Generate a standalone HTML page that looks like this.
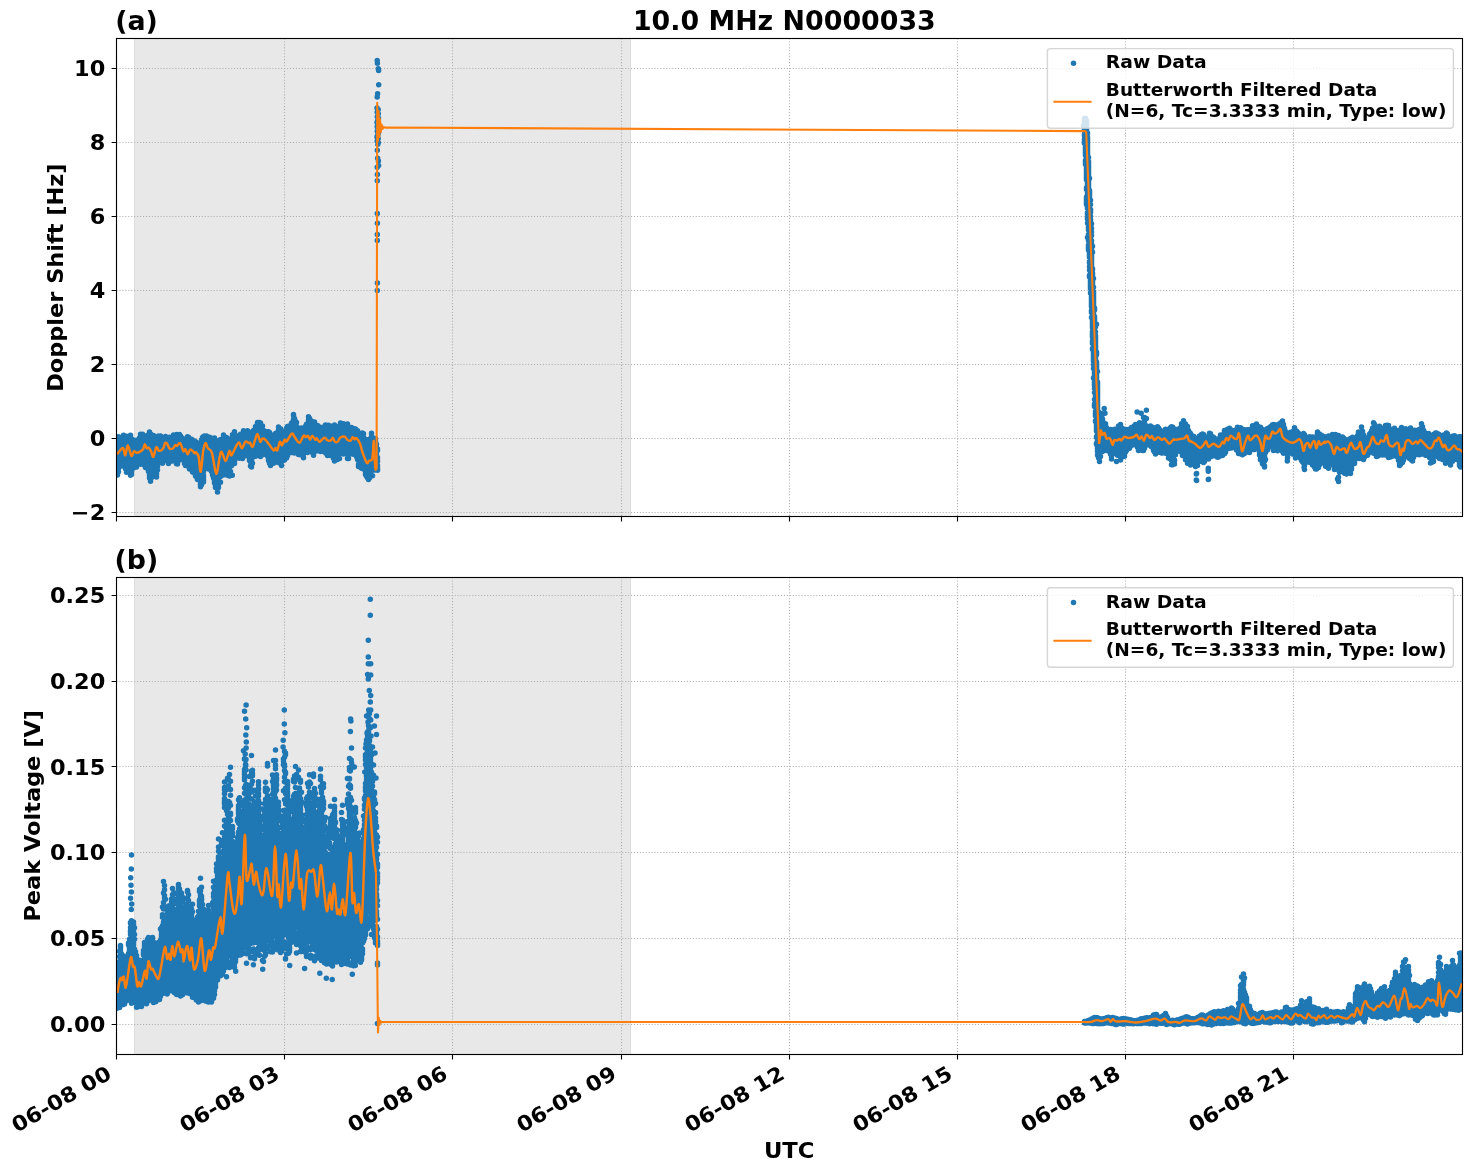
<!DOCTYPE html><html><head><meta charset="utf-8"><title>10.0 MHz N0000033</title>
<style>html,body{margin:0;padding:0;background:#fff;overflow:hidden}svg{display:block}text{font-family:"DejaVu Sans","Liberation Sans",sans-serif;font-weight:bold;fill:#000}</style></head><body>
<svg width="1472" height="1172" viewBox="0 0 1472 1172">
<rect width="1472" height="1172" fill="#fff"/>
<clipPath id="ca"><rect x="116.5" y="38.5" width="1346.0" height="478.0"/></clipPath>
<rect x="134.5" y="38.5" width="496.0" height="478.0" fill="#e8e8e8" stroke="#dedede" stroke-width="1"/>
<path d="M116.5 38.5V516.5M284.5 38.5V516.5M452.5 38.5V516.5M621.5 38.5V516.5M789.5 38.5V516.5M957.5 38.5V516.5M1125.5 38.5V516.5M1293.5 38.5V516.5M116.5 512.5H1462.5M116.5 438.5H1462.5M116.5 364.5H1462.5M116.5 290.5H1462.5M116.5 216.5H1462.5M116.5 142.5H1462.5M116.5 68.5H1462.5" stroke="#b0b0b0" stroke-width="1.11" stroke-dasharray="1.11 1.83" fill="none"/>
<g clip-path="url(#ca)"><path d="M116.5 440.1h0M116.5 443.4h0M116.5 445.1V449.1M116.5 451.5V458.1M116.5 462.5V468.1M116.5 470.6h0M117.5 436.9h0M117.5 439.2V439.6M117.5 441.4V442.5M117.5 444.8V463.2M117.5 464.8V468.0M117.5 472.1V473.2M117.5 475.1h0M118.5 436.7h0M118.5 439.9h0M118.5 442.3V462.8M118.5 465.0h0M118.5 467.4V468.2M118.5 471.7h0M119.5 438.3V439.1M119.5 441.0V466.8M120.5 438.0h0M120.5 440.7V442.3M120.5 444.1V450.8M120.5 453.4V464.6M121.5 440.4V461.2M121.5 465.5V465.9M122.5 440.3h0M122.5 442.5V462.8M122.5 464.4h0M123.5 435.2h0M123.5 438.0V458.6M123.5 460.3h0M123.5 462.1V465.6M124.5 436.9V438.5M124.5 441.2V464.8M125.5 436.7h0M125.5 439.6V445.7M125.5 447.7V462.5M125.5 464.1V468.7M126.5 436.3h0M126.5 441.1h0M126.5 442.8V463.3M126.5 466.1V466.9M126.5 472.3h0M127.5 440.7V456.8M127.5 458.5V463.4M127.5 467.5V468.1M128.5 440.7V462.2M128.5 467.0h0M129.5 440.6V442.3M129.5 444.5V450.0M129.5 451.8V455.2M129.5 457.3V460.1M129.5 462.8V464.2M129.5 466.5V467.9M129.5 469.5V472.6M130.5 435.2V436.5M130.5 441.9V465.1M130.5 467.6V471.2M130.5 475.3h0M131.5 442.3V444.0M131.5 447.0V454.5M131.5 456.3V465.0M131.5 468.2V471.8M131.5 474.5h0M132.5 439.4h0M132.5 441.1h0M132.5 443.2V457.1M132.5 458.8V468.5M133.5 441.1V447.5M133.5 449.4V463.4M133.5 465.3h0M133.5 467.6V468.1M134.5 444.2V455.3M134.5 457.1V463.4M134.5 465.1h0M135.5 441.0V444.8M135.5 446.4V461.5M135.5 463.2V464.7M136.5 440.2h0M136.5 443.2V467.1M137.5 443.0V458.8M138.5 440.4h0M138.5 442.8V463.7M139.5 438.1h0M139.5 440.7V443.0M139.5 444.8V455.4M139.5 457.1V459.9M139.5 461.5V463.3M140.5 434.2h0M140.5 437.5h0M140.5 439.2V440.4M140.5 442.6V459.1M140.5 460.7V461.3M140.5 464.3h0M141.5 435.7V436.4M141.5 438.1h0M141.5 439.8V462.5M142.5 434.3h0M142.5 437.5V438.0M142.5 440.0V458.1M142.5 460.5V462.6M143.5 439.7V456.9M143.5 458.8h0M143.5 461.6V462.5M143.5 464.5h0M144.5 439.2V455.0M144.5 457.6h0M144.5 460.9h0M144.5 462.8h0M144.5 465.2h0M145.5 437.5V459.7M145.5 461.4V462.7M145.5 466.2V467.5M146.5 436.7V460.1M146.5 462.2h0M146.5 463.9V465.0M146.5 466.6h0M147.5 435.3h0M147.5 437.3h0M147.5 439.6V455.4M147.5 457.1V458.0M147.5 460.0h0M147.5 461.7V465.4M147.5 468.6h0M148.5 437.6h0M148.5 439.4V450.6M148.5 453.2V454.1M148.5 456.9V459.8M148.5 461.6h0M148.5 463.3V465.9M148.5 467.5h0M148.5 470.3V471.5M149.5 431.9h0M149.5 433.9h0M149.5 435.5V458.9M149.5 462.1V465.0M149.5 467.7h0M149.5 475.3h0M149.5 477.9h0M150.5 434.1h0M150.5 437.1V437.6M150.5 439.6V441.7M150.5 443.4V449.7M150.5 451.9V454.4M150.5 456.3V457.5M150.5 459.4V467.9M150.5 469.9h0M150.5 473.2h0M150.5 480.1h0M151.5 439.8V440.7M151.5 443.4V466.0M151.5 468.3h0M151.5 472.7h0M151.5 474.7h0M151.5 477.4h0M152.5 440.0V443.6M152.5 445.6h0M152.5 447.3V457.2M152.5 458.9V463.7M152.5 465.4h0M152.5 467.6V471.4M153.5 435.6V436.6M153.5 440.0V445.0M153.5 446.7V461.6M153.5 464.0V465.0M153.5 466.9V469.8M153.5 472.5h0M154.5 440.7h0M154.5 445.7V463.6M154.5 465.3V465.8M154.5 469.4h0M155.5 440.1V457.8M155.5 460.0V461.5M155.5 463.4V469.6M155.5 473.4h0M156.5 440.9h0M156.5 442.6V463.9M156.5 467.2V471.8M156.5 473.8V474.3M156.5 477.1h0M157.5 439.8V440.6M157.5 442.6V460.3M157.5 462.5h0M157.5 466.0V466.5M157.5 470.1h0M158.5 436.0h0M158.5 437.9V448.3M158.5 449.9V461.9M159.5 436.3V436.9M159.5 439.1h0M159.5 441.1V457.4M159.5 459.0h0M160.5 436.0h0M160.5 439.3V461.2M161.5 438.4V439.2M161.5 442.1V454.8M161.5 456.4V458.3M162.5 439.8h0M162.5 441.4V458.0M162.5 459.6V460.6M162.5 463.3h0M163.5 438.4h0M163.5 440.3V452.3M163.5 455.3V460.4M164.5 437.7V457.2M165.5 436.4V457.9M166.5 438.3V457.2M166.5 460.8h0M167.5 437.4h0M167.5 439.2V451.1M167.5 453.2V455.6M168.5 439.6V459.9M168.5 463.4h0M169.5 437.2V438.0M169.5 439.7V449.3M169.5 450.9V460.6M170.5 439.4V440.1M170.5 441.7V458.5M171.5 439.9V454.9M171.5 458.0V460.9M172.5 439.9V454.3M172.5 461.1h0M173.5 435.1V435.8M173.5 438.0h0M173.5 440.0V455.0M173.5 457.5V458.1M174.5 436.0V437.7M174.5 440.3V454.5M174.5 458.1h0M175.5 435.2V437.2M175.5 439.6V453.2M175.5 455.1V455.9M176.5 434.5V435.5M176.5 437.9V454.5M176.5 456.5h0M176.5 460.9h0M176.5 463.7h0M177.5 436.5h0M177.5 439.0V456.7M177.5 458.6h0M177.5 461.4V464.1M178.5 436.2V453.2M178.5 454.8V456.1M178.5 457.7h0M179.5 434.4V436.6M179.5 438.3V452.5M179.5 455.4h0M179.5 459.3V459.9M180.5 436.1V452.2M180.5 454.2V454.6M181.5 437.6h0M181.5 439.3V459.2M182.5 439.6V456.9M183.5 441.3V458.5M184.5 440.2V456.2M184.5 458.8V463.5M185.5 439.1V439.6M185.5 441.6V458.1M185.5 459.8V460.1M185.5 461.8V465.6M186.5 438.3V458.7M186.5 460.5h0M186.5 462.6h0M186.5 464.5V465.3M187.5 436.7h0M187.5 438.9V462.7M188.5 437.3V439.3M188.5 442.7V448.4M188.5 450.2V460.6M188.5 462.5h0M188.5 465.0V466.5M189.5 438.9h0M189.5 440.8V457.6M189.5 459.5V462.8M189.5 467.3h0M189.5 469.1h0M190.5 441.0V464.4M190.5 468.7h0M191.5 439.3h0M191.5 441.9V465.3M191.5 467.6h0M192.5 439.9V444.4M192.5 446.3V462.9M192.5 466.5h0M192.5 472.1h0M193.5 442.6V461.2M193.5 463.3V466.4M193.5 468.0V469.1M194.5 440.9V444.3M194.5 446.0V460.5M194.5 463.4V464.9M194.5 467.4V470.7M194.5 473.0h0M195.5 441.7V443.6M195.5 446.3V463.4M195.5 465.4h0M195.5 473.7V476.1M196.5 443.4V465.4M196.5 470.2h0M196.5 475.7V476.9M197.5 444.5V463.6M197.5 465.3V467.2M197.5 469.1V469.7M197.5 471.9h0M197.5 473.6V473.9M197.5 476.4h0M197.5 479.5h0M198.5 443.2V444.6M198.5 446.5V465.3M198.5 467.0V468.4M198.5 473.1h0M198.5 478.2h0M199.5 446.1h0M199.5 448.8h0M199.5 451.9V453.6M199.5 456.9V457.3M199.5 459.3V479.7M200.5 451.2h0M200.5 454.4h0M200.5 457.0V458.4M200.5 460.1V463.6M200.5 465.3V479.4M200.5 481.8h0M200.5 484.0V484.9M200.5 486.8h0M201.5 439.9h0M201.5 444.1h0M201.5 446.0h0M201.5 447.7h0M201.5 449.5V455.6M201.5 458.0V476.3M201.5 480.4h0M201.5 482.2h0M201.5 484.8h0M202.5 437.4h0M202.5 440.6h0M202.5 443.3V447.6M202.5 449.5V467.7M202.5 469.7h0M202.5 471.6V474.4M202.5 476.6V478.0M202.5 482.0h0M203.5 436.5V436.9M203.5 442.1V455.3M203.5 457.4V462.9M203.5 466.7h0M203.5 468.6V469.0M203.5 471.5h0M203.5 475.1h0M203.5 477.1h0M203.5 479.4V480.2M203.5 482.0h0M204.5 436.0h0M204.5 437.6V441.4M204.5 443.2V451.5M204.5 454.6V457.9M204.5 459.9V464.5M204.5 466.3h0M205.5 436.5V457.8M206.5 436.0h0M206.5 438.1V450.8M206.5 452.5V459.9M206.5 463.1h0M207.5 437.7V457.1M208.5 440.2V445.5M208.5 447.7V460.7M208.5 462.9h0M208.5 465.4h0M208.5 469.0h0M209.5 437.3V439.0M209.5 441.6V459.2M209.5 461.2V463.5M209.5 468.6h0M210.5 437.7h0M210.5 439.5h0M210.5 442.9V459.2M210.5 460.9V463.8M211.5 441.1V459.6M211.5 462.1V463.3M211.5 465.2h0M211.5 467.4h0M211.5 471.5h0M212.5 444.2h0M212.5 447.2V468.5M212.5 475.1h0M213.5 443.2h0M213.5 446.3V473.8M213.5 476.5V478.0M214.5 438.0h0M214.5 441.4h0M214.5 443.4h0M214.5 447.1V447.8M214.5 449.4V450.4M214.5 453.3h0M214.5 454.9V459.9M214.5 461.6V473.6M214.5 475.2V481.3M214.5 483.1h0M215.5 446.3h0M215.5 448.7h0M215.5 451.5V452.8M215.5 454.8V464.0M215.5 466.2V482.4M215.5 486.3V487.4M216.5 448.5h0M216.5 453.4h0M216.5 455.0V456.7M216.5 459.6V463.1M216.5 465.6V466.4M216.5 469.2V482.8M216.5 485.9V487.3M217.5 443.7h0M217.5 446.0h0M217.5 450.5h0M217.5 455.1h0M217.5 458.5V482.1M217.5 486.2h0M217.5 492.0h0M218.5 440.7V448.3M218.5 449.9V454.8M218.5 456.5V468.6M218.5 471.1V476.6M218.5 479.9h0M218.5 484.5h0M218.5 487.4h0M219.5 442.4h0M219.5 446.5h0M219.5 448.9V468.3M219.5 470.1V472.1M219.5 474.1V474.8M219.5 477.1h0M219.5 482.6h0M220.5 439.5h0M220.5 441.9V443.3M220.5 445.0V446.1M220.5 448.6V464.2M220.5 466.5h0M220.5 468.3h0M220.5 469.9V471.5M220.5 474.0h0M220.5 476.4h0M220.5 482.2h0M221.5 440.6V457.1M221.5 459.0V471.2M221.5 474.7h0M222.5 441.3V463.9M222.5 466.7V467.8M222.5 470.5h0M222.5 473.1V473.7M223.5 435.0h0M223.5 438.4h0M223.5 440.3V450.0M223.5 452.5V465.4M223.5 468.1V473.0M223.5 475.1h0M224.5 439.0V441.2M224.5 444.3V445.3M224.5 448.5V449.0M224.5 450.7V461.3M224.5 463.0V472.6M224.5 474.6h0M225.5 438.2h0M225.5 440.4V441.2M225.5 443.6h0M225.5 445.2V445.7M225.5 448.0V452.0M225.5 453.8V468.6M225.5 470.7V471.1M226.5 437.6h0M226.5 440.8V442.0M226.5 443.8h0M226.5 446.1V448.3M226.5 449.9V450.9M226.5 452.7V453.6M226.5 455.3V467.6M226.5 469.3V470.5M227.5 442.8V462.3M227.5 464.4V468.7M227.5 473.6h0M227.5 475.2h0M228.5 439.3V440.3M228.5 442.3V442.7M228.5 444.6V462.8M228.5 466.6V470.3M228.5 473.1h0M228.5 475.0h0M229.5 439.2V457.7M229.5 459.6V463.6M229.5 466.0h0M229.5 470.2h0M229.5 474.2V475.9M230.5 440.5V457.8M230.5 459.6V460.6M230.5 462.4V462.7M230.5 466.0h0M230.5 471.5h0M231.5 442.0V445.0M231.5 446.7V464.1M231.5 465.8h0M232.5 434.7h0M232.5 436.8V437.7M232.5 441.6h0M232.5 443.5V460.1M232.5 462.4V462.7M233.5 436.1h0M233.5 437.7h0M233.5 439.5h0M233.5 441.6V457.9M233.5 460.5h0M233.5 462.5h0M234.5 431.8h0M234.5 436.8V437.8M234.5 440.2V461.4M234.5 463.6h0M235.5 437.6V454.4M235.5 456.2V457.4M236.5 437.9V451.3M236.5 454.3V455.3M236.5 457.9h0M237.5 437.1V453.4M237.5 457.1h0M238.5 435.8V452.1M238.5 453.8h0M239.5 436.3V452.8M239.5 454.5V455.3M239.5 458.2h0M240.5 434.2h0M240.5 437.1V455.2M241.5 439.0V441.7M241.5 443.4V453.1M241.5 455.1V457.2M242.5 434.8h0M242.5 437.9h0M242.5 439.5V453.7M242.5 456.4h0M242.5 458.4h0M243.5 430.8h0M243.5 433.2V442.3M243.5 444.0V454.3M244.5 435.1V455.3M245.5 431.9h0M245.5 434.0V447.0M245.5 449.0V450.2M245.5 452.8V455.7M246.5 431.3h0M246.5 433.8V442.8M246.5 444.7V454.0M247.5 430.7h0M247.5 432.4V450.2M248.5 431.8V453.2M249.5 433.0V453.9M249.5 459.3V460.6M250.5 433.2V444.9M250.5 447.2V456.4M250.5 458.2V459.5M250.5 461.8h0M250.5 465.9h0M251.5 432.6V437.0M251.5 438.9V455.4M251.5 457.7V458.3M251.5 460.0V460.6M251.5 463.2V463.7M251.5 467.0h0M252.5 431.8h0M252.5 434.7V435.2M252.5 437.3V457.5M252.5 463.2h0M253.5 430.4V431.7M253.5 434.3h0M253.5 435.9V450.7M253.5 452.3V455.1M254.5 430.3V430.9M254.5 433.3V434.9M254.5 437.2V454.7M255.5 426.5V427.0M255.5 429.1V429.8M255.5 431.8V450.3M255.5 452.2V453.6M255.5 456.2h0M256.5 425.7V444.7M256.5 448.4V450.4M256.5 452.5h0M257.5 422.6V423.1M257.5 425.1V450.2M258.5 423.9h0M258.5 429.1V448.0M258.5 450.1V451.6M259.5 422.4V423.5M259.5 425.8h0M259.5 428.2V443.7M259.5 445.4V451.7M259.5 454.0h0M259.5 456.0h0M260.5 423.1h0M260.5 425.0h0M260.5 427.2V427.7M260.5 430.1V449.2M260.5 451.7V454.4M260.5 456.4h0M261.5 425.4V450.4M262.5 426.1h0M262.5 429.9V431.2M262.5 433.3V451.5M263.5 430.6h0M263.5 433.4V446.6M263.5 448.3V454.6M264.5 431.0V431.6M264.5 433.8V448.0M264.5 450.2V453.8M265.5 431.7V444.7M265.5 446.3V448.8M265.5 450.7h0M266.5 431.8h0M266.5 435.7V451.7M266.5 453.3V454.3M267.5 431.8h0M267.5 434.6h0M267.5 436.6V453.5M267.5 455.9h0M268.5 431.7h0M268.5 436.1V454.8M268.5 457.9V460.4M269.5 432.4V434.5M269.5 437.1V449.9M269.5 452.0V457.0M269.5 458.8V459.2M269.5 461.5h0M269.5 463.3h0M270.5 435.0V456.2M270.5 457.8V458.4M270.5 460.7h0M270.5 463.3h0M270.5 465.4h0M271.5 435.0V436.7M271.5 438.6V459.4M272.5 438.4h0M272.5 440.6V459.0M272.5 460.6V461.2M273.5 438.1h0M273.5 442.0V463.3M274.5 439.4V458.6M274.5 462.0V462.4M275.5 433.4V435.2M275.5 436.9h0M275.5 439.3V458.6M276.5 433.1h0M276.5 437.9V457.5M276.5 461.2h0M277.5 433.5V434.7M277.5 437.6V438.4M277.5 440.7V443.9M277.5 445.7V457.8M277.5 461.4V462.1M278.5 426.9h0M278.5 430.1V432.9M278.5 434.6V435.8M278.5 438.3V452.8M278.5 456.3V456.8M278.5 458.6h0M279.5 431.2V457.6M279.5 459.3h0M279.5 462.9h0M280.5 428.7h0M280.5 431.2h0M280.5 433.6V451.5M280.5 453.5V455.0M280.5 456.9V458.8M280.5 461.2h0M281.5 432.7V436.1M281.5 438.2V458.7M281.5 465.4h0M282.5 431.4h0M282.5 434.4V453.4M282.5 455.1V456.8M282.5 461.0h0M283.5 431.4V432.9M283.5 434.9V446.1M283.5 449.3V451.9M283.5 453.6V455.0M283.5 458.2h0M284.5 434.3V446.9M284.5 450.6V457.3M284.5 460.1h0M285.5 432.6V450.3M286.5 428.3h0M286.5 431.3V451.8M286.5 456.1V457.9M287.5 426.6h0M287.5 428.8h0M287.5 431.6V449.3M287.5 451.5h0M287.5 453.9h0M287.5 455.8h0M288.5 426.2V427.4M288.5 430.3V450.7M289.5 427.8V428.5M289.5 431.5V452.5M290.5 428.2V445.1M290.5 447.3V448.3M290.5 450.1V450.6M291.5 423.2V424.3M291.5 425.9V426.3M291.5 427.9V428.7M291.5 430.8V444.9M291.5 446.6V449.2M291.5 452.4h0M292.5 422.3V425.7M292.5 427.7V431.9M292.5 433.5V447.2M293.5 414.5V415.4M293.5 419.3h0M293.5 421.1V424.5M293.5 426.5V431.7M293.5 433.6V448.7M293.5 450.5h0M294.5 418.5V419.8M294.5 422.1V428.6M294.5 430.4V450.9M294.5 453.0h0M295.5 421.3h0M295.5 425.7V447.8M295.5 449.6V451.6M296.5 422.6h0M296.5 426.4V427.1M296.5 429.2V432.0M296.5 434.6V452.2M297.5 428.5h0M297.5 430.9V449.4M297.5 453.0h0M298.5 428.0V429.6M298.5 431.6V433.7M298.5 435.4V451.5M298.5 453.3V454.5M299.5 429.7V432.2M299.5 433.9V448.9M299.5 452.1V453.7M300.5 429.2V454.8M301.5 428.0h0M301.5 430.8V447.2M301.5 449.6V451.0M302.5 429.5V445.1M302.5 447.8V448.9M303.5 429.9V442.4M303.5 445.2V446.3M303.5 448.1V451.9M303.5 454.0h0M303.5 457.8h0M304.5 428.6V445.2M304.5 447.8h0M305.5 426.2h0M305.5 428.5V446.0M305.5 448.1h0M306.5 424.3V425.7M306.5 427.8V443.6M306.5 446.3V449.4M306.5 452.2h0M307.5 423.6h0M307.5 425.6V426.0M307.5 427.6V445.9M307.5 452.5h0M308.5 416.8h0M308.5 419.7h0M308.5 421.8h0M308.5 423.8h0M308.5 426.1V426.9M308.5 428.8V435.1M308.5 436.8V443.8M309.5 418.2V418.8M309.5 422.0h0M309.5 423.6h0M309.5 425.5h0M309.5 427.4V428.6M309.5 431.1V448.5M310.5 423.0V425.8M310.5 429.1V445.1M310.5 449.4V450.0M311.5 421.1h0M311.5 423.8V447.2M311.5 450.6V451.9M312.5 423.7h0M312.5 425.4V444.4M312.5 446.1V447.1M312.5 448.8h0M312.5 451.7h0M313.5 422.1V445.3M313.5 447.3V451.5M313.5 455.2h0M314.5 421.9h0M314.5 424.2V425.5M314.5 428.5V430.0M314.5 431.7V444.3M314.5 446.1V446.6M314.5 448.4V449.9M314.5 451.6h0M315.5 426.1V450.5M316.5 425.8h0M316.5 428.3V446.7M316.5 448.4V449.2M316.5 451.1h0M317.5 425.6h0M317.5 429.2V430.0M317.5 432.1V450.2M318.5 427.0V427.5M318.5 429.9h0M318.5 431.6h0M318.5 433.3V449.9M319.5 432.1V449.2M319.5 451.0h0M320.5 427.3V428.4M320.5 430.3V451.4M321.5 428.5V445.4M321.5 447.1V447.7M322.5 428.1V448.1M323.5 428.3h0M323.5 430.6V449.0M324.5 426.4V427.5M324.5 431.7V449.9M324.5 452.1h0M325.5 425.0V445.0M325.5 446.9V449.1M325.5 451.2V452.7M326.5 429.1V430.1M326.5 431.7V447.9M326.5 450.8V453.8M327.5 427.5V428.4M327.5 430.1V451.0M327.5 453.3h0M327.5 455.4h0M328.5 425.3h0M328.5 428.2V447.8M328.5 451.8h0M329.5 431.3V432.7M329.5 434.8V454.1M330.5 425.9h0M330.5 428.8h0M330.5 430.8V448.0M330.5 450.6V451.3M330.5 453.9h0M330.5 455.6h0M331.5 427.4h0M331.5 431.6V452.2M331.5 455.0V455.6M332.5 429.4h0M332.5 431.6h0M332.5 433.5V447.7M332.5 450.2V451.4M332.5 454.0V455.3M333.5 429.2h0M333.5 431.0h0M333.5 433.6V453.5M333.5 456.7V458.2M334.5 425.0h0M334.5 427.7V429.0M334.5 432.3V454.8M334.5 458.3V461.1M335.5 429.3V453.8M335.5 457.6V458.7M336.5 426.4V426.9M336.5 428.5V429.1M336.5 432.1V433.7M336.5 435.8V453.5M337.5 428.8h0M337.5 430.6V448.5M337.5 450.4V454.1M337.5 457.4h0M337.5 459.6h0M338.5 428.8h0M338.5 431.3V448.9M338.5 450.7V454.4M338.5 457.1h0M339.5 426.9V452.0M339.5 458.5h0M340.5 422.9h0M340.5 424.5h0M340.5 427.4V449.5M340.5 451.6V452.4M341.5 423.7V425.1M341.5 426.9V448.1M341.5 451.0V452.2M342.5 425.5V426.0M342.5 427.6h0M342.5 429.7V449.6M343.5 423.7h0M343.5 428.0V448.4M343.5 453.9h0M344.5 427.9V445.2M344.5 447.3V447.8M345.5 426.0V427.1M345.5 428.7V447.2M346.5 425.9V449.0M347.5 424.0V425.1M347.5 430.2V448.0M347.5 450.4h0M347.5 454.4h0M347.5 458.5h0M348.5 427.6V428.4M348.5 430.1V450.0M348.5 451.9h0M348.5 453.5V455.0M348.5 458.5h0M349.5 430.1h0M349.5 432.6V450.7M349.5 452.3h0M350.5 428.2h0M350.5 431.1V436.1M350.5 437.8V450.7M350.5 453.9h0M351.5 427.6V427.9M351.5 431.0V447.4M351.5 449.9h0M351.5 453.0h0M352.5 429.2V440.9M352.5 442.8V449.8M352.5 453.4h0M353.5 430.4V449.0M353.5 453.4V454.3M354.5 428.7h0M354.5 431.7h0M354.5 433.9V451.0M355.5 428.9h0M355.5 430.8V447.4M355.5 451.2h0M356.5 431.7V447.0M356.5 449.2h0M356.5 451.8V453.0M356.5 456.4h0M357.5 430.8h0M357.5 433.9V442.7M357.5 444.6V452.1M357.5 459.6h0M358.5 433.8V449.4M358.5 451.6V456.2M358.5 459.6V460.8M358.5 464.7h0M358.5 466.6h0M359.5 434.3V447.8M359.5 450.1V454.7M359.5 456.5V457.3M359.5 460.6V464.3M360.5 433.6V435.0M360.5 437.2V458.2M360.5 460.0V461.5M361.5 435.2h0M361.5 438.2h0M361.5 441.5V462.7M361.5 468.3h0M362.5 433.1h0M362.5 435.3V436.2M362.5 440.8h0M362.5 442.8V443.9M362.5 445.7V457.2M362.5 459.0V460.5M362.5 462.2V465.4M363.5 433.7h0M363.5 437.3V444.6M363.5 448.2V460.3M363.5 462.0V464.1M363.5 466.7h0M363.5 469.0h0M364.5 439.3h0M364.5 441.3h0M364.5 443.3h0M364.5 445.1V459.8M364.5 461.7V462.7M364.5 465.6V467.7M365.5 439.2h0M365.5 441.2h0M365.5 443.0V447.7M365.5 449.9h0M365.5 451.9V452.8M365.5 455.0V471.0M365.5 473.4V474.5M366.5 446.3V467.5M366.5 469.1V473.8M366.5 476.2h0M367.5 441.2h0M367.5 443.5h0M367.5 445.2V459.9M367.5 461.9V472.9M367.5 475.8h0M367.5 477.8h0M368.5 439.9h0M368.5 441.5V442.0M368.5 444.6V445.8M368.5 449.1V451.7M368.5 453.4V467.1M368.5 469.1V470.3M368.5 471.9h0M368.5 474.2h0M368.5 476.0V476.6M368.5 479.6h0M369.5 439.2h0M369.5 441.1h0M369.5 448.9h0M369.5 450.7V472.3M369.5 474.5h0M369.5 477.0V478.1M370.5 442.8V444.0M370.5 448.1V456.2M370.5 458.5V472.0M370.5 473.7h0M370.5 475.6h0M371.5 433.2h0M371.5 436.4V438.1M371.5 442.9h0M371.5 446.0V449.7M371.5 451.4V455.5M371.5 457.1V459.2M371.5 460.9V470.6M372.5 439.8V452.9M372.5 454.7V460.1M372.5 461.8V466.3M372.5 468.1h0M372.5 475.8h0M373.5 438.0V452.0M373.5 454.0V455.5M373.5 457.1h0M373.5 459.0V466.4M373.5 470.1h0M374.5 442.1V443.3M374.5 445.3V468.4M375.5 438.8h0M375.5 440.7V442.8M375.5 445.3h0M375.5 451.0h0M375.5 453.1V454.5M375.5 456.5V459.6M375.5 464.2V470.0M376.5 444.3h0M376.5 447.4V448.6M376.5 454.2V461.9M376.5 465.0V469.8M377.5 448.9h0M377.5 450.6h0M377.5 457.6h0M377.5 460.7V461.4M377.5 465.6h0M377.5 467.4V470.2M1097.5 432.3h0M1097.5 437.3V438.3M1097.5 441.3V449.0M1097.5 450.7V451.4M1097.5 454.9h0M1098.5 422.0h0M1098.5 425.6h0M1098.5 427.7V428.9M1098.5 432.1h0M1098.5 434.8V457.8M1099.5 420.4V422.0M1099.5 424.1V428.5M1099.5 431.1V431.6M1099.5 433.5V455.1M1099.5 457.7h0M1099.5 461.4h0M1100.5 418.6h0M1100.5 420.6V444.3M1100.5 446.7V447.5M1100.5 449.5V450.3M1100.5 452.0h0M1100.5 456.5h0M1101.5 413.4h0M1101.5 417.5V439.9M1101.5 442.3V442.9M1101.5 444.6V450.5M1102.5 414.6h0M1102.5 419.1V420.5M1102.5 422.8V424.7M1102.5 427.0V443.8M1102.5 451.4h0M1103.5 422.8V424.0M1103.5 425.9V442.4M1103.5 444.6V446.1M1103.5 449.8h0M1104.5 423.5V442.2M1104.5 443.9V446.3M1105.5 423.7V426.8M1105.5 429.0V447.8M1106.5 427.7V445.7M1106.5 447.8V448.7M1106.5 450.4h0M1107.5 431.4V448.7M1108.5 430.5V431.5M1108.5 433.2V446.4M1108.5 450.9h0M1109.5 430.5V447.0M1109.5 449.0h0M1110.5 429.6V449.4M1110.5 453.9h0M1111.5 430.4h0M1111.5 432.9V451.0M1111.5 452.7V453.5M1111.5 455.6V456.3M1111.5 459.0h0M1112.5 434.1V435.3M1112.5 437.0V452.3M1112.5 454.3h0M1113.5 432.5V449.4M1114.5 429.3V430.7M1114.5 433.8V448.3M1115.5 431.4V449.4M1116.5 430.6h0M1116.5 432.5V453.8M1117.5 429.4V430.5M1117.5 432.6V433.9M1117.5 435.6V446.8M1117.5 449.5V450.3M1117.5 455.3h0M1118.5 426.0V426.5M1118.5 428.4V448.5M1118.5 450.1V450.9M1119.5 425.9h0M1119.5 428.0V446.5M1119.5 449.5h0M1119.5 454.7h0M1120.5 424.5V451.7M1120.5 454.3h0M1120.5 456.2V456.6M1120.5 460.1h0M1121.5 431.7V444.6M1121.5 446.2V447.5M1121.5 450.4V452.9M1121.5 457.5h0M1122.5 428.6V429.0M1122.5 430.8V449.8M1122.5 451.5h0M1123.5 429.7V450.5M1124.5 429.7V447.0M1124.5 449.2V450.1M1124.5 451.8V453.7M1124.5 456.2h0M1125.5 430.8V447.9M1125.5 450.8V451.9M1126.5 429.5V429.8M1126.5 431.8V444.0M1126.5 446.8V448.0M1126.5 450.6h0M1127.5 431.2V446.8M1127.5 448.7h0M1128.5 429.6V445.8M1128.5 447.7h0M1129.5 429.6h0M1129.5 431.6V448.2M1130.5 428.9V430.4M1130.5 432.5V442.1M1130.5 443.8V446.2M1131.5 427.6V428.6M1131.5 430.6h0M1131.5 432.3V441.1M1131.5 442.7V444.4M1132.5 427.9V443.7M1133.5 426.9V428.4M1133.5 430.6V441.0M1133.5 444.0V444.8M1134.5 425.7V426.2M1134.5 428.9V444.0M1135.5 424.6V443.5M1136.5 426.3V439.9M1136.5 441.9V445.2M1137.5 426.5V442.1M1137.5 443.9V447.2M1138.5 425.6h0M1138.5 428.3V446.5M1138.5 449.2V450.4M1139.5 422.8V424.8M1139.5 428.3V447.8M1140.5 424.4h0M1140.5 426.7V428.1M1140.5 430.0V444.6M1140.5 446.5V448.7M1141.5 427.6V443.9M1141.5 445.9V450.3M1142.5 426.3V427.1M1142.5 430.5V450.5M1143.5 417.6h0M1143.5 422.7V424.1M1143.5 427.2h0M1143.5 429.4V446.1M1143.5 448.0V450.6M1144.5 417.4h0M1144.5 421.1h0M1144.5 422.9V424.0M1144.5 427.2V433.6M1144.5 435.7V445.6M1144.5 447.7V448.2M1145.5 428.7V442.4M1145.5 444.1h0M1146.5 426.0h0M1146.5 428.0V439.0M1146.5 440.7V442.9M1147.5 426.9V441.9M1148.5 428.3V442.1M1148.5 444.3V444.9M1149.5 430.7V444.3M1150.5 426.0V429.9M1150.5 431.5V444.9M1151.5 428.9V443.0M1151.5 446.7h0M1152.5 427.2h0M1152.5 428.9V443.9M1152.5 445.9V446.9M1153.5 428.4V428.8M1153.5 430.5V443.9M1153.5 446.5V447.6M1153.5 450.4h0M1154.5 429.9V452.1M1155.5 428.9h0M1155.5 431.3V446.6M1155.5 449.7V451.1M1155.5 453.0V454.1M1156.5 427.6h0M1156.5 429.4V450.3M1156.5 452.6h0M1157.5 426.8V427.3M1157.5 429.2V446.4M1157.5 451.9h0M1158.5 428.0V443.5M1158.5 445.9V447.6M1158.5 451.0V452.2M1159.5 429.6h0M1159.5 432.2V443.5M1159.5 445.3V447.1M1160.5 431.1V449.9M1161.5 432.5V447.4M1161.5 449.6V452.9M1162.5 431.6V432.3M1162.5 434.1V451.0M1162.5 453.1h0M1163.5 431.1V449.9M1163.5 452.7h0M1164.5 431.8V450.8M1165.5 429.3V445.8M1165.5 448.0h0M1165.5 451.4V453.3M1166.5 431.3V432.3M1166.5 435.8V448.3M1166.5 450.1V453.2M1167.5 431.6V448.8M1167.5 451.0V451.9M1168.5 431.2V451.6M1168.5 455.1h0M1168.5 457.9h0M1169.5 428.7h0M1169.5 434.3V454.8M1169.5 457.6V458.4M1170.5 427.8h0M1170.5 431.1V449.3M1170.5 451.0V452.6M1170.5 455.1h0M1170.5 458.4h0M1171.5 426.7h0M1171.5 431.5V450.7M1171.5 452.6V454.3M1171.5 458.0h0M1171.5 460.3h0M1171.5 464.7h0M1172.5 427.1V428.5M1172.5 431.8V432.9M1172.5 434.8V451.7M1172.5 454.4h0M1172.5 458.4h0M1172.5 464.8h0M1173.5 431.8V433.6M1173.5 435.4V455.2M1173.5 457.4h0M1173.5 459.9h0M1174.5 430.7V450.4M1174.5 454.4V455.1M1174.5 460.1V461.1M1174.5 464.0h0M1175.5 429.3V432.8M1175.5 434.4V450.6M1175.5 454.3V454.8M1176.5 430.1V430.8M1176.5 432.6V448.2M1176.5 449.8h0M1177.5 429.7V441.6M1177.5 443.4V448.9M1177.5 451.1h0M1178.5 431.2V433.7M1178.5 435.9V447.5M1179.5 428.5h0M1179.5 430.9V446.2M1179.5 447.9V448.7M1179.5 450.4V450.9M1180.5 427.8h0M1180.5 429.6V445.3M1180.5 447.3V448.3M1181.5 423.7h0M1181.5 426.3h0M1181.5 428.7V445.0M1181.5 447.0V447.9M1181.5 452.2h0M1182.5 424.7h0M1182.5 426.5V426.8M1182.5 428.5V448.5M1182.5 450.4h0M1182.5 455.4h0M1183.5 420.8h0M1183.5 424.1V425.5M1183.5 428.8V447.3M1183.5 454.4h0M1184.5 424.7h0M1184.5 427.9V432.2M1184.5 433.8V446.8M1184.5 448.7V452.0M1184.5 454.4h0M1185.5 424.0h0M1185.5 425.7V444.0M1185.5 446.0V447.8M1185.5 451.1V451.8M1185.5 456.0h0M1185.5 459.7h0M1186.5 428.2V448.1M1186.5 450.4V451.6M1186.5 454.1V455.7M1187.5 426.4h0M1187.5 429.5V449.7M1187.5 453.3V454.4M1187.5 457.0V457.8M1187.5 459.6V460.5M1187.5 463.2h0M1188.5 430.6V449.4M1188.5 452.3h0M1188.5 459.8h0M1189.5 432.5V450.0M1189.5 452.9V453.4M1189.5 459.8h0M1189.5 463.3h0M1190.5 433.4V435.4M1190.5 437.2V451.8M1190.5 455.3V456.5M1190.5 459.9h0M1190.5 463.1h0M1190.5 465.0h0M1191.5 435.2V457.5M1192.5 436.6V456.7M1192.5 460.5h0M1193.5 436.3V447.1M1193.5 449.1V456.3M1193.5 459.6h0M1194.5 438.6V454.1M1194.5 456.8V460.0M1195.5 438.3V456.8M1195.5 462.3h0M1195.5 464.4V466.6M1196.5 440.2V461.6M1196.5 463.9h0M1197.5 437.9V438.6M1197.5 441.6V456.9M1197.5 458.7V460.9M1197.5 465.4h0M1198.5 438.2V452.4M1198.5 454.4V456.1M1198.5 459.9V461.7M1199.5 436.0h0M1199.5 440.1V458.6M1200.5 436.6V438.3M1200.5 440.7V460.7M1201.5 434.5V436.1M1201.5 438.9V454.0M1201.5 456.1V457.8M1201.5 460.4h0M1202.5 434.1h0M1202.5 436.8V454.3M1202.5 456.0V457.5M1202.5 461.0V461.7M1203.5 434.4V455.9M1203.5 458.0h0M1203.5 460.9V462.4M1204.5 439.3V452.5M1204.5 454.3V455.3M1204.5 458.5V461.6M1205.5 437.1V454.7M1206.5 438.0V452.0M1206.5 454.5V455.0M1207.5 438.5V452.9M1208.5 439.4V452.9M1208.5 454.7h0M1208.5 458.9h0M1209.5 433.2V436.5M1209.5 438.1V453.1M1209.5 454.9V455.7M1210.5 433.7V434.5M1210.5 436.3V453.1M1210.5 456.0V456.7M1211.5 438.7V453.7M1211.5 456.6h0M1212.5 436.7V452.8M1212.5 454.4V456.0M1213.5 437.3V451.3M1213.5 453.8h0M1214.5 438.6V452.6M1214.5 455.0h0M1215.5 439.1V454.3M1216.5 441.1V449.4M1216.5 451.3V452.5M1216.5 456.2V456.6M1217.5 440.1h0M1217.5 441.9V451.5M1217.5 453.2V455.4M1217.5 457.2h0M1218.5 438.8V457.0M1219.5 441.3V456.2M1220.5 435.0h0M1220.5 437.3V451.0M1220.5 452.8V455.0M1221.5 435.9V447.3M1221.5 448.9V451.3M1222.5 435.2V452.2M1222.5 455.4h0M1223.5 435.2V451.7M1223.5 453.9h0M1224.5 430.5V453.7M1225.5 433.5V446.2M1225.5 448.2h0M1225.5 450.0V452.3M1226.5 431.1V445.6M1227.5 429.3h0M1227.5 432.3h0M1227.5 433.9V447.9M1228.5 429.0V448.5M1229.5 428.2V447.4M1230.5 429.4V447.8M1231.5 431.4V442.5M1231.5 446.0h0M1231.5 448.1h0M1232.5 430.5V445.8M1233.5 431.3V447.3M1234.5 431.7h0M1234.5 433.8V445.4M1235.5 432.0V445.1M1236.5 429.4V431.0M1236.5 433.0V443.5M1236.5 445.1h0M1236.5 448.4h0M1236.5 450.0h0M1237.5 427.2V428.4M1237.5 430.1h0M1237.5 432.0V449.4M1238.5 427.7V442.9M1238.5 444.7V446.7M1238.5 448.4V450.3M1238.5 452.1V453.6M1239.5 430.2V445.6M1239.5 449.3h0M1239.5 451.7h0M1240.5 427.7V431.0M1240.5 433.6V451.1M1240.5 453.4h0M1241.5 429.3h0M1241.5 432.0h0M1241.5 434.5V436.2M1241.5 438.5V454.2M1242.5 437.2V454.8M1243.5 429.5h0M1243.5 432.1h0M1243.5 435.3V452.3M1243.5 454.1h0M1244.5 429.9h0M1244.5 432.8V440.9M1244.5 442.8V450.9M1244.5 453.5h0M1245.5 430.1V430.7M1245.5 432.3V446.9M1245.5 449.8h0M1246.5 430.2V447.7M1247.5 429.8h0M1247.5 431.5V444.2M1247.5 447.1h0M1247.5 449.6V451.1M1248.5 429.8V430.2M1248.5 431.9V449.4M1248.5 452.2h0M1249.5 430.1h0M1249.5 432.5V446.1M1249.5 448.1h0M1249.5 452.4h0M1250.5 431.8V447.9M1251.5 431.9V442.9M1251.5 444.6V447.1M1251.5 449.2h0M1252.5 425.8V427.1M1252.5 429.9V446.7M1252.5 448.3V449.1M1253.5 425.7V444.8M1253.5 449.4h0M1254.5 425.7V449.4M1255.5 424.9V427.4M1255.5 429.3V446.7M1256.5 423.9h0M1256.5 425.9V442.9M1256.5 446.5h0M1257.5 426.0V442.7M1257.5 445.9h0M1258.5 428.8h0M1258.5 430.8V447.0M1259.5 431.4V448.2M1259.5 450.3h0M1259.5 452.2h0M1259.5 455.0h0M1260.5 427.2h0M1260.5 429.2V431.1M1260.5 434.4V449.0M1260.5 450.7V455.0M1260.5 459.1V459.7M1261.5 428.8h0M1261.5 433.0V437.9M1261.5 440.4V456.2M1261.5 458.7V460.1M1262.5 433.6V437.2M1262.5 439.9V463.7M1263.5 429.8h0M1263.5 432.4V461.0M1263.5 464.1V464.4M1264.5 433.4V452.2M1264.5 454.7V458.1M1264.5 460.4V461.2M1264.5 466.1V466.9M1265.5 431.7V449.1M1265.5 451.6V452.6M1265.5 459.4h0M1266.5 431.9V450.5M1267.5 428.5V430.4M1267.5 432.2V447.9M1267.5 450.1h0M1268.5 429.7V445.1M1269.5 427.5V428.6M1269.5 431.0V446.1M1270.5 426.8V446.0M1271.5 426.1V444.0M1271.5 445.7V446.4M1272.5 424.7V441.8M1272.5 444.0V445.3M1272.5 447.5h0M1273.5 424.6V441.3M1273.5 444.1h0M1273.5 446.7V447.2M1273.5 450.4h0M1274.5 426.0V444.5M1274.5 446.3V447.4M1275.5 425.1V442.7M1275.5 444.4h0M1275.5 447.6V448.3M1276.5 425.4V446.6M1277.5 424.7V442.4M1277.5 445.7V446.1M1277.5 447.7h0M1277.5 450.8h0M1278.5 425.4V440.1M1278.5 442.0V443.7M1279.5 423.8V437.0M1279.5 438.9V441.0M1279.5 443.3h0M1279.5 445.0h0M1280.5 422.9V435.5M1280.5 437.1V439.9M1280.5 441.7h0M1280.5 443.5V444.8M1281.5 424.7V441.9M1281.5 443.6h0M1281.5 445.4V446.2M1281.5 449.7h0M1282.5 421.0h0M1282.5 423.2h0M1282.5 424.8V446.3M1282.5 451.6h0M1283.5 424.5h0M1283.5 427.2V429.8M1283.5 431.5V445.9M1283.5 448.9h0M1283.5 450.9V453.2M1284.5 428.3V430.2M1284.5 431.9V444.6M1284.5 447.1V449.1M1285.5 431.4V432.7M1285.5 435.0V448.9M1285.5 450.9V451.9M1286.5 434.3V448.9M1286.5 450.8V452.4M1287.5 436.3V448.8M1287.5 450.6V452.7M1287.5 454.3h0M1287.5 457.2V457.7M1288.5 432.9h0M1288.5 434.9h0M1288.5 436.6V451.2M1289.5 433.3h0M1289.5 435.0V448.6M1289.5 450.9h0M1290.5 432.2h0M1290.5 434.2V434.6M1290.5 437.4V450.8M1291.5 435.6V451.2M1292.5 436.0V448.9M1292.5 450.5V454.0M1293.5 431.1V448.7M1293.5 451.0V453.4M1294.5 427.7h0M1294.5 431.4V451.8M1294.5 453.6h0M1295.5 431.4V432.0M1295.5 434.7V455.8M1295.5 458.0h0M1296.5 431.0V447.3M1296.5 449.0V453.2M1296.5 455.1h0M1297.5 432.2V452.2M1298.5 433.3h0M1298.5 435.3V452.2M1298.5 454.9V456.2M1299.5 434.6V447.6M1299.5 449.6V453.9M1299.5 455.8h0M1300.5 435.5V451.3M1300.5 453.4h0M1300.5 456.2h0M1300.5 458.3h0M1301.5 434.6V446.5M1301.5 448.5V454.8M1301.5 457.9h0M1301.5 460.4h0M1302.5 435.5V438.4M1302.5 440.9h0M1302.5 442.7V452.7M1302.5 454.5V456.0M1302.5 458.6V460.1M1302.5 461.8h0M1303.5 433.5V437.8M1303.5 440.6V442.5M1303.5 444.3V461.2M1303.5 463.0h0M1304.5 434.7h0M1304.5 436.8V458.9M1304.5 462.3V463.4M1304.5 465.4h0M1304.5 469.6h0M1305.5 437.3V450.4M1305.5 452.1V457.4M1306.5 438.2V447.6M1306.5 449.3V454.5M1306.5 456.2V457.4M1306.5 460.3h0M1307.5 437.6h0M1307.5 439.7V455.8M1307.5 458.5h0M1307.5 461.9h0M1308.5 437.6V456.1M1308.5 459.5V460.4M1309.5 436.8V437.5M1309.5 439.3V457.8M1309.5 460.2h0M1309.5 462.3h0M1310.5 439.0V457.3M1310.5 462.4h0M1311.5 438.2V448.0M1311.5 450.1V455.6M1311.5 459.3V461.8M1312.5 436.9V443.3M1312.5 445.5V450.8M1312.5 452.4V454.1M1312.5 456.2h0M1312.5 458.6V459.9M1312.5 464.9h0M1313.5 437.6V454.7M1313.5 458.8h0M1313.5 461.5V461.9M1313.5 465.4h0M1314.5 437.6V459.0M1314.5 460.9V462.3M1314.5 465.4h0M1314.5 467.1h0M1315.5 438.0V452.1M1315.5 454.0V458.7M1315.5 462.9V463.4M1315.5 466.8h0M1315.5 469.0h0M1316.5 438.8h0M1316.5 440.6V449.9M1316.5 452.2V457.6M1316.5 459.3V460.9M1316.5 464.7V466.0M1316.5 467.7V468.9M1317.5 431.9V434.4M1317.5 436.3V450.0M1317.5 451.6V453.2M1317.5 455.2V459.1M1317.5 461.4h0M1317.5 464.2V467.0M1318.5 433.8V456.1M1318.5 458.2h0M1318.5 460.2h0M1318.5 467.6h0M1319.5 434.1V449.8M1319.5 451.5V451.9M1319.5 453.9V459.5M1319.5 461.2V461.6M1319.5 464.8h0M1320.5 435.5h0M1320.5 437.1V451.7M1320.5 453.6h0M1320.5 455.8V457.5M1320.5 459.8V463.2M1321.5 435.3h0M1321.5 437.6V455.8M1321.5 457.5V460.0M1321.5 462.2V462.9M1322.5 436.5V451.4M1322.5 454.7V457.6M1323.5 436.9V454.4M1323.5 456.6V459.3M1323.5 461.9h0M1324.5 436.7V453.9M1324.5 455.8V458.0M1325.5 437.7V460.6M1325.5 463.9h0M1325.5 466.2h0M1326.5 437.9V450.6M1326.5 452.6h0M1326.5 455.3h0M1326.5 457.1h0M1326.5 460.1h0M1327.5 437.9V449.3M1327.5 456.0h0M1327.5 459.0V459.9M1328.5 436.0h0M1328.5 438.3V456.0M1328.5 458.0h0M1328.5 461.4h0M1328.5 464.4h0M1328.5 468.2h0M1329.5 436.7V454.6M1329.5 457.5V458.8M1330.5 436.2V454.3M1330.5 457.1h0M1330.5 458.7h0M1331.5 436.5V437.7M1331.5 440.0V456.2M1331.5 458.7V460.3M1331.5 463.0h0M1332.5 434.5h0M1332.5 437.4h0M1332.5 439.0V462.5M1333.5 439.9h0M1333.5 441.9h0M1333.5 444.1V461.5M1333.5 463.5V465.6M1334.5 439.6V457.1M1334.5 459.0h0M1334.5 461.1V467.8M1334.5 469.6h0M1335.5 434.6h0M1335.5 437.9h0M1335.5 439.8V460.5M1335.5 462.8h0M1335.5 464.9V465.5M1336.5 435.4V436.9M1336.5 438.8V451.0M1336.5 452.7V458.3M1336.5 460.4V462.9M1336.5 468.9h0M1337.5 436.4V455.3M1337.5 457.7V465.0M1337.5 467.7h0M1337.5 478.9h0M1338.5 435.5V438.6M1338.5 440.8V449.4M1338.5 451.7V455.3M1338.5 457.4V463.4M1338.5 466.4h0M1338.5 468.6V469.9M1338.5 477.2h0M1338.5 481.4h0M1339.5 437.2h0M1339.5 439.2h0M1339.5 441.0V454.2M1339.5 456.2V461.7M1339.5 464.0h0M1339.5 472.2h0M1340.5 439.3h0M1340.5 442.5V459.7M1340.5 465.3V466.8M1341.5 439.7V456.6M1341.5 458.2V461.0M1342.5 437.0h0M1342.5 440.5V466.5M1343.5 438.1V439.0M1343.5 441.4V456.0M1343.5 457.9V459.1M1343.5 462.7h0M1343.5 464.6h0M1343.5 467.9h0M1343.5 470.1V471.7M1344.5 438.9V458.9M1344.5 460.7V462.3M1344.5 465.4V467.4M1344.5 473.3h0M1345.5 440.9V456.7M1345.5 458.7V465.3M1346.5 441.4V442.4M1346.5 446.1V463.2M1346.5 465.0h0M1346.5 467.3V468.9M1346.5 471.2h0M1346.5 474.0h0M1347.5 441.8V457.0M1347.5 459.5V469.3M1347.5 471.7h0M1348.5 440.9V443.2M1348.5 445.0V459.2M1348.5 461.6V463.1M1348.5 465.1h0M1349.5 438.9h0M1349.5 440.7V455.2M1349.5 459.7h0M1349.5 462.4V462.9M1350.5 438.4V450.6M1350.5 452.4V455.2M1350.5 457.0h0M1350.5 458.7V462.8M1350.5 465.3h0M1350.5 467.4h0M1350.5 469.3h0M1350.5 473.4h0M1351.5 437.9h0M1351.5 439.7V456.1M1351.5 458.3h0M1351.5 460.9h0M1351.5 462.9V465.9M1351.5 467.9V469.3M1352.5 437.3V445.8M1352.5 447.4V462.1M1353.5 439.5V441.3M1353.5 443.7V455.1M1353.5 457.8V460.1M1353.5 462.3V463.6M1354.5 441.2h0M1354.5 443.2V463.4M1355.5 441.8V458.6M1356.5 437.4h0M1356.5 441.2V456.3M1356.5 458.5h0M1357.5 435.8h0M1357.5 437.6V453.4M1357.5 455.3V456.0M1358.5 432.1V434.5M1358.5 436.6V439.2M1358.5 441.5V455.5M1358.5 458.3h0M1359.5 433.4V449.2M1359.5 450.8V454.0M1359.5 456.3V458.6M1360.5 432.1V435.3M1360.5 437.2V456.5M1361.5 427.0h0M1361.5 433.9V435.7M1361.5 437.4V455.3M1362.5 431.2V432.7M1362.5 436.6V456.9M1363.5 435.0h0M1363.5 438.6V443.0M1363.5 444.7h0M1363.5 448.9V459.4M1364.5 440.8h0M1364.5 442.4V443.6M1364.5 445.3V457.0M1365.5 439.5h0M1365.5 442.9V454.7M1366.5 439.5h0M1366.5 441.4V442.1M1366.5 443.7V454.9M1367.5 438.5h0M1367.5 440.8V452.1M1367.5 453.7V455.2M1368.5 437.2V442.3M1368.5 443.9V453.2M1369.5 434.2V437.0M1369.5 438.6V449.0M1369.5 450.9h0M1370.5 432.9V449.3M1370.5 451.1h0M1371.5 430.9V448.8M1371.5 451.3h0M1372.5 428.2V445.1M1372.5 447.3V449.8M1372.5 451.4h0M1373.5 422.8h0M1373.5 427.4h0M1373.5 429.3V430.7M1373.5 433.4V447.9M1373.5 452.4V453.2M1374.5 424.3V430.4M1374.5 432.3V449.3M1374.5 450.9V452.5M1375.5 426.9V433.2M1375.5 435.3V451.5M1376.5 429.9V451.1M1376.5 455.4V456.6M1377.5 426.9V429.2M1377.5 434.3V435.5M1377.5 437.9V451.4M1377.5 456.3h0M1378.5 427.7V428.8M1378.5 430.5V434.2M1378.5 436.3V437.4M1378.5 439.1V452.0M1378.5 455.5h0M1379.5 426.3h0M1379.5 428.7h0M1379.5 432.7V433.1M1379.5 435.1V454.9M1380.5 427.8V430.9M1380.5 433.1V450.2M1380.5 454.4V454.7M1381.5 432.5V453.4M1382.5 432.2V434.3M1382.5 436.1V445.2M1382.5 447.7V451.4M1382.5 453.1V455.1M1383.5 428.5V447.6M1383.5 449.3V452.7M1384.5 427.6h0M1384.5 430.4V450.2M1384.5 452.6h0M1384.5 454.5h0M1385.5 425.5h0M1385.5 427.7h0M1385.5 429.5V442.6M1385.5 444.4V450.5M1385.5 455.1h0M1386.5 426.8V449.5M1386.5 451.5h0M1387.5 425.3V426.5M1387.5 430.1V448.7M1387.5 450.9h0M1387.5 452.8V453.8M1388.5 425.6V427.1M1388.5 431.3V448.9M1388.5 450.8V452.8M1388.5 457.0V457.6M1389.5 428.8V430.4M1389.5 433.5V451.1M1389.5 452.8V456.4M1390.5 429.7h0M1390.5 434.6V438.6M1390.5 440.8V450.6M1390.5 452.4V457.0M1391.5 431.7V432.4M1391.5 435.7V456.1M1392.5 429.8h0M1392.5 431.7h0M1392.5 435.5V455.1M1393.5 431.5V431.9M1393.5 433.7V435.0M1393.5 437.4V455.9M1394.5 428.2h0M1394.5 433.7V434.8M1394.5 436.4V454.2M1395.5 430.6h0M1395.5 433.8V450.2M1396.5 433.8V435.7M1396.5 437.8V454.1M1397.5 432.2V451.0M1397.5 453.0h0M1397.5 455.2h0M1397.5 457.1h0M1398.5 430.6h0M1398.5 433.0h0M1398.5 436.6V450.8M1398.5 454.2V455.1M1398.5 456.8V460.2M1399.5 435.9V437.8M1399.5 439.7V458.9M1399.5 460.9h0M1399.5 463.4h0M1399.5 465.6h0M1400.5 433.1h0M1400.5 438.1h0M1400.5 440.4V462.1M1400.5 464.6h0M1401.5 427.4h0M1401.5 433.4V442.0M1401.5 443.6V462.2M1402.5 430.4V430.7M1402.5 432.6h0M1402.5 434.8V438.2M1402.5 440.9V443.3M1402.5 445.3V457.7M1402.5 459.5V462.5M1403.5 430.5h0M1403.5 435.6h0M1403.5 437.9h0M1403.5 439.7V457.4M1403.5 459.1V460.1M1404.5 432.6h0M1404.5 435.4V440.6M1404.5 442.6V456.8M1405.5 428.8h0M1405.5 433.6h0M1405.5 435.4V451.9M1405.5 454.0V454.9M1406.5 429.6V431.3M1406.5 433.0V435.6M1406.5 437.2V453.2M1407.5 430.9V452.7M1408.5 431.2V441.0M1408.5 442.6V451.1M1408.5 453.3h0M1408.5 457.2h0M1409.5 429.1h0M1409.5 430.8V451.2M1409.5 453.0V454.0M1409.5 458.4h0M1410.5 428.0h0M1410.5 431.3h0M1410.5 433.5V446.4M1410.5 448.0V450.3M1410.5 452.0V453.0M1411.5 429.8V449.3M1411.5 451.2V452.7M1411.5 454.4V456.9M1411.5 459.9h0M1412.5 430.3h0M1412.5 432.3V435.3M1412.5 437.3V453.8M1412.5 456.0h0M1412.5 458.3h0M1412.5 461.0h0M1413.5 431.0V448.9M1413.5 451.0V454.3M1413.5 456.2V457.4M1414.5 430.2V450.9M1415.5 431.0V451.5M1416.5 433.8V449.5M1416.5 452.5V453.4M1417.5 430.7V449.5M1417.5 451.5V454.6M1418.5 429.7h0M1418.5 433.2V436.1M1418.5 437.7V453.1M1419.5 430.6V448.3M1419.5 450.0h0M1419.5 452.1h0M1419.5 454.7h0M1420.5 428.7V449.0M1420.5 450.6V451.5M1421.5 423.7h0M1421.5 428.0V428.5M1421.5 430.2V430.8M1421.5 433.0h0M1421.5 434.9V447.4M1421.5 451.0V452.3M1422.5 426.8h0M1422.5 428.7V434.7M1422.5 436.3V446.7M1422.5 448.6V452.0M1422.5 454.1h0M1423.5 430.2V452.1M1424.5 432.2V451.0M1424.5 454.2h0M1425.5 435.7V438.2M1425.5 440.2V451.7M1425.5 454.0V455.2M1426.5 433.7V435.6M1426.5 439.3V452.9M1426.5 455.2h0M1427.5 434.0V439.2M1427.5 441.8V454.3M1428.5 433.5V434.9M1428.5 436.7h0M1428.5 438.6V454.4M1429.5 437.5V457.4M1430.5 439.2V457.0M1430.5 463.0h0M1431.5 435.4h0M1431.5 438.1h0M1431.5 439.9V454.4M1431.5 456.3V457.0M1431.5 458.8V459.1M1431.5 461.0V462.5M1432.5 436.2V457.8M1433.5 434.5V452.0M1433.5 455.2V457.1M1433.5 461.2V461.5M1434.5 434.1V450.9M1435.5 432.9V455.1M1436.5 433.0V451.8M1436.5 456.5h0M1437.5 434.9V448.3M1437.5 450.6h0M1437.5 452.9h0M1438.5 434.0V446.1M1438.5 450.9h0M1438.5 455.5h0M1439.5 435.1V445.5M1439.5 447.3V451.1M1439.5 452.7V454.1M1439.5 457.2V458.5M1440.5 436.4V449.5M1440.5 452.8V453.3M1441.5 435.8V452.4M1441.5 454.4V455.5M1441.5 457.5h0M1442.5 437.4h0M1442.5 439.9V454.1M1442.5 456.8h0M1442.5 459.4h0M1443.5 435.1h0M1443.5 437.4V454.9M1444.5 436.2h0M1444.5 438.0V452.4M1444.5 454.5V457.8M1445.5 434.7h0M1445.5 437.1V449.8M1445.5 451.7V455.4M1445.5 457.0V459.3M1445.5 461.6h0M1445.5 463.2h0M1446.5 433.1V434.0M1446.5 437.8V460.8M1447.5 433.9h0M1447.5 438.2V439.4M1447.5 441.3h0M1447.5 443.0V456.5M1448.5 438.6h0M1448.5 441.8V457.6M1448.5 460.4V461.3M1449.5 439.0V440.8M1449.5 442.7V452.3M1449.5 454.1V459.2M1449.5 461.0V462.1M1450.5 439.9V459.1M1450.5 464.9h0M1451.5 440.3V453.2M1451.5 455.0V459.2M1452.5 436.3V437.6M1452.5 439.9V448.2M1452.5 450.4V458.7M1452.5 461.2h0M1453.5 438.4V446.5M1453.5 448.5V455.9M1453.5 457.7V459.2M1454.5 435.8h0M1454.5 437.5V459.5M1455.5 438.7V456.8M1456.5 437.8V457.0M1457.5 437.2h0M1457.5 440.3V453.5M1457.5 455.6V456.4M1457.5 458.3h0M1458.5 438.8V454.4M1458.5 456.9V460.2M1459.5 436.8V453.1M1459.5 455.0V455.9M1459.5 459.0h0M1459.5 460.7V461.9M1459.5 463.9V465.6M1460.5 436.7h0M1460.5 438.8V462.7M1460.5 466.4V467.1M1461.5 437.3h0M1461.5 440.5V444.8M1461.5 446.4V459.6M1461.5 463.4V464.8M1462.5 443.5V445.4M1462.5 447.1h0M1462.5 450.5V455.5M1462.5 457.6V459.6M1462.5 464.7h0M1083.5 125.4h0M1084.5 118.4V131.2M1084.5 134.3V136.0M1084.5 139.2V143.3M1085.5 118.2V155.6M1085.5 160.3V164.5M1086.5 120.8V130.7M1086.5 134.3V179.7M1086.5 187.8V189.6M1086.5 196.9V204.4M1087.5 133.0V133.5M1087.5 137.1V197.7M1087.5 201.1V208.4M1087.5 212.6V214.4M1087.5 217.5V218.9M1087.5 223.0h0M1087.5 237.6h0M1088.5 157.6h0M1088.5 161.6V218.8M1088.5 222.7V230.0M1088.5 234.5V240.7M1088.5 245.1V249.9M1089.5 178.2V178.5M1089.5 190.5V257.3M1089.5 261.7V262.9M1089.5 266.8h0M1089.5 270.1h0M1089.5 275.3V277.1M1090.5 200.2h0M1090.5 204.6h0M1090.5 209.4V212.5M1090.5 216.2h0M1090.5 219.6V288.8M1090.5 292.9h0M1091.5 223.8h0M1091.5 228.3h0M1091.5 232.0h0M1091.5 235.4h0M1091.5 240.7h0M1091.5 243.8V306.8M1091.5 310.6V312.5M1091.5 317.5h0M1092.5 246.3h0M1092.5 252.3h0M1092.5 268.7V269.6M1092.5 273.1V327.9M1092.5 331.3V337.2M1092.5 340.8V343.4M1092.5 348.6V349.5M1093.5 278.6h0M1093.5 287.3h0M1093.5 291.7V361.6M1093.5 364.7h0M1093.5 368.6h0M1093.5 378.0h0M1094.5 308.0V310.1M1094.5 316.4V385.3M1094.5 388.4h0M1094.5 392.6h0M1094.5 399.4h0M1094.5 404.0V406.5M1095.5 325.7V326.7M1095.5 332.0h0M1095.5 335.8V406.3M1095.5 411.2V415.7M1095.5 420.8V421.5M1096.5 324.2h0M1096.5 352.0V354.7M1096.5 362.1V430.9M1096.5 436.8V437.3M1096.5 443.3V444.3M1097.5 371.6h0M1097.5 382.1V444.9M1098.5 411.9V445.4M1099.5 417.0h0M1099.5 428.3V429.9M1099.5 435.0V438.1M1099.5 443.0V445.9M150.5 481.3h0M232.3 475.2h0M1104.2 408.4h0M1105.0 413.2h0M1137.1 412.1h0M1141.2 413.2h0M1146.4 410.2h0M1146.4 418.5h0M1116.5 461.4h0M1196.3 474.1h0M1196.3 480.0h0M1208.2 469.8h0M1208.6 479.2h0M1196.6 473.4h0M1196.6 480.5h0M1208.3 468.3h0M1208.3 471.3h0M1208.3 479.5h0M1287.3 461.1h0M1304.1 467.3h0M377.2 60.6h0M377.4 63.3h0M378.3 68.7h0M378.6 70.5h0M378.7 84.8h0M377.6 93.8h0M377.2 97.0h0M377.0 108.0h0M378.2 109.5h0M377.7 110.9h0M377.2 112.3h0M378.3 113.8h0M377.8 115.2h0M377.3 116.7h0M378.5 118.2h0M378.0 119.6h0M377.5 121.0h0M377.0 122.5h0M378.2 124.0h0M377.7 125.4h0M377.2 126.8h0M378.3 128.3h0M377.8 129.8h0M377.3 131.2h0M378.5 132.7h0M378.0 134.1h0M377.5 135.6h0M377.0 137.0h0M378.2 138.4h0M377.7 139.9h0M377.2 141.3h0M378.3 142.8h0M377.8 144.2h0M377.3 150.2h0M377.6 158.3h0M378.4 161.0h0M378.6 165.4h0M377.2 167.2h0M377.4 174.4h0M377.3 180.7h0M377.3 213.5h0M377.4 223.2h0M377.3 234.4h0M377.3 240.4h0M377.4 283.0h0M377.3 290.5h0" stroke="#1f77b4" stroke-width="5.5" stroke-linecap="round" fill="none"/><path d="M116.9 454.3C117.5 453.6 119.1 451.3 120.2 450.3C121.2 449.2 122.4 447.4 123.2 448.2C124.1 449.1 124.5 455.9 125.3 455.3C126.1 454.8 126.8 445.1 127.8 445.2C128.9 445.2 130.4 454.8 131.4 455.9C132.4 456.9 133.1 451.8 133.9 451.3C134.8 450.8 135.4 452.8 136.5 452.8C137.6 452.8 139.5 451.9 140.6 451.3C141.7 450.7 142.4 450.4 143.1 449.2C143.8 448.0 144.3 444.3 144.9 444.1C145.4 444.0 146.0 447.6 146.7 448.2C147.3 448.8 148.0 447.1 148.7 447.7C149.5 448.3 150.5 450.3 151.3 451.8C152.0 453.3 152.5 457.6 153.3 456.9C154.2 456.1 155.4 448.2 156.4 447.2C157.3 446.2 157.8 450.5 158.9 450.8C160.0 451.0 162.0 450.0 163.0 448.7C164.0 447.5 164.3 444.0 165.0 443.1C165.7 442.3 166.3 442.7 167.1 443.6C167.8 444.6 168.6 448.0 169.6 448.7C170.6 449.5 172.2 448.8 173.2 448.2C174.1 447.6 174.5 445.6 175.2 445.2C175.9 444.7 176.4 446.0 177.3 445.7C178.1 445.3 179.3 442.2 180.3 443.1C181.3 444.1 182.5 450.3 183.4 451.3C184.2 452.3 184.7 448.7 185.4 449.2C186.1 449.7 186.9 454.2 187.7 454.3C188.4 454.4 189.2 450.3 190.0 449.7C190.8 449.1 191.8 450.2 192.5 450.8C193.3 451.4 194.0 453.1 194.6 453.3C195.2 453.6 195.4 451.7 196.1 452.3C196.8 452.9 197.9 453.6 198.7 456.9C199.4 460.1 199.9 472.7 200.7 471.7C201.5 470.6 202.4 455.5 203.2 450.8C204.1 446.0 204.8 443.5 205.6 443.1C206.4 442.7 206.8 446.6 207.8 448.2C208.9 449.8 210.5 448.6 211.9 452.8C213.3 457.0 214.9 472.8 216.2 473.7C217.5 474.5 218.6 461.5 219.5 457.9C220.4 454.2 220.6 451.3 221.6 451.8C222.6 452.3 224.4 461.1 225.7 461.0C227.0 460.8 228.5 451.7 229.4 450.8C230.4 449.8 230.3 456.2 231.5 455.3C232.6 454.5 235.1 447.8 236.4 445.7C237.7 443.5 238.3 442.2 239.2 442.6C240.1 443.0 240.7 448.4 241.8 448.2C242.8 448.0 244.4 442.4 245.5 441.6C246.7 440.7 247.8 442.9 248.6 443.1C249.3 443.3 249.3 442.2 250.0 442.8C250.7 443.4 251.7 447.4 252.5 446.9C253.4 446.4 254.2 441.9 255.1 439.7C255.9 437.6 256.8 433.8 257.6 434.1C258.5 434.5 259.4 441.0 260.2 441.8C261.0 442.5 261.4 439.1 262.2 438.7C263.1 438.4 264.1 438.7 265.3 439.7C266.5 440.8 268.0 443.1 269.4 444.8C270.8 446.6 272.6 449.9 273.6 450.4C274.7 451.0 274.9 447.9 275.5 447.9C276.1 447.9 276.6 451.5 277.3 450.4C278.0 449.4 279.0 442.6 279.8 441.8C280.6 440.9 281.3 445.7 282.1 445.3C282.9 445.0 283.9 440.4 284.6 439.7C285.4 439.1 285.5 442.3 286.7 441.3C287.9 440.3 290.4 434.3 291.8 433.6C293.1 432.9 293.6 435.7 294.8 437.2C296.1 438.7 298.0 443.1 299.4 442.8C300.9 442.5 302.4 436.6 303.5 435.7C304.6 434.7 305.1 437.2 305.8 437.2C306.6 437.2 307.2 435.2 307.9 435.7C308.6 436.1 309.4 439.7 310.1 439.7C310.8 439.7 311.3 435.7 312.2 435.7C313.0 435.7 314.5 439.3 315.2 439.7C316.0 440.2 316.1 437.9 316.7 438.2C317.4 438.6 318.4 441.6 319.3 441.8C320.2 442.0 321.4 439.9 322.4 439.2C323.3 438.6 324.1 437.5 324.9 437.7C325.7 437.9 326.4 439.8 327.4 440.3C328.5 440.7 330.1 440.7 331.0 440.3C331.9 439.8 332.2 437.5 332.7 437.7C333.3 437.9 333.8 440.6 334.6 441.3C335.4 442.0 336.7 442.4 337.6 441.8C338.6 441.2 339.0 438.6 340.2 437.7C341.4 436.9 343.6 436.3 344.8 436.7C346.0 437.0 346.4 439.1 347.3 439.7C348.3 440.4 349.5 441.2 350.4 440.8C351.3 440.3 352.0 437.5 352.7 437.2C353.4 436.9 353.8 439.1 354.5 439.2C355.1 439.4 355.6 437.5 356.5 438.2C357.4 439.0 359.1 441.7 360.1 443.8C361.0 445.9 361.0 447.8 362.1 451.0C363.2 454.1 365.5 461.1 366.7 462.7C367.9 464.3 368.3 461.3 369.2 460.6C370.2 460.0 371.5 461.9 372.3 458.6C373.1 455.3 373.4 440.3 373.8 440.8C374.2 441.2 374.5 456.4 374.8 461.1C375.1 465.9 375.3 467.9 375.5 469.3C375.8 470.7 376.4 469.3 376.6 469.3" stroke="#ff7f0e" stroke-width="2.45" stroke-linejoin="round" fill="none"/><path d="M376.6 469.3L377.2 102.7L377.9 141.0L378.6 111.0L379.3 137.0L380.0 119.0L380.8 132.0L381.6 124.5L382.5 129.0L383.5 126.8L385.0 127.6L386.0 127.5L1085.1 131.1L1086.2 132.0L1093.0 300.0L1099.0 443.9" stroke="#ff7f0e" stroke-width="2.08" stroke-linejoin="round" stroke-linecap="butt" fill="none"/><path d="M1099.0 443.9C1099.3 441.7 1100.3 432.3 1100.8 430.8C1101.4 429.3 1101.7 434.5 1102.3 434.9C1103.0 435.3 1103.9 432.4 1104.6 433.0C1105.3 433.6 1105.7 437.8 1106.5 438.6C1107.2 439.4 1108.3 437.6 1109.1 437.9C1109.8 438.1 1110.4 438.9 1110.9 440.1C1111.5 441.3 1112.0 445.0 1112.6 445.0C1113.1 445.0 1113.6 440.9 1114.3 440.1C1115.0 439.4 1116.0 440.7 1116.9 440.5C1117.8 440.3 1118.8 439.0 1119.5 439.0C1120.3 439.0 1120.6 440.9 1121.4 440.5C1122.2 440.1 1123.3 437.2 1124.4 436.8C1125.5 436.3 1126.9 437.8 1128.1 437.9C1129.4 438.0 1130.8 437.8 1131.9 437.5C1132.9 437.3 1133.7 436.8 1134.5 436.4C1135.3 436.0 1135.9 434.5 1136.7 434.9C1137.5 435.3 1138.5 438.8 1139.3 439.0C1140.1 439.3 1140.8 436.1 1141.6 436.4C1142.3 436.7 1143.1 441.1 1143.8 440.9C1144.6 440.6 1145.3 435.6 1146.1 434.9C1146.9 434.1 1148.0 435.9 1148.7 436.4C1149.4 436.9 1149.6 437.9 1150.2 437.9C1150.7 437.8 1151.4 435.6 1152.0 436.0C1152.7 436.4 1153.3 439.9 1154.3 440.1C1155.3 440.3 1156.8 437.2 1158.0 437.1C1159.3 437.1 1160.6 439.5 1161.8 439.8C1162.9 440.0 1163.6 438.0 1164.7 438.6C1165.9 439.3 1167.7 443.0 1168.9 443.5C1170.0 444.0 1170.7 442.3 1171.5 441.6C1172.3 440.9 1173.0 439.7 1173.7 439.4C1174.5 439.1 1175.0 439.8 1176.0 439.8C1177.0 439.7 1178.3 439.3 1179.7 439.0C1181.1 438.8 1183.0 438.8 1184.2 438.3C1185.4 437.7 1186.2 435.2 1187.0 435.6C1187.8 436.1 1188.5 440.0 1189.0 440.9C1189.5 441.7 1189.0 440.3 1190.0 440.8C1191.0 441.3 1193.5 442.6 1195.1 443.8C1196.7 445.0 1198.3 447.6 1199.7 447.9C1201.0 448.2 1202.2 446.5 1203.2 445.3C1204.3 444.2 1205.2 441.0 1206.1 441.3C1207.0 441.5 1207.3 446.5 1208.5 446.9C1209.8 447.3 1211.7 443.8 1213.4 443.8C1215.2 443.8 1217.5 447.2 1219.0 446.9C1220.6 446.5 1221.8 442.4 1222.6 441.8C1223.5 441.2 1223.5 443.9 1224.1 443.3C1224.7 442.7 1225.5 438.7 1226.2 438.2C1226.9 437.7 1227.5 440.7 1228.2 440.3C1229.0 439.8 1229.8 436.0 1230.8 435.7C1231.7 435.3 1232.8 437.7 1233.8 438.2C1234.8 438.7 1236.0 439.5 1236.9 438.7C1237.8 438.0 1238.3 431.6 1239.1 433.6C1240.0 435.7 1241.0 449.4 1242.0 451.0C1243.0 452.5 1244.0 445.3 1245.0 442.8C1246.0 440.3 1247.2 436.1 1248.1 435.7C1248.9 435.2 1248.9 440.3 1250.1 440.3C1251.3 440.3 1253.9 436.3 1255.2 435.7C1256.5 435.1 1256.9 435.7 1257.8 436.7C1258.6 437.7 1259.5 439.4 1260.3 441.8C1261.1 444.2 1261.7 451.9 1262.6 451.0C1263.4 450.0 1264.4 438.2 1265.2 436.2C1266.0 434.1 1266.7 438.5 1267.4 438.7C1268.2 439.0 1269.2 438.9 1270.0 437.7C1270.8 436.5 1271.6 432.3 1272.3 431.6C1273.1 430.9 1273.7 433.5 1274.6 433.6C1275.5 433.7 1276.7 432.9 1277.6 432.1C1278.6 431.3 1279.6 428.2 1280.5 429.0C1281.3 429.9 1281.5 435.2 1282.7 437.2C1284.0 439.2 1286.2 440.3 1287.8 441.3C1289.4 442.2 1291.1 442.8 1292.4 442.8C1293.8 442.8 1294.8 441.9 1296.0 441.3C1297.2 440.7 1298.6 439.0 1299.5 439.2C1300.5 439.5 1300.9 440.8 1301.6 442.8C1302.3 444.8 1302.9 450.7 1303.6 451.0C1304.3 451.2 1304.9 445.6 1305.7 444.3C1306.4 443.1 1307.4 442.7 1308.2 443.3C1309.0 443.9 1309.6 448.0 1310.2 447.9C1310.9 447.8 1311.6 443.9 1312.3 442.8C1313.0 441.7 1313.8 440.3 1314.5 441.3C1315.2 442.2 1315.7 448.4 1316.4 448.4C1317.0 448.4 1317.9 441.9 1318.6 441.3C1319.3 440.7 1319.5 444.8 1320.4 444.8C1321.4 444.9 1323.8 442.1 1324.5 441.8C1325.3 441.5 1324.4 443.0 1325.0 442.9C1325.6 442.9 1327.0 441.1 1328.0 441.4C1329.0 441.8 1330.0 442.9 1331.0 444.9C1332.0 447.0 1333.1 453.6 1334.0 453.9C1334.9 454.3 1335.5 447.6 1336.5 446.9C1337.5 446.3 1338.6 449.7 1340.0 449.9C1341.3 450.2 1343.3 447.9 1344.5 448.4C1345.6 448.9 1345.7 453.8 1346.8 452.9C1347.8 452.0 1349.5 443.6 1350.8 442.9C1352.0 442.3 1353.2 448.3 1354.5 448.9C1355.7 449.6 1357.5 448.0 1358.5 446.9C1359.5 445.9 1359.6 441.3 1360.5 442.4C1361.3 443.6 1362.4 453.0 1363.4 453.9C1364.5 454.8 1365.9 449.3 1366.9 447.9C1367.9 446.5 1368.5 447.3 1369.4 445.4C1370.4 443.6 1371.7 437.4 1372.7 436.9C1373.7 436.4 1374.4 441.3 1375.4 442.4C1376.5 443.6 1378.0 444.3 1378.9 443.9C1379.8 443.6 1380.1 440.9 1380.9 440.4C1381.8 440.0 1383.0 442.4 1383.9 441.4C1384.9 440.5 1385.9 434.5 1386.7 435.0C1387.5 435.5 1387.9 442.5 1388.9 444.4C1389.9 446.4 1391.8 446.5 1392.9 446.4C1394.0 446.4 1394.5 444.4 1395.4 443.9C1396.3 443.4 1397.6 441.6 1398.4 443.4C1399.2 445.3 1399.7 454.0 1400.4 454.9C1401.1 455.8 1401.8 449.7 1402.4 448.9C1403.0 448.2 1403.3 451.6 1403.9 450.4C1404.5 449.3 1405.0 443.6 1405.9 441.9C1406.8 440.3 1408.3 440.1 1409.4 440.4C1410.5 440.8 1411.3 443.8 1412.4 443.9C1413.5 444.1 1415.0 441.5 1415.9 441.4C1416.8 441.4 1417.1 443.7 1417.9 443.4C1418.6 443.2 1419.4 439.9 1420.4 439.9C1421.4 439.9 1422.9 442.5 1423.9 443.4C1424.8 444.4 1425.0 444.6 1425.9 445.4C1426.7 446.3 1427.8 448.2 1428.9 448.4C1429.9 448.7 1431.4 448.2 1432.3 446.9C1433.3 445.7 1434.1 441.9 1434.8 440.9C1435.6 439.9 1436.1 441.4 1436.8 440.9C1437.5 440.4 1438.0 436.9 1439.0 437.9C1440.0 438.9 1441.9 445.8 1442.8 446.9C1443.8 448.1 1444.1 444.4 1444.8 444.9C1445.6 445.4 1446.4 449.2 1447.3 449.9C1448.2 450.7 1449.2 450.2 1450.3 449.4C1451.5 448.7 1453.2 445.5 1454.3 445.4C1455.4 445.4 1456.0 448.3 1456.8 448.9C1457.6 449.6 1458.3 448.9 1459.3 449.4C1460.3 449.9 1462.2 451.5 1462.8 451.9" stroke="#ff7f0e" stroke-width="2.45" stroke-linejoin="round" fill="none"/></g>
<path d="M116.5 516.5v4.9M284.5 516.5v4.9M452.5 516.5v4.9M621.5 516.5v4.9M789.5 516.5v4.9M957.5 516.5v4.9M1125.5 516.5v4.9M1293.5 516.5v4.9M116.5 512.5h-4.9M116.5 438.5h-4.9M116.5 364.5h-4.9M116.5 290.5h-4.9M116.5 216.5h-4.9M116.5 142.5h-4.9M116.5 68.5h-4.9" stroke="#000" stroke-width="1.11" fill="none"/>
<rect x="116.5" y="38.5" width="1346.0" height="478.0" fill="none" stroke="#000" stroke-width="1.11"/>
<text x="105.3" y="520.1" font-size="20.83" text-anchor="end" textLength="34.41" lengthAdjust="spacingAndGlyphs">−2</text>
<text x="105.3" y="446.1" font-size="20.83" text-anchor="end" textLength="15.61" lengthAdjust="spacingAndGlyphs">0</text>
<text x="105.3" y="372.1" font-size="20.83" text-anchor="end" textLength="15.61" lengthAdjust="spacingAndGlyphs">2</text>
<text x="105.3" y="298.1" font-size="20.83" text-anchor="end" textLength="15.61" lengthAdjust="spacingAndGlyphs">4</text>
<text x="105.3" y="224.1" font-size="20.83" text-anchor="end" textLength="15.61" lengthAdjust="spacingAndGlyphs">6</text>
<text x="105.3" y="150.1" font-size="20.83" text-anchor="end" textLength="15.61" lengthAdjust="spacingAndGlyphs">8</text>
<text x="105.3" y="76.1" font-size="20.83" text-anchor="end" textLength="31.22" lengthAdjust="spacingAndGlyphs">10</text>
<clipPath id="cb"><rect x="116.5" y="577.5" width="1346.0" height="477.0"/></clipPath>
<rect x="134.5" y="577.5" width="496.0" height="477.0" fill="#e8e8e8" stroke="#dedede" stroke-width="1"/>
<path d="M116.5 577.5V1054.5M284.5 577.5V1054.5M452.5 577.5V1054.5M621.5 577.5V1054.5M789.5 577.5V1054.5M957.5 577.5V1054.5M1125.5 577.5V1054.5M1293.5 577.5V1054.5M116.5 1024.5H1462.5M116.5 938.5H1462.5M116.5 852.5H1462.5M116.5 766.5H1462.5M116.5 681.5H1462.5M116.5 595.5H1462.5" stroke="#b0b0b0" stroke-width="1.11" stroke-dasharray="1.11 1.83" fill="none"/>
<g clip-path="url(#cb)"><path d="M116.5 976.7V979.1M116.5 982.4h0M116.5 984.6V991.2M116.5 993.4V995.6M116.5 999.7V1004.0M116.5 1006.9V1008.6M117.5 975.3h0M117.5 978.0V978.8M117.5 980.8V1005.9M117.5 1008.1h0M118.5 962.4h0M118.5 964.9h0M118.5 967.2V967.9M118.5 973.5V974.7M118.5 978.3V995.4M118.5 997.1V1005.8M119.5 951.3h0M119.5 956.6h0M119.5 961.4h0M119.5 963.6V965.3M119.5 967.9h0M119.5 970.3V988.8M119.5 991.6V994.4M119.5 996.2V1001.5M119.5 1004.5V1007.4M120.5 945.4V948.1M120.5 949.7h0M120.5 952.1V953.5M120.5 955.6V956.1M120.5 958.2h0M120.5 960.8V961.5M120.5 963.5V965.7M120.5 968.4V971.1M120.5 973.0V997.6M120.5 1000.3h0M121.5 954.0V955.5M121.5 958.0V961.3M121.5 963.6V965.7M121.5 967.8h0M121.5 969.8V979.2M121.5 981.4V986.2M121.5 988.3V989.8M121.5 991.9V994.5M121.5 998.0V1005.0M122.5 958.3h0M122.5 965.5V966.3M122.5 969.4V974.8M122.5 976.9V993.3M122.5 995.3V997.9M122.5 999.7V1000.6M123.5 955.9h0M123.5 960.4V960.7M123.5 965.1V976.8M123.5 978.5V992.3M123.5 996.2h0M123.5 998.1V999.2M123.5 1001.3h0M123.5 1003.5V1004.6M124.5 958.0h0M124.5 961.5h0M124.5 965.4V972.5M124.5 974.7V999.1M124.5 1001.1V1004.1M125.5 965.4h0M125.5 969.3V977.5M125.5 979.3V980.3M125.5 982.9V993.1M125.5 995.4V1001.6M126.5 961.4h0M126.5 965.6V966.8M126.5 968.9V977.1M126.5 978.7V985.3M126.5 986.9V989.8M126.5 991.7V994.3M126.5 999.2h0M127.5 956.2h0M127.5 957.8V958.2M127.5 961.1h0M127.5 962.8h0M127.5 965.6V990.6M127.5 996.2h0M127.5 1000.0h0M128.5 943.1V945.1M128.5 953.4h0M128.5 955.5h0M128.5 958.4h0M128.5 961.9V993.0M128.5 994.6V997.9M129.5 939.2h0M129.5 943.5h0M129.5 946.3V946.7M129.5 948.6V954.4M129.5 958.1V964.7M129.5 966.3V972.7M129.5 974.9V977.3M129.5 979.0V983.2M129.5 987.4V988.5M129.5 993.7V995.1M129.5 997.4h0M130.5 922.4V923.2M130.5 927.5h0M130.5 930.8V932.2M130.5 934.6h0M130.5 940.6V941.2M130.5 943.9h0M130.5 945.5V949.7M130.5 951.6V952.8M130.5 956.2V957.0M130.5 958.8V960.8M130.5 963.6V965.3M130.5 968.1V973.2M130.5 975.1V977.5M130.5 979.4V982.4M130.5 985.1V987.2M130.5 990.1V992.3M130.5 995.1V996.7M130.5 1000.8h0M131.5 920.7h0M131.5 922.3h0M131.5 929.7h0M131.5 934.2V936.4M131.5 939.4V943.5M131.5 945.4V946.0M131.5 950.2V955.8M131.5 957.6V959.8M131.5 961.6V968.1M131.5 970.5h0M131.5 973.1h0M131.5 974.9h0M131.5 978.2V979.6M131.5 984.5V986.0M131.5 987.6V989.0M131.5 991.1h0M131.5 993.5V994.7M131.5 996.7h0M131.5 999.6h0M131.5 1003.2h0M132.5 924.4h0M132.5 929.6h0M132.5 933.2h0M132.5 935.4V937.4M132.5 941.3V947.0M132.5 948.8V951.0M132.5 954.0V958.0M132.5 959.6V960.8M132.5 963.0h0M132.5 966.0V975.6M132.5 977.9V978.9M132.5 980.7V981.9M132.5 986.9V987.7M132.5 992.5h0M132.5 994.7h0M132.5 996.5h0M132.5 999.5h0M133.5 922.1h0M133.5 924.0h0M133.5 925.8h0M133.5 927.5V928.7M133.5 931.0V935.7M133.5 939.1h0M133.5 942.6V945.4M133.5 948.8V952.4M133.5 955.5V956.5M133.5 958.1V959.4M133.5 961.8V970.1M133.5 972.5h0M133.5 974.2V982.8M133.5 986.1h0M133.5 988.3h0M133.5 999.5h0M134.5 927.7h0M134.5 934.6h0M134.5 939.2h0M134.5 949.3V951.0M134.5 953.2h0M134.5 955.9h0M134.5 958.0V960.0M134.5 961.8V965.0M134.5 966.7V978.3M134.5 980.1V988.8M134.5 991.9V997.5M134.5 1001.0h0M135.5 951.7h0M135.5 955.5V961.6M135.5 963.7V975.2M135.5 979.4V981.7M135.5 984.9h0M135.5 986.9V988.9M135.5 990.9h0M135.5 993.1V997.5M135.5 1000.6V1002.4M136.5 955.6h0M136.5 958.3V962.0M136.5 964.6V965.5M136.5 967.1V968.8M136.5 970.9V990.6M136.5 994.1V999.1M136.5 1000.9h0M136.5 1003.7h0M136.5 1007.3h0M137.5 960.8h0M137.5 967.0h0M137.5 970.4h0M137.5 972.8V976.1M137.5 978.5V990.5M137.5 994.9h0M137.5 996.7V998.9M137.5 1001.9V1004.5M137.5 1006.9h0M138.5 959.9V961.0M138.5 963.6V964.2M138.5 965.9V970.7M138.5 973.1V988.3M138.5 990.4V1000.5M138.5 1003.3h0M139.5 960.3V962.1M139.5 966.3h0M139.5 970.1V986.0M139.5 987.7V988.7M139.5 990.7V1001.6M139.5 1003.2h0M140.5 963.7V964.6M140.5 966.7h0M140.5 968.6h0M140.5 970.4V971.0M140.5 972.7V973.6M140.5 976.1h0M140.5 977.9V986.0M140.5 988.0V1006.3M141.5 962.7V966.7M141.5 968.5V971.2M141.5 974.1V975.5M141.5 977.2V980.7M141.5 982.8V987.1M141.5 988.9V992.6M141.5 995.5V1000.0M141.5 1001.9h0M141.5 1004.4V1006.4M142.5 960.6h0M142.5 964.9h0M142.5 966.7h0M142.5 969.0V981.4M142.5 983.0V992.1M142.5 996.2V1002.7M143.5 950.4h0M143.5 952.4V955.0M143.5 961.9h0M143.5 964.9V972.2M143.5 974.1V983.7M143.5 985.7V988.7M143.5 990.4V993.8M143.5 996.5h0M143.5 999.6h0M144.5 942.6h0M144.5 945.3h0M144.5 947.4V948.5M144.5 951.6V952.0M144.5 954.0h0M144.5 955.7V956.8M144.5 960.3V960.9M144.5 963.8V964.9M144.5 967.0V986.1M144.5 987.9V989.8M144.5 993.6h0M144.5 996.9V997.7M144.5 1000.3V1001.9M145.5 945.4h0M145.5 948.7h0M145.5 954.3V955.9M145.5 958.1V961.6M145.5 963.9V966.6M145.5 968.8V975.3M145.5 977.0V989.8M145.5 993.1h0M145.5 995.7h0M145.5 998.7V1000.3M145.5 1002.8h0M146.5 949.5h0M146.5 952.1h0M146.5 959.3V961.1M146.5 963.8V981.0M146.5 983.8V987.1M146.5 989.1h0M146.5 993.2h0M146.5 995.6V996.9M146.5 999.0h0M146.5 1001.3h0M146.5 1003.7h0M147.5 939.2h0M147.5 946.5V952.9M147.5 955.1V959.3M147.5 961.2h0M147.5 963.0V967.8M147.5 970.0V971.6M147.5 973.7V976.6M147.5 978.3V979.7M147.5 981.9V992.2M147.5 996.1h0M147.5 1000.3h0M148.5 937.6h0M148.5 940.7h0M148.5 942.9h0M148.5 944.5V949.2M148.5 951.6V953.1M148.5 954.9V960.0M148.5 964.1V971.9M148.5 973.7V979.3M148.5 982.8V984.3M148.5 986.4h0M148.5 988.5V988.9M148.5 990.7V992.7M148.5 1000.7h0M149.5 939.5V940.8M149.5 943.2h0M149.5 945.0V945.4M149.5 949.0V951.3M149.5 953.5V954.9M149.5 958.1V971.0M149.5 973.3V983.7M149.5 986.2V986.9M149.5 989.5h0M149.5 992.3V993.6M149.5 996.2V998.4M150.5 939.5V941.6M150.5 945.0h0M150.5 947.1V948.6M150.5 950.2V955.9M150.5 958.3V965.9M150.5 967.7V971.5M150.5 973.6V976.3M150.5 978.5V984.7M150.5 986.6V989.1M150.5 991.0V992.1M150.5 994.4V994.7M150.5 996.4h0M150.5 998.5V999.4M151.5 943.8h0M151.5 948.4h0M151.5 951.0V951.5M151.5 953.1V953.8M151.5 956.7V958.0M151.5 960.0V969.7M151.5 972.1V973.8M151.5 975.7V977.2M151.5 979.4V982.0M151.5 983.9V985.5M151.5 988.9V993.2M151.5 995.0h0M151.5 996.7V998.4M152.5 937.4h0M152.5 940.0V940.4M152.5 942.0h0M152.5 943.9h0M152.5 948.1V949.2M152.5 954.7V971.1M152.5 973.1V974.4M152.5 976.1V982.5M152.5 984.2h0M152.5 987.5h0M152.5 993.8V994.9M153.5 944.6h0M153.5 946.2h0M153.5 948.7h0M153.5 950.3h0M153.5 955.5h0M153.5 958.4h0M153.5 960.4V963.8M153.5 966.0h0M153.5 967.9V980.5M153.5 984.4V986.8M153.5 988.6V991.7M153.5 993.4V998.1M153.5 1002.5h0M154.5 942.7h0M154.5 945.8h0M154.5 947.5V950.8M154.5 954.0V954.6M154.5 956.6V957.5M154.5 959.3V971.2M154.5 973.3V977.4M154.5 979.2V988.2M154.5 989.9h0M154.5 993.6V994.5M154.5 996.9h0M154.5 999.0V1001.2M155.5 947.4h0M155.5 950.7V952.2M155.5 956.7V980.6M155.5 983.5V985.8M155.5 987.5V991.3M155.5 993.8V994.3M155.5 997.2h0M156.5 950.4h0M156.5 954.9V956.5M156.5 958.6h0M156.5 960.8V963.1M156.5 965.0V967.2M156.5 970.1V977.3M156.5 979.8V987.3M156.5 989.4V996.8M156.5 1000.0h0M157.5 950.5V952.3M157.5 955.3V956.4M157.5 961.0h0M157.5 963.9V965.4M157.5 967.1V986.1M157.5 988.3V995.2M157.5 996.9h0M157.5 999.0h0M158.5 942.5h0M158.5 944.4V945.4M158.5 947.1V948.7M158.5 951.2h0M158.5 953.0V956.5M158.5 961.8V965.0M158.5 967.4V988.0M158.5 989.7V990.5M158.5 992.8V993.4M158.5 995.7V999.4M159.5 943.4h0M159.5 949.8h0M159.5 953.7V954.8M159.5 957.8V958.3M159.5 960.4V962.3M159.5 964.9V966.4M159.5 968.9V971.1M159.5 973.0h0M159.5 975.0V981.1M159.5 985.1V988.6M159.5 990.3h0M159.5 992.0h0M159.5 993.6V994.5M159.5 997.5V999.4M160.5 929.0h0M160.5 940.3h0M160.5 942.5h0M160.5 947.4h0M160.5 949.2h0M160.5 951.4V956.0M160.5 958.4V962.7M160.5 964.6h0M160.5 968.3V979.5M160.5 981.3V983.0M160.5 985.6h0M160.5 989.2h0M160.5 991.2V993.4M160.5 996.2h0M161.5 927.7h0M161.5 931.5h0M161.5 933.9V934.3M161.5 936.1V938.1M161.5 941.4V942.6M161.5 945.7V946.5M161.5 948.8V950.8M161.5 953.1h0M161.5 954.9V958.7M161.5 961.0V961.6M161.5 963.9V966.5M161.5 968.3V972.8M161.5 974.8V976.6M161.5 978.2V983.3M161.5 989.8h0M161.5 992.2V993.8M162.5 907.1h0M162.5 914.8h0M162.5 917.3h0M162.5 925.7h0M162.5 931.0h0M162.5 938.4V939.4M162.5 945.4V959.1M162.5 960.7V963.5M162.5 965.2V968.7M162.5 970.3h0M162.5 974.0V975.8M162.5 978.9V979.4M162.5 981.1V982.0M162.5 984.3V990.8M162.5 993.2V993.5M163.5 881.6h0M163.5 893.0h0M163.5 902.6h0M163.5 909.0h0M163.5 921.9V922.9M163.5 925.6h0M163.5 932.7h0M163.5 934.7h0M163.5 937.8V938.9M163.5 941.2V944.1M163.5 945.7V956.1M163.5 957.7V958.3M163.5 962.3V966.1M163.5 968.1V972.0M163.5 973.8V978.5M163.5 981.2h0M163.5 983.3h0M163.5 990.2V990.7M163.5 992.5V993.2M164.5 885.4h0M164.5 889.8h0M164.5 895.4h0M164.5 898.1h0M164.5 919.0V920.5M164.5 923.1h0M164.5 924.8h0M164.5 926.6h0M164.5 930.5V934.5M164.5 937.2V938.0M164.5 940.1V947.6M164.5 949.9h0M164.5 952.2V952.9M164.5 956.5V964.5M164.5 966.5V967.1M164.5 969.2V970.5M164.5 972.3V982.6M164.5 986.4V987.2M164.5 989.3V990.8M165.5 899.2h0M165.5 906.9h0M165.5 918.4h0M165.5 921.1V923.1M165.5 924.9V926.6M165.5 929.7V930.8M165.5 932.5V935.4M165.5 938.1V939.3M165.5 941.6V956.1M165.5 959.5h0M165.5 961.6V963.1M165.5 968.6V971.5M165.5 978.1h0M165.5 979.9h0M165.5 982.3h0M165.5 985.8h0M165.5 987.4V988.5M166.5 908.7h0M166.5 920.9V921.4M166.5 924.7h0M166.5 929.5h0M166.5 931.4h0M166.5 933.6h0M166.5 936.2V936.8M166.5 939.0h0M166.5 941.8V943.5M166.5 945.9V946.5M166.5 948.7V949.2M166.5 951.3V951.9M166.5 953.6V956.3M166.5 958.4h0M166.5 960.5V961.3M166.5 963.3V964.3M166.5 966.4h0M166.5 968.9V973.6M166.5 975.9h0M166.5 977.9V981.6M166.5 983.3h0M166.5 985.3V985.9M167.5 907.9h0M167.5 911.8V913.9M167.5 917.5h0M167.5 923.7V924.3M167.5 926.8h0M167.5 935.4h0M167.5 939.0V940.0M167.5 942.4V943.7M167.5 946.0V947.1M167.5 949.3V953.8M167.5 956.3h0M167.5 958.9V960.0M167.5 963.6V964.9M167.5 966.6V967.1M167.5 968.7V971.6M167.5 973.3V980.0M167.5 983.5V984.6M167.5 986.9h0M167.5 990.5h0M167.5 993.1h0M168.5 906.1h0M168.5 920.0h0M168.5 923.3V924.7M168.5 928.2V931.0M168.5 933.4V933.7M168.5 935.5V936.7M168.5 939.2h0M168.5 943.8V948.9M168.5 952.6V960.1M168.5 962.7V969.6M168.5 971.9h0M168.5 974.5V976.0M168.5 977.8V979.0M168.5 983.7V985.4M168.5 987.6V988.0M169.5 914.3h0M169.5 915.9h0M169.5 918.2V919.1M169.5 920.9h0M169.5 924.3V925.3M169.5 928.2h0M169.5 932.3V937.5M169.5 940.4h0M169.5 942.2V943.3M169.5 947.1h0M169.5 950.0V951.1M169.5 953.0V958.8M169.5 960.5V961.7M169.5 963.7V964.1M169.5 967.0h0M169.5 969.3V970.4M169.5 973.2V974.7M169.5 977.3V980.4M169.5 983.6h0M169.5 985.7V990.2M170.5 905.9h0M170.5 913.0h0M170.5 915.2h0M170.5 920.9h0M170.5 927.5h0M170.5 931.8h0M170.5 934.5V935.3M170.5 938.0V939.0M170.5 942.0h0M170.5 944.6h0M170.5 948.9V952.3M170.5 954.0h0M170.5 957.8h0M170.5 959.9V975.2M170.5 979.6h0M170.5 981.9V983.0M170.5 985.2h0M171.5 898.9h0M171.5 902.4h0M171.5 906.7h0M171.5 908.7h0M171.5 914.9h0M171.5 917.0h0M171.5 919.9V924.2M171.5 926.6V928.7M171.5 931.2h0M171.5 933.1h0M171.5 934.8V936.9M171.5 939.7V941.2M171.5 943.0V948.4M171.5 950.4V954.2M171.5 957.4V957.9M171.5 960.1h0M171.5 962.0h0M171.5 963.9h0M171.5 966.5h0M171.5 968.5h0M171.5 970.2h0M171.5 972.9V976.2M171.5 977.9V978.8M171.5 984.6h0M171.5 988.9h0M171.5 990.8h0M172.5 888.5h0M172.5 894.8h0M172.5 900.5V900.9M172.5 902.9h0M172.5 908.1V910.0M172.5 916.2h0M172.5 918.4V919.5M172.5 923.2V924.8M172.5 928.2V931.9M172.5 936.1V940.3M172.5 942.7V949.4M172.5 954.0h0M172.5 956.5V961.8M172.5 964.5V964.9M172.5 966.9V967.5M172.5 971.1V972.7M172.5 978.8h0M172.5 983.4h0M172.5 985.3h0M172.5 990.4h0M173.5 893.0h0M173.5 899.2h0M173.5 916.6h0M173.5 919.3h0M173.5 921.0h0M173.5 922.8h0M173.5 927.7h0M173.5 929.8V935.6M173.5 937.2V943.5M173.5 945.1V949.9M173.5 953.3V954.7M173.5 957.0V960.5M173.5 963.0V964.4M173.5 967.7V970.3M173.5 973.0h0M173.5 975.2h0M173.5 984.7h0M174.5 902.9V903.5M174.5 911.5h0M174.5 919.7h0M174.5 923.9V925.8M174.5 927.7h0M174.5 930.0h0M174.5 931.7h0M174.5 933.5h0M174.5 936.3V940.4M174.5 943.1h0M174.5 945.4V949.2M174.5 951.1V953.6M174.5 956.1V968.7M174.5 971.7V973.1M174.5 975.0V979.8M174.5 983.5h0M174.5 987.8h0M174.5 990.6V992.8M175.5 893.3h0M175.5 919.8h0M175.5 924.6V926.0M175.5 928.4V929.1M175.5 931.4V935.4M175.5 939.9V942.9M175.5 944.8V946.6M175.5 948.7V951.4M175.5 953.4V955.8M175.5 958.5h0M175.5 961.0V961.4M175.5 963.8V967.8M175.5 969.8V978.1M175.5 982.8V984.9M175.5 989.2h0M175.5 991.7h0M176.5 899.0h0M176.5 903.7h0M176.5 910.7h0M176.5 914.2h0M176.5 915.8V916.9M176.5 920.2h0M176.5 923.6V928.3M176.5 930.4V934.2M176.5 936.1h0M176.5 938.7h0M176.5 940.4h0M176.5 942.9V945.0M176.5 946.7h0M176.5 948.8V955.3M176.5 957.7V960.0M176.5 962.7h0M176.5 964.3V966.7M176.5 970.1h0M176.5 976.3h0M176.5 978.0h0M176.5 981.2h0M176.5 992.2h0M177.5 894.0h0M177.5 898.6V899.9M177.5 902.3h0M177.5 909.0V911.4M177.5 913.8h0M177.5 917.1V918.3M177.5 921.6V922.7M177.5 928.6V931.0M177.5 934.0V936.7M177.5 939.1V939.4M177.5 941.9h0M177.5 943.5V944.2M177.5 947.5V956.4M177.5 958.1h0M177.5 960.3h0M177.5 963.2h0M177.5 965.8V966.3M177.5 968.9h0M177.5 971.1h0M177.5 978.8V979.7M177.5 986.3h0M178.5 884.6V886.5M178.5 888.3h0M178.5 890.2V895.0M178.5 900.3V901.9M178.5 907.9V908.3M178.5 910.0h0M178.5 913.0V913.8M178.5 915.8h0M178.5 918.8h0M178.5 920.9h0M178.5 923.0h0M178.5 926.9V928.0M178.5 930.6V937.4M178.5 940.8V942.2M178.5 944.2V946.6M178.5 952.3V954.3M178.5 958.1h0M178.5 959.7h0M178.5 961.6V962.7M178.5 964.6h0M178.5 966.8V971.8M178.5 973.9V976.1M178.5 977.8V978.5M178.5 983.4V985.1M178.5 988.3V990.0M179.5 889.1h0M179.5 891.1h0M179.5 895.4h0M179.5 897.2h0M179.5 899.3h0M179.5 901.1V901.5M179.5 908.6h0M179.5 911.1V912.4M179.5 915.1V915.5M179.5 917.3V918.5M179.5 920.9h0M179.5 923.1V925.2M179.5 929.6h0M179.5 931.8V932.3M179.5 934.3V949.9M179.5 952.8V958.5M179.5 962.0h0M179.5 964.0V965.7M179.5 968.8h0M179.5 972.6V973.1M179.5 975.4V976.3M179.5 979.8h0M179.5 982.5h0M180.5 892.3V895.6M180.5 898.3h0M180.5 900.6V903.9M180.5 915.4h0M180.5 919.3h0M180.5 921.0V921.5M180.5 924.2h0M180.5 926.1V927.5M180.5 929.3V930.9M180.5 932.5V936.1M180.5 937.8V938.4M180.5 940.8V941.3M180.5 943.3h0M180.5 945.3V946.2M180.5 947.9V952.7M180.5 954.9h0M180.5 959.3V960.5M180.5 962.5V964.6M180.5 967.1V970.0M180.5 972.6h0M180.5 975.0V978.7M180.5 981.5h0M180.5 987.6h0M180.5 989.6V990.7M180.5 994.4V995.9M181.5 893.3h0M181.5 895.6V897.6M181.5 902.4h0M181.5 910.7h0M181.5 916.9V919.8M181.5 922.7h0M181.5 924.7h0M181.5 928.5h0M181.5 931.5V932.2M181.5 935.0V936.1M181.5 938.6h0M181.5 940.3h0M181.5 942.7V944.3M181.5 946.8h0M181.5 948.7V952.3M181.5 955.0V959.7M181.5 961.6V965.1M181.5 968.1h0M181.5 971.9h0M181.5 978.5h0M181.5 980.4h0M181.5 983.5V984.4M181.5 986.2h0M181.5 990.8V993.0M182.5 897.2h0M182.5 901.0h0M182.5 907.2h0M182.5 911.4h0M182.5 913.6h0M182.5 919.1h0M182.5 921.8h0M182.5 925.5V926.3M182.5 929.8h0M182.5 936.6V945.9M182.5 948.2V951.0M182.5 952.9V958.9M182.5 960.6h0M182.5 963.0V964.9M182.5 968.7h0M182.5 975.5h0M182.5 977.5h0M182.5 980.1V982.5M182.5 985.1V986.7M182.5 994.8h0M183.5 912.0V912.8M183.5 931.3h0M183.5 934.0h0M183.5 935.8V938.5M183.5 940.2h0M183.5 942.1V949.9M183.5 952.7V955.7M183.5 959.3V971.0M183.5 975.0V982.0M183.5 985.2h0M183.5 988.7h0M183.5 990.9h0M184.5 914.7h0M184.5 918.6V920.0M184.5 928.3h0M184.5 932.2V934.5M184.5 938.4V947.4M184.5 949.0V951.2M184.5 952.9h0M184.5 955.2h0M184.5 956.9V963.2M184.5 964.9V965.3M184.5 967.1V968.6M184.5 970.6V971.5M184.5 975.8h0M184.5 977.8V978.3M184.5 982.2V983.3M184.5 987.5V988.1M185.5 898.4h0M185.5 913.6h0M185.5 919.0h0M185.5 922.9V923.5M185.5 925.2h0M185.5 927.1V927.9M185.5 931.9V935.2M185.5 938.5h0M185.5 940.4V942.0M185.5 944.5V945.1M185.5 947.3V949.3M185.5 951.3V952.6M185.5 954.4V955.8M185.5 957.5V958.3M185.5 960.0V964.1M185.5 966.5h0M185.5 968.6V972.4M185.5 974.8h0M185.5 977.4V979.0M185.5 983.0V984.8M185.5 986.5h0M185.5 988.2h0M186.5 904.3h0M186.5 907.7V908.9M186.5 913.1h0M186.5 918.1V919.4M186.5 922.3V923.9M186.5 926.3V928.0M186.5 935.6V940.1M186.5 942.5V949.0M186.5 950.8V955.4M186.5 957.2h0M186.5 960.5h0M186.5 962.4V963.5M186.5 966.7h0M186.5 970.7h0M186.5 972.5V978.2M186.5 982.7h0M186.5 984.8h0M186.5 986.6h0M186.5 992.8h0M187.5 890.5V891.7M187.5 898.5h0M187.5 914.5V916.1M187.5 918.4V918.9M187.5 923.1V923.5M187.5 925.1V925.8M187.5 927.8V934.0M187.5 936.4h0M187.5 938.5V941.4M187.5 944.1h0M187.5 945.9V949.5M187.5 951.1V952.5M187.5 955.2V956.8M187.5 963.7h0M187.5 966.1V968.0M187.5 973.1V974.6M187.5 978.0h0M187.5 982.6V984.5M187.5 992.8h0M188.5 894.8h0M188.5 900.5h0M188.5 905.8h0M188.5 910.9h0M188.5 912.7V914.3M188.5 923.9h0M188.5 927.5h0M188.5 929.4h0M188.5 931.3h0M188.5 933.1V935.2M188.5 938.4V941.8M188.5 945.2V947.4M188.5 949.0V950.2M188.5 952.4V956.8M188.5 959.0V963.1M188.5 965.0V965.7M188.5 969.6V970.8M188.5 973.2V979.5M188.5 982.5V984.1M188.5 987.7h0M188.5 991.5V992.1M189.5 906.1h0M189.5 917.9h0M189.5 922.4h0M189.5 926.1V927.1M189.5 928.8h0M189.5 931.5h0M189.5 933.5h0M189.5 935.3V936.2M189.5 939.1V943.9M189.5 945.8V950.3M189.5 952.5V955.6M189.5 957.9V960.5M189.5 964.4h0M189.5 968.1V972.6M189.5 975.5V976.9M189.5 979.2h0M189.5 981.0h0M189.5 987.1V988.0M189.5 990.0V993.5M190.5 909.3h0M190.5 924.1h0M190.5 927.9h0M190.5 929.7h0M190.5 931.4h0M190.5 933.3h0M190.5 935.6h0M190.5 937.4V939.3M190.5 941.0h0M190.5 942.9V944.4M190.5 946.6h0M190.5 951.2V958.2M190.5 960.3V972.8M190.5 975.4V977.9M190.5 980.5V982.5M190.5 984.4h0M190.5 986.1h0M190.5 991.1V992.8M191.5 909.0h0M191.5 911.4h0M191.5 913.0h0M191.5 915.0h0M191.5 916.9h0M191.5 925.1V926.5M191.5 931.0V935.4M191.5 939.7h0M191.5 942.5V943.9M191.5 946.9V950.2M191.5 953.7h0M191.5 956.3h0M191.5 959.1V964.1M191.5 965.8V972.4M191.5 974.6V975.3M191.5 977.3h0M191.5 979.5V980.5M191.5 987.7h0M191.5 989.8V990.5M191.5 992.9V994.1M192.5 904.3h0M192.5 911.8h0M192.5 923.0h0M192.5 925.0h0M192.5 928.9h0M192.5 934.8V941.1M192.5 943.3V944.8M192.5 946.5V955.3M192.5 956.9V958.4M192.5 960.7h0M192.5 962.6h0M192.5 968.2V969.7M192.5 972.5V973.2M192.5 977.0h0M192.5 980.0V981.4M192.5 987.9V988.4M192.5 991.3V992.1M192.5 996.4V997.2M193.5 922.0h0M193.5 929.7h0M193.5 934.6h0M193.5 938.9h0M193.5 942.1h0M193.5 945.6V947.0M193.5 950.0V950.5M193.5 952.6h0M193.5 955.0h0M193.5 957.2V963.2M193.5 966.0V969.9M193.5 971.9V973.3M193.5 975.2h0M193.5 977.6V982.6M193.5 984.2V985.5M193.5 990.6h0M194.5 927.0h0M194.5 933.0h0M194.5 936.3h0M194.5 938.6h0M194.5 940.3h0M194.5 942.1h0M194.5 944.6V947.3M194.5 949.0h0M194.5 951.0V953.0M194.5 955.2V955.9M194.5 958.3V960.0M194.5 962.0V965.6M194.5 967.5V972.4M194.5 976.4V977.5M194.5 979.2V980.3M194.5 982.2h0M194.5 984.8V985.6M194.5 990.0V992.3M194.5 994.5h0M194.5 996.4h0M195.5 920.1h0M195.5 923.6V924.6M195.5 940.2V949.2M195.5 951.4V960.1M195.5 962.0V975.7M195.5 979.0V980.5M195.5 982.5V983.2M195.5 985.4V985.9M195.5 987.7V989.9M195.5 996.2h0M196.5 920.2h0M196.5 924.6h0M196.5 926.9h0M196.5 931.9h0M196.5 939.0h0M196.5 941.6h0M196.5 943.9V946.5M196.5 949.3V953.8M196.5 956.6V968.6M196.5 971.1V978.0M196.5 980.1V981.3M196.5 982.9V985.7M196.5 995.0h0M196.5 996.7h0M197.5 917.2h0M197.5 923.7h0M197.5 927.0V931.5M197.5 933.1V934.0M197.5 939.6h0M197.5 941.2h0M197.5 943.3h0M197.5 946.0V946.7M197.5 948.3V952.6M197.5 955.3V956.4M197.5 959.2V961.0M197.5 963.3h0M197.5 965.6V966.4M197.5 968.5V969.1M197.5 971.2h0M197.5 973.3V974.4M197.5 976.4V978.8M197.5 980.9V982.4M197.5 988.3V993.0M197.5 995.1V995.9M198.5 911.2h0M198.5 916.0h0M198.5 918.0h0M198.5 923.8V924.1M198.5 926.7V927.5M198.5 931.0V931.9M198.5 936.5V945.0M198.5 947.2V950.5M198.5 952.6V953.3M198.5 955.3V962.2M198.5 964.0V964.9M198.5 969.0h0M198.5 970.9V972.1M198.5 976.4V976.8M198.5 978.7h0M198.5 981.4h0M198.5 988.1V988.7M198.5 993.7h0M198.5 995.9V997.1M198.5 1001.9h0M199.5 889.6h0M199.5 891.5h0M199.5 900.0V901.9M199.5 904.5V906.0M199.5 912.6h0M199.5 915.0h0M199.5 917.6h0M199.5 919.8V920.1M199.5 923.4V924.0M199.5 925.7h0M199.5 929.5h0M199.5 932.0V932.7M199.5 936.9V946.0M199.5 947.6h0M199.5 950.0V957.3M199.5 959.1V963.9M199.5 966.7h0M199.5 969.4V971.7M199.5 974.7V978.5M199.5 980.9h0M199.5 982.6V983.8M199.5 988.7h0M199.5 993.3h0M199.5 996.5h0M200.5 878.2h0M200.5 890.8h0M200.5 894.5V895.2M200.5 897.5h0M200.5 902.5V904.3M200.5 906.9h0M200.5 915.2V918.6M200.5 921.8h0M200.5 923.6h0M200.5 928.1V929.5M200.5 932.6V934.5M200.5 936.3V938.8M200.5 942.1h0M200.5 944.9V946.1M200.5 947.9V950.0M200.5 953.7h0M200.5 955.6h0M200.5 958.9V961.3M200.5 965.8h0M200.5 967.6h0M200.5 969.5V970.3M200.5 972.0h0M200.5 973.8V978.2M200.5 979.8V981.5M200.5 988.0h0M200.5 993.0h0M201.5 887.3h0M201.5 896.3h0M201.5 898.6V900.2M201.5 903.2V904.3M201.5 908.3V909.8M201.5 911.6V913.2M201.5 915.2V918.3M201.5 920.0h0M201.5 922.7h0M201.5 925.3h0M201.5 927.3V937.5M201.5 939.7V944.1M201.5 947.1V948.3M201.5 957.5V959.4M201.5 965.0V966.8M201.5 974.5h0M201.5 976.6h0M201.5 980.3V981.7M201.5 986.7h0M201.5 995.2h0M201.5 1000.4h0M202.5 904.4h0M202.5 915.1V916.5M202.5 922.1V924.9M202.5 926.8V936.6M202.5 938.7V940.9M202.5 943.0V944.9M202.5 947.3V948.1M202.5 950.0V950.5M202.5 952.6h0M202.5 955.2V961.8M202.5 964.8h0M202.5 969.7h0M202.5 972.2h0M202.5 974.0h0M202.5 977.6h0M202.5 979.6h0M202.5 983.5h0M202.5 987.0V988.2M202.5 990.8h0M202.5 993.4h0M203.5 909.3h0M203.5 922.4h0M203.5 926.1V927.3M203.5 931.3V931.8M203.5 934.0V935.7M203.5 937.4V938.7M203.5 941.8h0M203.5 943.5V947.2M203.5 949.1V950.3M203.5 952.0V956.2M203.5 958.9V960.0M203.5 961.7V963.7M203.5 966.5V968.7M203.5 970.9V971.8M203.5 975.3V980.3M203.5 982.4h0M203.5 985.5V987.3M203.5 989.9h0M203.5 991.8h0M203.5 996.3h0M203.5 997.9h0M203.5 999.7h0M204.5 918.0h0M204.5 921.6h0M204.5 926.2V927.5M204.5 930.9h0M204.5 940.3V943.3M204.5 946.5h0M204.5 948.3V949.1M204.5 950.9V951.5M204.5 955.0h0M204.5 958.2V960.3M204.5 962.4h0M204.5 964.2V979.8M204.5 981.8V985.4M204.5 988.6V990.4M204.5 994.0V995.2M205.5 931.7V932.6M205.5 935.6h0M205.5 939.5V941.1M205.5 944.5V945.7M205.5 949.1V950.9M205.5 952.8V956.0M205.5 957.9V968.2M205.5 969.8h0M205.5 971.7h0M205.5 974.4V976.4M205.5 978.6V980.8M205.5 982.6V983.8M205.5 985.4V991.0M205.5 994.8h0M205.5 998.6h0M205.5 1001.1h0M206.5 910.6h0M206.5 913.8h0M206.5 923.6h0M206.5 931.9V932.6M206.5 935.6V939.4M206.5 941.8h0M206.5 943.8V946.4M206.5 948.7h0M206.5 951.3h0M206.5 953.2V962.5M206.5 964.7h0M206.5 967.1V967.5M206.5 969.6h0M206.5 971.3V973.8M206.5 978.5h0M206.5 980.9V983.6M206.5 985.4h0M206.5 989.6V992.7M206.5 994.5h0M206.5 997.4h0M207.5 913.2V914.2M207.5 918.8h0M207.5 921.8h0M207.5 924.7V925.4M207.5 928.6h0M207.5 931.0V933.3M207.5 935.1V935.9M207.5 939.5V945.2M207.5 947.2h0M207.5 949.9V953.8M207.5 957.0V958.7M207.5 960.7V961.2M207.5 963.2V967.4M207.5 969.6V972.3M207.5 974.3h0M207.5 977.2V979.2M207.5 981.6h0M207.5 986.0h0M207.5 989.5h0M207.5 992.5V993.5M207.5 999.6h0M208.5 905.6h0M208.5 910.4h0M208.5 914.2h0M208.5 920.1h0M208.5 922.3h0M208.5 924.8h0M208.5 927.7V930.5M208.5 934.2V943.5M208.5 946.3h0M208.5 948.8V950.0M208.5 953.9V959.3M208.5 963.1V965.1M208.5 967.7V968.7M208.5 973.6V981.7M208.5 989.5V993.3M208.5 1001.9h0M209.5 913.8h0M209.5 925.3h0M209.5 927.3h0M209.5 931.3h0M209.5 934.0h0M209.5 935.9V941.9M209.5 943.9V946.1M209.5 947.8V954.4M209.5 957.0V958.2M209.5 959.9V961.4M209.5 963.6V964.7M209.5 966.5h0M209.5 969.6V970.3M209.5 972.8V973.5M209.5 975.7V978.0M209.5 979.8V980.7M209.5 982.5V984.0M209.5 989.8h0M209.5 995.4V998.6M210.5 919.5V920.9M210.5 924.6V925.8M210.5 929.3h0M210.5 930.9h0M210.5 936.3V937.4M210.5 940.4h0M210.5 942.9V948.0M210.5 950.2V952.3M210.5 954.8V962.4M210.5 964.5V973.7M210.5 975.8V977.9M210.5 979.7h0M210.5 981.7V983.7M210.5 985.4V986.9M210.5 996.0h0M211.5 918.8h0M211.5 921.6h0M211.5 924.9h0M211.5 927.2h0M211.5 929.4V930.9M211.5 934.3V935.3M211.5 937.0V940.7M211.5 943.3h0M211.5 946.3h0M211.5 949.9V956.4M211.5 958.2V958.9M211.5 961.5V962.8M211.5 964.6h0M211.5 966.8V967.1M211.5 969.1V972.1M211.5 980.2h0M211.5 982.8V983.7M211.5 987.2h0M211.5 991.7h0M211.5 993.3V994.2M211.5 995.8V996.4M211.5 1000.3V1001.9M212.5 902.9h0M212.5 916.0h0M212.5 920.5V921.3M212.5 923.2V923.9M212.5 926.4V927.7M212.5 929.5h0M212.5 931.5h0M212.5 934.6V935.1M212.5 937.5V942.0M212.5 945.4V949.4M212.5 953.4V954.1M212.5 957.4V959.3M212.5 961.5V962.4M212.5 964.9V971.2M212.5 973.3V977.8M212.5 981.8V983.6M212.5 990.7V993.8M212.5 996.5h0M213.5 881.2h0M213.5 887.3h0M213.5 893.4h0M213.5 896.8h0M213.5 901.2V902.6M213.5 906.4V908.8M213.5 913.0V913.5M213.5 916.8V917.3M213.5 920.9h0M213.5 925.0h0M213.5 928.8V933.7M213.5 935.6h0M213.5 940.7V944.5M213.5 947.5V949.1M213.5 951.3V956.3M213.5 957.9V960.5M213.5 963.1h0M213.5 966.4V967.1M213.5 971.7h0M213.5 973.6V974.7M213.5 977.3V978.7M213.5 982.1h0M213.5 987.0h0M213.5 993.8h0M213.5 997.0V998.2M214.5 890.3h0M214.5 896.2h0M214.5 898.1h0M214.5 909.4h0M214.5 912.7V914.7M214.5 919.5V921.8M214.5 927.6h0M214.5 930.1h0M214.5 934.5V936.3M214.5 938.0h0M214.5 940.3h0M214.5 942.1V942.6M214.5 946.0h0M214.5 948.0h0M214.5 950.3V956.8M214.5 961.1V962.9M214.5 965.1V967.4M214.5 969.1V970.3M214.5 972.3V973.7M214.5 975.7V976.5M214.5 979.0V979.4M214.5 982.4V986.0M214.5 990.9h0M214.5 994.6h0M215.5 884.0h0M215.5 892.5V893.8M215.5 897.1V897.5M215.5 902.6h0M215.5 908.8h0M215.5 913.7h0M215.5 923.6V925.4M215.5 928.4V929.4M215.5 932.2V932.6M215.5 936.0V937.5M215.5 941.1V945.1M215.5 946.8V952.0M215.5 954.1V955.2M215.5 956.8h0M215.5 958.6V961.8M215.5 966.9V967.3M215.5 970.5V973.5M215.5 977.5V979.3M215.5 982.4h0M215.5 984.2h0M215.5 986.2V987.3M216.5 864.1h0M216.5 868.4h0M216.5 871.5h0M216.5 880.1h0M216.5 882.3h0M216.5 884.3V886.2M216.5 887.9h0M216.5 890.4h0M216.5 893.9h0M216.5 897.2h0M216.5 898.9V900.1M216.5 901.8h0M216.5 905.2V906.3M216.5 910.5V911.4M216.5 916.3h0M216.5 918.1h0M216.5 921.1V921.8M216.5 923.5V926.6M216.5 930.6V933.7M216.5 937.0V943.0M216.5 945.8V946.2M216.5 948.2V953.8M216.5 955.9V956.3M216.5 960.2V961.1M216.5 963.5h0M216.5 967.9h0M216.5 975.7V976.5M216.5 978.4h0M217.5 866.3h0M217.5 869.5h0M217.5 873.0h0M217.5 875.2h0M217.5 877.4h0M217.5 890.0h0M217.5 891.6V892.5M217.5 894.4V895.8M217.5 899.4h0M217.5 901.0h0M217.5 902.9V907.2M217.5 909.0V910.3M217.5 914.5V915.0M217.5 917.8V919.9M217.5 923.9V929.3M217.5 931.4V939.8M217.5 941.6V946.1M217.5 948.5V951.1M217.5 952.9V953.5M217.5 955.8V958.1M217.5 961.3h0M217.5 967.9V970.8M217.5 972.6h0M217.5 974.3V974.7M217.5 979.2V980.0M218.5 839.1h0M218.5 847.0h0M218.5 851.3h0M218.5 856.7V859.0M218.5 861.4h0M218.5 864.6h0M218.5 874.0h0M218.5 881.5V881.9M218.5 886.0h0M218.5 888.9V889.4M218.5 893.4V893.8M218.5 895.8V896.5M218.5 901.8V903.8M218.5 908.2h0M218.5 913.7V915.7M218.5 919.1V921.2M218.5 923.0V927.4M218.5 929.1V932.6M218.5 935.3V937.1M218.5 939.5h0M218.5 942.6h0M218.5 944.4h0M218.5 946.9V951.2M218.5 953.8V955.5M218.5 958.0h0M218.5 962.1h0M218.5 964.3h0M218.5 969.7h0M218.5 971.9h0M219.5 859.6h0M219.5 866.2h0M219.5 869.4V869.9M219.5 880.9h0M219.5 886.3h0M219.5 888.9h0M219.5 895.2h0M219.5 898.4V901.9M219.5 904.0h0M219.5 905.7V909.0M219.5 910.6h0M219.5 912.7V919.7M219.5 921.7V924.2M219.5 926.3V927.2M219.5 928.9h0M219.5 930.5V931.6M219.5 933.7V934.1M219.5 936.4V937.9M219.5 940.4V940.7M219.5 945.9h0M219.5 948.1V951.6M219.5 954.7V955.4M219.5 960.2V961.5M219.5 963.4V963.8M219.5 972.1h0M220.5 851.7h0M220.5 859.7h0M220.5 862.9h0M220.5 865.1h0M220.5 872.5h0M220.5 879.0h0M220.5 881.7h0M220.5 884.1V885.1M220.5 887.1h0M220.5 889.7V891.2M220.5 893.8h0M220.5 898.8h0M220.5 902.9V904.0M220.5 907.1V909.8M220.5 912.8V913.6M220.5 916.8V918.0M220.5 921.3V922.4M220.5 926.1V927.1M220.5 929.2V930.1M220.5 933.5V934.0M220.5 936.7V938.7M220.5 940.5h0M220.5 944.3h0M220.5 946.6h0M220.5 948.9V950.0M220.5 952.4V954.3M220.5 957.4h0M220.5 959.6h0M220.5 961.5h0M220.5 965.9h0M220.5 968.7h0M220.5 975.7h0M221.5 840.7h0M221.5 843.1V843.7M221.5 845.6h0M221.5 852.4h0M221.5 858.4h0M221.5 860.1V862.4M221.5 866.4h0M221.5 878.4V880.3M221.5 885.0h0M221.5 887.0h0M221.5 889.8h0M221.5 895.2h0M221.5 897.3h0M221.5 899.1V900.0M221.5 903.4V904.7M221.5 907.0V908.6M221.5 911.5V913.2M221.5 915.7V920.8M221.5 923.0h0M221.5 929.5h0M221.5 932.6V934.6M221.5 936.2V939.1M221.5 942.3h0M221.5 944.5h0M221.5 946.3h0M221.5 948.5V950.7M221.5 953.0V954.0M221.5 956.8h0M221.5 959.5h0M221.5 965.5V965.8M221.5 968.0h0M222.5 832.8h0M222.5 869.3h0M222.5 876.5h0M222.5 879.8h0M222.5 882.5h0M222.5 886.2h0M222.5 888.4h0M222.5 891.7V896.9M222.5 898.8h0M222.5 904.4V904.9M222.5 911.7h0M222.5 915.1h0M222.5 918.0h0M222.5 920.1V922.5M222.5 927.4V930.2M222.5 932.6V933.4M222.5 935.4V936.5M222.5 938.2V946.9M222.5 950.4h0M222.5 952.0V954.4M222.5 958.0h0M222.5 960.5V960.9M222.5 966.6V967.5M222.5 969.2h0M222.5 971.8h0M222.5 973.6h0M223.5 852.8V853.7M223.5 867.9V869.5M223.5 872.9V873.5M223.5 875.7h0M223.5 880.2h0M223.5 885.6h0M223.5 888.0V889.2M223.5 891.2V892.0M223.5 894.4V900.0M223.5 901.6V903.2M223.5 905.1V906.5M223.5 909.5h0M223.5 911.1h0M223.5 913.7V915.3M223.5 918.8h0M223.5 923.1h0M223.5 925.8V926.5M223.5 931.9V933.5M223.5 935.5V936.5M223.5 938.2h0M223.5 940.1h0M223.5 941.9V943.2M223.5 944.8V946.8M223.5 948.9h0M223.5 951.0h0M223.5 953.8V956.9M223.5 965.4h0M223.5 967.1h0M223.5 970.9h0M224.5 782.1h0M224.5 787.5h0M224.5 790.0h0M224.5 793.7h0M224.5 798.4h0M224.5 801.3V804.0M224.5 807.4h0M224.5 820.2h0M224.5 826.1h0M224.5 834.1h0M224.5 837.6h0M224.5 849.2V850.1M224.5 854.3h0M224.5 858.5h0M224.5 863.1h0M224.5 867.2h0M224.5 869.7V870.2M224.5 872.6h0M224.5 875.2V876.5M224.5 880.5h0M224.5 882.7h0M224.5 885.8h0M224.5 887.5V891.6M224.5 893.7h0M224.5 897.5h0M224.5 902.7V903.2M224.5 905.7h0M224.5 913.0V918.4M224.5 924.1h0M224.5 927.9h0M224.5 929.8V931.0M224.5 933.6h0M224.5 935.5h0M224.5 937.6V938.7M224.5 942.3h0M224.5 944.0V946.7M224.5 953.3V955.0M224.5 957.2h0M224.5 967.9h0M225.5 800.4h0M225.5 827.1h0M225.5 836.3V837.3M225.5 840.2h0M225.5 842.5h0M225.5 845.0V845.7M225.5 847.4h0M225.5 852.2V854.1M225.5 858.3h0M225.5 861.4h0M225.5 865.0V865.7M225.5 868.2V872.7M225.5 877.3V877.9M225.5 880.6h0M225.5 883.5h0M225.5 886.2V886.9M225.5 888.7h0M225.5 892.3h0M225.5 894.9h0M225.5 896.6h0M225.5 902.7h0M225.5 905.2V908.1M225.5 910.8h0M225.5 914.2V915.0M225.5 918.3h0M225.5 922.6V923.4M225.5 927.2V927.8M225.5 932.2V935.2M225.5 937.4V938.2M225.5 940.4V944.4M225.5 960.5h0M226.5 789.8h0M226.5 803.1h0M226.5 809.0V810.6M226.5 820.5V822.4M226.5 828.2h0M226.5 831.6h0M226.5 833.5h0M226.5 836.8V838.9M226.5 841.8V844.2M226.5 846.8h0M226.5 849.5h0M226.5 851.4V852.4M226.5 855.5h0M226.5 858.6V860.9M226.5 864.8V865.6M226.5 868.6h0M226.5 874.2h0M226.5 876.0V876.9M226.5 879.3V882.9M226.5 889.6h0M226.5 895.5h0M226.5 903.7V904.0M226.5 907.1h0M226.5 910.0V911.2M226.5 916.8h0M226.5 918.8h0M226.5 922.1V923.5M226.5 928.1h0M226.5 934.6h0M226.5 936.6h0M226.5 944.5V945.7M226.5 950.9h0M226.5 952.9h0M226.5 959.0h0M226.5 961.4h0M226.5 963.4h0M226.5 976.8h0M227.5 778.2h0M227.5 804.4h0M227.5 807.1V808.6M227.5 814.3h0M227.5 820.5V823.1M227.5 831.3h0M227.5 838.9V841.2M227.5 842.9h0M227.5 845.8h0M227.5 848.5h0M227.5 851.1V853.3M227.5 856.2V856.9M227.5 860.0V861.5M227.5 864.5h0M227.5 867.9h0M227.5 869.9h0M227.5 872.7V873.7M227.5 879.6h0M227.5 883.1V883.5M227.5 889.0V891.5M227.5 894.2h0M227.5 900.0h0M227.5 903.3V903.6M227.5 908.0V908.8M227.5 915.9V917.3M227.5 919.3h0M227.5 923.8h0M227.5 926.4h0M227.5 928.7V930.0M227.5 932.2h0M227.5 939.3h0M227.5 943.1h0M227.5 947.9h0M227.5 952.3V954.6M227.5 962.2h0M227.5 966.7h0M228.5 779.3V779.9M228.5 785.8h0M228.5 801.6h0M228.5 803.6h0M228.5 805.5V805.9M228.5 807.7h0M228.5 817.9h0M228.5 819.5h0M228.5 821.5h0M228.5 824.8h0M228.5 828.1h0M228.5 830.5h0M228.5 832.9V834.3M228.5 838.9V840.2M228.5 842.8h0M228.5 844.5V847.0M228.5 849.8V851.5M228.5 853.3h0M228.5 856.7h0M228.5 859.6V860.4M228.5 863.2V868.0M228.5 870.7V871.8M228.5 878.0V878.6M228.5 881.8h0M228.5 886.8h0M228.5 894.9V895.4M228.5 897.3h0M228.5 904.0h0M228.5 906.7V908.0M228.5 913.3V914.9M228.5 917.9V919.4M228.5 924.2h0M228.5 926.1h0M228.5 937.7V938.6M228.5 945.3h0M228.5 948.4V949.4M228.5 952.5h0M228.5 956.2h0M228.5 962.0h0M228.5 965.6h0M228.5 967.3h0M229.5 774.5h0M229.5 802.6h0M229.5 819.3V820.1M229.5 832.8V833.6M229.5 836.4V836.9M229.5 839.0h0M229.5 842.3h0M229.5 848.7h0M229.5 850.4V851.6M229.5 856.1V857.1M229.5 860.0V860.4M229.5 862.6V865.1M229.5 867.6V868.5M229.5 870.9V873.7M229.5 876.6V880.1M229.5 881.9h0M229.5 884.4h0M229.5 890.1V891.1M229.5 893.9h0M229.5 899.2V900.1M229.5 902.2V902.9M229.5 905.2h0M229.5 907.1h0M229.5 909.0h0M229.5 915.1h0M229.5 917.7V920.5M229.5 924.3h0M229.5 929.7V931.0M229.5 935.9h0M229.5 939.5V941.0M229.5 945.8h0M229.5 953.4h0M229.5 955.1h0M229.5 962.5h0M229.5 967.4h0M230.5 767.2h0M230.5 781.2h0M230.5 789.4h0M230.5 795.2h0M230.5 805.2h0M230.5 813.2h0M230.5 814.8h0M230.5 820.5h0M230.5 828.5V829.3M230.5 834.7V835.8M230.5 841.7h0M230.5 848.1V848.8M230.5 853.5V854.5M230.5 856.7h0M230.5 858.5V860.7M230.5 865.2V866.0M230.5 868.8h0M230.5 870.6h0M230.5 873.0V874.6M230.5 877.1h0M230.5 879.5h0M230.5 881.3V884.6M230.5 888.6h0M230.5 890.6h0M230.5 898.0h0M230.5 902.4V903.4M230.5 906.2V910.2M230.5 913.5V916.0M230.5 918.8V919.4M230.5 922.4h0M230.5 924.1V925.0M230.5 926.9h0M230.5 929.3h0M230.5 934.2V936.5M230.5 939.2V940.6M230.5 943.0V943.9M230.5 948.9h0M231.5 832.3h0M231.5 851.0h0M231.5 852.7V854.2M231.5 856.0V856.7M231.5 860.1h0M231.5 863.2V863.8M231.5 866.6V867.3M231.5 869.3h0M231.5 876.8h0M231.5 879.0V881.3M231.5 884.2V885.4M231.5 889.7V895.3M231.5 899.7V902.9M231.5 907.4h0M231.5 909.8V911.9M231.5 915.8h0M231.5 917.5V918.7M231.5 920.4h0M231.5 922.9h0M231.5 926.9V927.7M231.5 931.8V934.9M231.5 937.4h0M231.5 939.6h0M231.5 942.2h0M231.5 947.4h0M231.5 955.8h0M231.5 963.9h0M232.5 826.5h0M232.5 828.8h0M232.5 832.9h0M232.5 835.9h0M232.5 841.5V848.1M232.5 850.1h0M232.5 854.2V854.7M232.5 857.6h0M232.5 862.2h0M232.5 864.5h0M232.5 867.0V868.1M232.5 872.7V877.6M232.5 881.3V883.9M232.5 886.9V888.5M232.5 895.7V897.2M232.5 902.0V903.5M232.5 906.0h0M232.5 907.7h0M232.5 911.8V912.4M232.5 920.3V921.9M232.5 925.4V927.5M232.5 929.8V930.5M232.5 932.8V933.8M232.5 939.0V941.7M232.5 947.2h0M232.5 948.8h0M232.5 958.1h0M232.5 960.1h0M232.5 962.9h0M233.5 842.8h0M233.5 860.5h0M233.5 863.3V864.2M233.5 866.2V872.1M233.5 874.5h0M233.5 876.6h0M233.5 880.7V882.8M233.5 888.1h0M233.5 890.2h0M233.5 892.7V894.7M233.5 897.5V898.2M233.5 900.6h0M233.5 902.4h0M233.5 904.9h0M233.5 906.9V908.7M233.5 910.4h0M233.5 916.0h0M233.5 917.7V919.3M233.5 922.8h0M233.5 925.6h0M233.5 928.0h0M233.5 930.2V934.4M233.5 937.9V940.4M233.5 943.1V944.5M233.5 947.5h0M233.5 950.0V952.0M233.5 956.7h0M233.5 964.4h0M233.5 966.2h0M234.5 847.9V848.6M234.5 857.3h0M234.5 861.3h0M234.5 869.7h0M234.5 873.7V874.6M234.5 877.8V880.8M234.5 883.3V883.9M234.5 887.6h0M234.5 890.3h0M234.5 893.4h0M234.5 895.6V899.3M234.5 903.3V905.2M234.5 907.3h0M234.5 912.5h0M234.5 914.6h0M234.5 916.6V918.1M234.5 921.0V922.3M234.5 924.1V924.7M234.5 926.6h0M234.5 929.0V935.8M234.5 937.4V938.7M234.5 942.6h0M234.5 945.5h0M234.5 947.2h0M234.5 951.6h0M234.5 956.1h0M234.5 964.0h0M234.5 967.5h0M235.5 847.2V847.9M235.5 853.9V854.7M235.5 859.7h0M235.5 865.3h0M235.5 873.8V876.1M235.5 889.3V890.1M235.5 893.5V894.3M235.5 897.9h0M235.5 899.8V901.5M235.5 903.1V907.4M235.5 911.1V915.2M235.5 918.7h0M235.5 921.8h0M235.5 926.1V927.0M235.5 929.9V930.4M235.5 933.1V933.5M235.5 936.5h0M235.5 939.6V940.8M235.5 942.9V943.3M235.5 945.2h0M235.5 950.5V954.6M235.5 958.6V959.8M235.5 961.6h0M236.5 841.8h0M236.5 848.2h0M236.5 851.4h0M236.5 853.2h0M236.5 862.9V864.1M236.5 866.7V867.1M236.5 871.8V873.1M236.5 875.8V877.0M236.5 881.4V882.5M236.5 888.8h0M236.5 892.1h0M236.5 894.8V896.7M236.5 899.0V899.7M236.5 901.4h0M236.5 903.1V903.5M236.5 906.8V909.9M236.5 912.1V912.9M236.5 919.8h0M236.5 922.0V922.8M236.5 924.7V927.8M236.5 929.5h0M236.5 933.9h0M236.5 936.2h0M236.5 939.1V940.4M236.5 945.4V947.1M236.5 949.7V950.4M236.5 952.4V952.9M237.5 819.0h0M237.5 820.7h0M237.5 837.4h0M237.5 849.7V851.5M237.5 855.6V858.0M237.5 862.3h0M237.5 865.0V867.2M237.5 870.1V871.1M237.5 873.7V874.7M237.5 884.0V885.3M237.5 886.9h0M237.5 889.2V891.3M237.5 894.4V895.3M237.5 897.1V898.5M237.5 900.3V903.7M237.5 905.8V908.6M237.5 914.0V915.6M237.5 917.3V918.1M237.5 920.7V921.0M237.5 924.5h0M237.5 929.1V930.5M237.5 933.0V934.4M237.5 940.2V941.3M237.5 945.2h0M237.5 950.0V951.1M237.5 955.6h0M238.5 799.8h0M238.5 805.7h0M238.5 807.9h0M238.5 810.3V811.4M238.5 813.7h0M238.5 816.9h0M238.5 823.0h0M238.5 832.0h0M238.5 833.8h0M238.5 839.9h0M238.5 845.6h0M238.5 847.2V848.6M238.5 851.0h0M238.5 856.8h0M238.5 859.1h0M238.5 861.4V864.5M238.5 867.8V871.6M238.5 875.5V885.8M238.5 887.8V888.6M238.5 892.2h0M238.5 894.0V895.3M238.5 896.9V900.6M238.5 903.2h0M238.5 906.0h0M238.5 911.9h0M238.5 914.0h0M238.5 915.7h0M238.5 918.2h0M238.5 922.9V925.9M238.5 929.5h0M238.5 934.9V935.3M238.5 936.9h0M238.5 953.6V954.1M239.5 797.7h0M239.5 802.0h0M239.5 814.0V814.4M239.5 823.4V823.9M239.5 829.0h0M239.5 832.6h0M239.5 838.1V840.6M239.5 845.5V848.1M239.5 850.8V851.4M239.5 855.0h0M239.5 859.6h0M239.5 863.6h0M239.5 865.6V867.1M239.5 872.7h0M239.5 878.3V878.8M239.5 880.9V882.4M239.5 890.0h0M239.5 893.5V894.8M239.5 897.2V898.1M239.5 903.1V905.4M239.5 907.7V912.3M239.5 914.8V916.0M239.5 917.8V918.4M239.5 924.1h0M239.5 926.6V927.0M239.5 930.5h0M239.5 932.9h0M239.5 935.2h0M239.5 937.1h0M239.5 938.7h0M239.5 947.4V948.3M240.5 804.6h0M240.5 814.5h0M240.5 816.5V817.3M240.5 819.3h0M240.5 826.7V828.2M240.5 831.1h0M240.5 836.9h0M240.5 839.4V840.0M240.5 841.7V842.5M240.5 846.5V847.8M240.5 849.7V852.7M240.5 857.2V857.5M240.5 861.6h0M240.5 864.6h0M240.5 866.6V867.0M240.5 869.8h0M240.5 872.0V873.2M240.5 877.3h0M240.5 880.1V881.4M240.5 885.7V887.0M240.5 888.9V890.3M240.5 892.2h0M240.5 895.0h0M240.5 896.9V897.9M240.5 899.6V904.0M240.5 909.2V911.2M240.5 915.2V915.7M240.5 920.6h0M240.5 922.8h0M240.5 928.4h0M240.5 930.3h0M240.5 932.3V933.2M240.5 936.4h0M240.5 946.6h0M240.5 951.2h0M240.5 953.6V955.0M241.5 814.7h0M241.5 836.1V837.9M241.5 839.6V840.5M241.5 848.7V850.1M241.5 857.4h0M241.5 861.1V863.6M241.5 871.2h0M241.5 875.5h0M241.5 877.1V878.2M241.5 881.3h0M241.5 887.0V892.5M241.5 894.5h0M241.5 897.5h0M241.5 899.8h0M241.5 901.8V902.8M241.5 904.9V911.5M241.5 918.3V923.1M241.5 925.2h0M241.5 927.7h0M241.5 935.8h0M241.5 939.2V941.2M241.5 949.8h0M241.5 953.4V954.3M242.5 812.1h0M242.5 815.0h0M242.5 819.2h0M242.5 823.9h0M242.5 831.3h0M242.5 837.0V837.7M242.5 840.7V841.6M242.5 843.8V845.2M242.5 847.5h0M242.5 850.3h0M242.5 855.9V856.2M242.5 858.7h0M242.5 863.9h0M242.5 866.8h0M242.5 869.3V869.7M242.5 872.0h0M242.5 877.3h0M242.5 879.3h0M242.5 881.9h0M242.5 887.1h0M242.5 890.1h0M242.5 891.8h0M242.5 893.6h0M242.5 895.9V896.5M242.5 900.1h0M242.5 903.0h0M242.5 905.1V905.9M242.5 909.3V910.9M242.5 912.7h0M242.5 915.0h0M242.5 917.4V918.0M242.5 921.0V921.5M242.5 924.3V925.1M242.5 928.0h0M242.5 930.1V930.5M242.5 933.0h0M242.5 937.4V938.5M242.5 943.4h0M242.5 945.8h0M242.5 952.3V953.5M243.5 750.7h0M243.5 806.0h0M243.5 810.5V813.0M243.5 815.4h0M243.5 821.8h0M243.5 825.1h0M243.5 828.0V829.2M243.5 831.0h0M243.5 835.0h0M243.5 836.7h0M243.5 841.4V845.9M243.5 847.9V851.3M243.5 853.9V855.3M243.5 859.7h0M243.5 861.8h0M243.5 863.7V864.3M243.5 866.5V868.8M243.5 870.5V871.6M243.5 873.4h0M243.5 875.9h0M243.5 878.2V880.2M243.5 883.4V886.3M243.5 888.8h0M243.5 892.1V893.1M243.5 896.8V898.3M243.5 899.9h0M243.5 907.1h0M243.5 913.3V915.0M243.5 928.0h0M243.5 939.7h0M243.5 946.3h0M244.5 711.3h0M244.5 758.7V759.3M244.5 769.6h0M244.5 772.1h0M244.5 774.5h0M244.5 777.4V777.9M244.5 780.1h0M244.5 787.8h0M244.5 793.2h0M244.5 800.3V801.2M244.5 803.1h0M244.5 807.5V808.8M244.5 811.9h0M244.5 815.7V816.4M244.5 821.3h0M244.5 823.4h0M244.5 825.5h0M244.5 833.0h0M244.5 835.6h0M244.5 840.8h0M244.5 844.4h0M244.5 846.3h0M244.5 850.2V851.3M244.5 855.0V855.4M244.5 866.7h0M244.5 868.3h0M244.5 869.9V872.2M244.5 874.1h0M244.5 875.7h0M244.5 881.1V882.2M244.5 885.8V887.3M244.5 892.1V893.2M244.5 895.8h0M244.5 899.4h0M244.5 906.4V907.3M244.5 910.0V910.8M244.5 920.2h0M244.5 922.8h0M244.5 924.9h0M244.5 930.1h0M244.5 945.3V947.5M245.5 764.3h0M245.5 766.2h0M245.5 785.4V786.9M245.5 789.1h0M245.5 793.9h0M245.5 799.4V802.2M245.5 806.3h0M245.5 810.6h0M245.5 812.9h0M245.5 818.2V819.0M245.5 822.0h0M245.5 825.2V826.1M245.5 830.6h0M245.5 835.0h0M245.5 837.7h0M245.5 839.6V840.9M245.5 844.0V845.3M245.5 852.4h0M245.5 859.3h0M245.5 861.6V865.2M245.5 869.5h0M245.5 872.7V873.5M245.5 876.9h0M245.5 881.8h0M245.5 883.8h0M245.5 889.7h0M245.5 895.1V896.0M245.5 899.0V900.7M245.5 903.6V904.7M245.5 909.8V910.1M245.5 916.1h0M245.5 921.1h0M245.5 925.7h0M245.5 927.8h0M245.5 930.3h0M245.5 933.3V933.9M245.5 942.7h0M245.5 953.1h0M246.5 784.4h0M246.5 800.5h0M246.5 804.9h0M246.5 818.4V819.6M246.5 821.4h0M246.5 827.4V829.9M246.5 833.0h0M246.5 837.5h0M246.5 842.7h0M246.5 844.7V845.4M246.5 849.0h0M246.5 852.2h0M246.5 854.7h0M246.5 856.6h0M246.5 858.3h0M246.5 860.1V860.9M246.5 865.6V868.5M246.5 871.5h0M246.5 874.2h0M246.5 877.8h0M246.5 882.6h0M246.5 885.6V889.4M246.5 893.6V894.8M246.5 897.8h0M246.5 900.2V901.5M246.5 904.3h0M246.5 916.2h0M246.5 918.7V922.0M246.5 924.9h0M246.5 930.7h0M246.5 932.6h0M246.5 936.9h0M246.5 939.7h0M246.5 944.0h0M246.5 953.8h0M246.5 963.3h0M247.5 808.1h0M247.5 810.7V812.0M247.5 814.9h0M247.5 820.9h0M247.5 830.9V831.3M247.5 836.3h0M247.5 838.8h0M247.5 842.3h0M247.5 845.4h0M247.5 847.1V848.4M247.5 850.3h0M247.5 853.7V855.2M247.5 857.0V858.9M247.5 860.8h0M247.5 864.5V866.4M247.5 868.8V870.1M247.5 872.4V875.5M247.5 878.5V879.9M247.5 884.4V886.5M247.5 893.2V895.1M247.5 899.5h0M247.5 904.3V904.8M247.5 908.2h0M247.5 911.2V913.9M247.5 917.4V918.0M247.5 921.6h0M247.5 928.0h0M247.5 935.0h0M247.5 939.5h0M247.5 942.7h0M247.5 944.9h0M247.5 947.7h0M248.5 786.5h0M248.5 789.7h0M248.5 794.8V796.3M248.5 803.8h0M248.5 825.9h0M248.5 828.9V829.6M248.5 831.6h0M248.5 835.1h0M248.5 837.1h0M248.5 839.1V839.7M248.5 843.8V845.0M248.5 848.9h0M248.5 855.5h0M248.5 859.6h0M248.5 862.5V864.4M248.5 866.1h0M248.5 868.0h0M248.5 869.7V870.4M248.5 872.3V873.4M248.5 879.6V879.9M248.5 885.0h0M248.5 887.0V887.7M248.5 891.2V891.5M248.5 893.9h0M248.5 895.9V896.7M248.5 900.3h0M248.5 906.0V910.1M248.5 915.3V916.7M248.5 922.1h0M248.5 929.8h0M248.5 932.7V935.0M248.5 940.1V941.6M248.5 946.6h0M248.5 949.9h0M248.5 953.0h0M249.5 776.6h0M249.5 790.9h0M249.5 805.8V807.5M249.5 811.8h0M249.5 814.5h0M249.5 817.1h0M249.5 818.9V821.3M249.5 829.6h0M249.5 831.7h0M249.5 834.6h0M249.5 836.4V837.5M249.5 843.3h0M249.5 846.2V848.0M249.5 850.0h0M249.5 853.8V860.2M249.5 862.2V863.8M249.5 866.9h0M249.5 869.6V870.6M249.5 873.1h0M249.5 880.0h0M249.5 881.7h0M249.5 883.6V885.6M249.5 889.9h0M249.5 894.8V895.4M249.5 897.2h0M249.5 899.3h0M249.5 906.3h0M249.5 907.9h0M249.5 910.4h0M249.5 915.1h0M249.5 917.5h0M249.5 920.9h0M249.5 924.8h0M249.5 927.5h0M250.5 788.9h0M250.5 805.1h0M250.5 811.0V813.4M250.5 815.4h0M250.5 821.1h0M250.5 823.8h0M250.5 827.2V827.6M250.5 831.5h0M250.5 834.8V839.2M250.5 840.9V842.2M250.5 847.8h0M250.5 854.0h0M250.5 855.8V857.4M250.5 859.2h0M250.5 861.1V862.4M250.5 867.4V869.5M250.5 871.8h0M250.5 873.7V874.9M250.5 876.5V877.4M250.5 879.2h0M250.5 881.5V882.6M250.5 892.0h0M250.5 895.4h0M250.5 900.4h0M250.5 907.0h0M250.5 909.6V913.8M250.5 917.1h0M250.5 929.0h0M250.5 930.9h0M250.5 938.5V938.8M250.5 943.5h0M250.5 950.3h0M250.5 956.9V957.8M251.5 755.4h0M251.5 771.0h0M251.5 773.4V774.5M251.5 784.2h0M251.5 792.1h0M251.5 799.1h0M251.5 810.7h0M251.5 815.0h0M251.5 820.7h0M251.5 827.3h0M251.5 830.4h0M251.5 835.6h0M251.5 838.5V842.0M251.5 845.9h0M251.5 848.7V850.0M251.5 851.7h0M251.5 854.0h0M251.5 857.5V858.7M251.5 862.4V863.9M251.5 866.4h0M251.5 869.3h0M251.5 871.7h0M251.5 874.1V875.9M251.5 879.5h0M251.5 881.5h0M251.5 883.6h0M251.5 885.7V886.8M251.5 892.7V894.2M251.5 896.7h0M251.5 898.9V900.2M251.5 902.8h0M251.5 905.1h0M251.5 910.1V913.2M251.5 917.8h0M251.5 925.1h0M251.5 929.9V930.9M251.5 939.6h0M251.5 950.8h0M252.5 770.2h0M252.5 773.4h0M252.5 775.7h0M252.5 781.2h0M252.5 808.4h0M252.5 810.2h0M252.5 814.9V816.2M252.5 819.9h0M252.5 823.6h0M252.5 825.3V825.8M252.5 832.0V832.9M252.5 840.2h0M252.5 843.4h0M252.5 847.6h0M252.5 851.4h0M252.5 853.5h0M252.5 855.3V856.6M252.5 859.1V860.9M252.5 862.6V864.1M252.5 867.2h0M252.5 868.9h0M252.5 870.7h0M252.5 873.1h0M252.5 876.5V877.8M252.5 883.9h0M252.5 887.9V888.8M252.5 891.7V893.7M252.5 895.5h0M252.5 898.8V901.3M252.5 909.0V910.4M252.5 914.6h0M252.5 916.7V917.3M252.5 919.6h0M252.5 921.4h0M252.5 924.4h0M252.5 926.7h0M252.5 934.9h0M252.5 939.0h0M253.5 804.4h0M253.5 808.0V808.6M253.5 813.9V816.2M253.5 824.3h0M253.5 829.3h0M253.5 832.5h0M253.5 837.2h0M253.5 844.2h0M253.5 851.6h0M253.5 853.6V854.7M253.5 857.1V860.7M253.5 864.4V865.4M253.5 867.3V867.8M253.5 877.0V878.1M253.5 884.0V885.5M253.5 888.7V893.6M253.5 898.3V898.7M253.5 900.5V901.0M253.5 910.9h0M253.5 913.2h0M253.5 915.2V917.2M253.5 921.2V921.9M253.5 927.0V928.1M253.5 930.6V931.5M253.5 941.1V942.8M253.5 949.1h0M253.5 951.9h0M254.5 790.3h0M254.5 801.7h0M254.5 811.4V812.0M254.5 814.5h0M254.5 818.8V821.3M254.5 825.1V827.1M254.5 831.1h0M254.5 834.6h0M254.5 836.3V838.2M254.5 842.1h0M254.5 856.6h0M254.5 859.4h0M254.5 863.6h0M254.5 867.9h0M254.5 871.3V872.6M254.5 874.5V875.4M254.5 880.4h0M254.5 882.5V884.6M254.5 889.2V889.8M254.5 892.4h0M254.5 894.5h0M254.5 896.4h0M254.5 898.9V899.7M254.5 903.4V908.0M254.5 915.2h0M254.5 918.0h0M254.5 920.3h0M254.5 925.0V927.0M254.5 930.6V931.8M254.5 936.0h0M254.5 939.0h0M254.5 941.9h0M254.5 956.9h0M254.5 958.7h0M255.5 796.1h0M255.5 806.4h0M255.5 808.6h0M255.5 810.7h0M255.5 814.3h0M255.5 823.3h0M255.5 829.7h0M255.5 834.4h0M255.5 837.5h0M255.5 841.1h0M255.5 842.9h0M255.5 849.1h0M255.5 850.8V851.4M255.5 853.6h0M255.5 855.3h0M255.5 860.7h0M255.5 864.5h0M255.5 867.3h0M255.5 869.3V870.3M255.5 872.9V873.8M255.5 876.5V877.1M255.5 878.9h0M255.5 882.0h0M255.5 884.2V887.8M255.5 895.4V895.9M255.5 898.0V903.6M255.5 910.6V911.1M255.5 913.1h0M255.5 915.7h0M255.5 917.8V920.6M255.5 927.6h0M255.5 929.7h0M255.5 933.9h0M255.5 938.7V940.9M256.5 802.1h0M256.5 807.9h0M256.5 809.7h0M256.5 814.5h0M256.5 816.9V817.9M256.5 822.2h0M256.5 824.9h0M256.5 832.6h0M256.5 835.1h0M256.5 838.3h0M256.5 842.4V843.7M256.5 847.4V850.8M256.5 852.8V856.5M256.5 859.6h0M256.5 862.5V863.1M256.5 869.1h0M256.5 871.9V874.0M256.5 875.9h0M256.5 877.7h0M256.5 880.0h0M256.5 888.6h0M256.5 896.0h0M256.5 898.3h0M256.5 900.6h0M256.5 903.2h0M256.5 906.8h0M256.5 910.4V913.6M256.5 916.9h0M256.5 924.9h0M256.5 928.0V928.7M256.5 942.3h0M256.5 954.8h0M257.5 793.0h0M257.5 803.3V805.1M257.5 813.7h0M257.5 815.7h0M257.5 818.6h0M257.5 823.3V823.9M257.5 829.1h0M257.5 830.9V832.8M257.5 835.8V837.3M257.5 842.5h0M257.5 851.3V854.8M257.5 861.4V865.2M257.5 867.0V873.3M257.5 877.9h0M257.5 880.4V881.4M257.5 885.1V888.1M257.5 890.3V891.1M257.5 895.4h0M257.5 898.0V900.1M257.5 902.4V906.1M257.5 909.9h0M257.5 913.1V913.8M257.5 918.7h0M257.5 922.0h0M257.5 925.6V926.6M257.5 928.6V930.5M257.5 940.7h0M258.5 781.7h0M258.5 785.0h0M258.5 788.3V789.8M258.5 793.6h0M258.5 795.9h0M258.5 800.4h0M258.5 802.4h0M258.5 805.2h0M258.5 812.2h0M258.5 817.4h0M258.5 824.9h0M258.5 828.2h0M258.5 834.9V835.5M258.5 838.8h0M258.5 841.4h0M258.5 843.1V843.9M258.5 852.3h0M258.5 855.3V856.5M258.5 860.0V860.8M258.5 865.6h0M258.5 868.5h0M258.5 870.7V872.0M258.5 878.3V879.5M258.5 882.1V883.5M258.5 885.5V888.8M258.5 891.5V894.6M258.5 898.4V901.3M258.5 903.0h0M258.5 906.0h0M258.5 909.8V910.9M258.5 913.4V913.8M258.5 918.0V918.4M258.5 922.5h0M258.5 925.4h0M258.5 927.1V930.0M258.5 934.9h0M258.5 936.7h0M258.5 940.7h0M258.5 947.7h0M258.5 950.6h0M259.5 803.3h0M259.5 809.6h0M259.5 821.1h0M259.5 822.9h0M259.5 827.4h0M259.5 831.7h0M259.5 837.4V838.5M259.5 844.4V845.3M259.5 848.0h0M259.5 849.7h0M259.5 852.3V854.3M259.5 857.3h0M259.5 863.4V865.1M259.5 866.8h0M259.5 870.6h0M259.5 873.5V875.0M259.5 878.8h0M259.5 881.2V886.4M259.5 890.4h0M259.5 894.3V898.7M259.5 901.6V903.2M259.5 905.3h0M259.5 909.1V915.0M259.5 922.3h0M259.5 929.4h0M259.5 932.3h0M259.5 934.7h0M259.5 941.1h0M259.5 944.0h0M259.5 955.3h0M260.5 809.1h0M260.5 816.3h0M260.5 836.0h0M260.5 842.9V844.3M260.5 846.3V847.8M260.5 850.5V852.0M260.5 854.6h0M260.5 857.4h0M260.5 860.1h0M260.5 863.7h0M260.5 866.5h0M260.5 868.4V870.9M260.5 873.0V875.8M260.5 879.2h0M260.5 881.9V883.8M260.5 885.9h0M260.5 889.5h0M260.5 891.4h0M260.5 893.9V894.6M260.5 897.3h0M260.5 899.5V905.1M260.5 908.1h0M260.5 910.1h0M260.5 912.4h0M260.5 918.8h0M260.5 921.4V926.0M260.5 929.7V930.8M260.5 932.8h0M260.5 935.6V936.6M260.5 947.1h0M261.5 835.3h0M261.5 840.2h0M261.5 841.9V843.4M261.5 846.3h0M261.5 849.6h0M261.5 853.4h0M261.5 855.6V856.5M261.5 862.4V866.5M261.5 869.4h0M261.5 873.1h0M261.5 878.7V880.1M261.5 883.1V883.5M261.5 886.0V888.4M261.5 890.3h0M261.5 893.9h0M261.5 897.9V902.0M261.5 903.8h0M261.5 908.0V909.5M261.5 912.2V917.2M261.5 919.0h0M261.5 923.0h0M261.5 925.4h0M261.5 928.5h0M261.5 932.7h0M261.5 937.0V939.7M261.5 943.5V945.5M262.5 816.7h0M262.5 826.2h0M262.5 829.6h0M262.5 835.9h0M262.5 841.4V842.8M262.5 855.2h0M262.5 860.5V860.9M262.5 863.6V866.3M262.5 869.8V871.8M262.5 876.3h0M262.5 881.1h0M262.5 884.0V887.5M262.5 889.3V889.9M262.5 891.6V893.5M262.5 895.3V896.3M262.5 901.7V905.0M262.5 912.2V913.1M262.5 915.0V917.7M262.5 919.5V921.0M262.5 925.6V926.7M262.5 930.9h0M262.5 934.7h0M262.5 939.9h0M262.5 944.7V947.7M262.5 960.6h0M263.5 808.7h0M263.5 816.1h0M263.5 827.9h0M263.5 842.2V843.8M263.5 848.3h0M263.5 851.9h0M263.5 855.9h0M263.5 859.9h0M263.5 861.8V862.8M263.5 865.9V866.8M263.5 868.6h0M263.5 874.3V875.7M263.5 878.5V882.2M263.5 884.6V887.4M263.5 889.2h0M263.5 891.2V891.9M263.5 894.0V895.3M263.5 897.3V898.1M263.5 900.2V902.3M263.5 903.9h0M263.5 907.3V908.8M263.5 912.7h0M263.5 916.9V919.8M263.5 921.6V922.1M263.5 931.8V934.1M263.5 937.1h0M263.5 939.2h0M263.5 941.7h0M263.5 947.7h0M263.5 949.9h0M263.5 961.5h0M264.5 803.4h0M264.5 811.4h0M264.5 818.7h0M264.5 820.6h0M264.5 835.1V835.9M264.5 839.8V841.2M264.5 842.9h0M264.5 845.2V847.2M264.5 849.0h0M264.5 850.9h0M264.5 855.3h0M264.5 857.0V857.6M264.5 860.3h0M264.5 865.4V865.9M264.5 873.7h0M264.5 875.4V877.1M264.5 883.0V886.5M264.5 888.7h0M264.5 893.0V898.2M264.5 903.9h0M264.5 907.9h0M264.5 909.8h0M264.5 911.8V914.8M264.5 916.5V921.0M264.5 924.9h0M264.5 928.6V929.8M264.5 934.3h0M264.5 938.3h0M264.5 942.0V942.4M264.5 949.4h0M264.5 956.3h0M265.5 782.3h0M265.5 788.0V789.7M265.5 791.4h0M265.5 799.3h0M265.5 812.7h0M265.5 815.3h0M265.5 823.5h0M265.5 826.1h0M265.5 830.5h0M265.5 838.9V843.5M265.5 847.2V849.6M265.5 855.8h0M265.5 861.2V867.9M265.5 871.0h0M265.5 875.5V877.4M265.5 879.1h0M265.5 881.6h0M265.5 884.4V884.8M265.5 889.3V890.1M265.5 894.3h0M265.5 896.5V897.0M265.5 901.4h0M265.5 903.2h0M265.5 910.6h0M265.5 914.2V914.8M265.5 917.4h0M265.5 920.2h0M265.5 926.0V928.4M265.5 937.3h0M265.5 941.6h0M265.5 949.5h0M265.5 953.7V954.8M266.5 788.3h0M266.5 790.1V791.0M266.5 802.7V804.1M266.5 812.3h0M266.5 815.3V816.5M266.5 818.3h0M266.5 820.8h0M266.5 823.0h0M266.5 826.1V827.0M266.5 829.9V831.2M266.5 833.3V834.4M266.5 836.7h0M266.5 839.3V841.3M266.5 844.4h0M266.5 847.8h0M266.5 852.7h0M266.5 855.2V855.7M266.5 861.3V866.5M266.5 868.2V869.2M266.5 871.5h0M266.5 873.6V875.8M266.5 879.6V882.5M266.5 885.9V891.1M266.5 893.5h0M266.5 898.8V901.1M266.5 906.3h0M266.5 909.6h0M266.5 911.7h0M266.5 917.1h0M266.5 920.4h0M266.5 924.8h0M266.5 936.8h0M266.5 939.8h0M267.5 763.4h0M267.5 766.1h0M267.5 789.8h0M267.5 795.8h0M267.5 799.0h0M267.5 802.1h0M267.5 805.2h0M267.5 807.4h0M267.5 820.8h0M267.5 823.7h0M267.5 827.2h0M267.5 832.2V833.7M267.5 845.8h0M267.5 847.7V850.1M267.5 855.0V856.7M267.5 860.3h0M267.5 862.5V863.4M267.5 865.3V865.8M267.5 870.5h0M267.5 873.0h0M267.5 875.7V876.2M267.5 878.1h0M267.5 882.5h0M267.5 887.0V890.2M267.5 893.3V895.9M267.5 901.0h0M267.5 903.4V904.9M267.5 912.2V914.3M267.5 916.5h0M267.5 924.6h0M267.5 927.3h0M267.5 930.0V931.3M267.5 934.0V935.0M267.5 946.3h0M267.5 948.5h0M268.5 813.3V814.7M268.5 816.5h0M268.5 824.0V824.7M268.5 828.7h0M268.5 830.7V832.6M268.5 835.7V837.8M268.5 840.3V841.7M268.5 843.5h0M268.5 847.5V848.3M268.5 853.2h0M268.5 859.1V859.5M268.5 863.1h0M268.5 865.0h0M268.5 866.7V868.1M268.5 870.6h0M268.5 872.4V873.9M268.5 879.8h0M268.5 882.8h0M268.5 885.3h0M268.5 887.5h0M268.5 889.2h0M268.5 891.5V893.1M268.5 894.8h0M268.5 898.9V899.5M268.5 902.4V905.3M268.5 907.3h0M268.5 910.6h0M268.5 914.1V915.6M268.5 921.2h0M268.5 923.3h0M268.5 927.9V928.9M268.5 932.5h0M269.5 809.4h0M269.5 823.9h0M269.5 830.0h0M269.5 831.6h0M269.5 837.4h0M269.5 843.0V844.4M269.5 848.0h0M269.5 850.7h0M269.5 852.4V855.0M269.5 858.7h0M269.5 862.0V862.5M269.5 869.1h0M269.5 872.8h0M269.5 878.0V878.9M269.5 883.8h0M269.5 886.5V888.9M269.5 890.6h0M269.5 893.7V898.5M269.5 901.8V910.9M269.5 912.5h0M269.5 916.7h0M269.5 918.8h0M269.5 922.5V928.3M269.5 934.1h0M269.5 938.3V939.5M270.5 799.5h0M270.5 805.4h0M270.5 808.7h0M270.5 810.5h0M270.5 814.3h0M270.5 817.1h0M270.5 819.4h0M270.5 822.4h0M270.5 827.8h0M270.5 830.5h0M270.5 832.6V833.2M270.5 835.4V836.1M270.5 839.4h0M270.5 843.9h0M270.5 848.1V848.7M270.5 850.7h0M270.5 853.7h0M270.5 857.3h0M270.5 861.4h0M270.5 865.7V866.6M270.5 873.1V874.2M270.5 876.4h0M270.5 878.1h0M270.5 880.7V882.0M270.5 884.3h0M270.5 887.0V890.0M270.5 895.5h0M270.5 897.6V899.7M270.5 901.6V903.2M270.5 905.9V910.3M270.5 916.6h0M270.5 919.6h0M270.5 921.7h0M270.5 924.4V930.8M270.5 933.2h0M270.5 942.8h0M270.5 944.7V945.3M270.5 951.7h0M271.5 806.3h0M271.5 811.9V812.4M271.5 825.8h0M271.5 841.1h0M271.5 848.6V851.3M271.5 853.1h0M271.5 857.2h0M271.5 862.7h0M271.5 865.1V866.0M271.5 868.9h0M271.5 870.6V872.1M271.5 873.8h0M271.5 878.8V879.5M271.5 886.7V895.1M271.5 896.8h0M271.5 899.5V900.8M271.5 907.3V907.6M271.5 909.9V913.8M271.5 915.8V917.3M271.5 920.3V920.8M271.5 925.2V925.7M271.5 927.8h0M271.5 929.7h0M271.5 934.3h0M271.5 938.3h0M271.5 940.2V941.7M271.5 944.0V944.6M271.5 946.3h0M272.5 775.0h0M272.5 781.4h0M272.5 794.3h0M272.5 802.9h0M272.5 819.2h0M272.5 822.6h0M272.5 828.0V829.9M272.5 834.2h0M272.5 839.6V841.5M272.5 845.4h0M272.5 847.9h0M272.5 852.4V854.8M272.5 856.4h0M272.5 859.1V860.8M272.5 863.6h0M272.5 865.3V868.0M272.5 872.2V872.5M272.5 875.9V879.6M272.5 884.8h0M272.5 887.1V889.3M272.5 891.6V897.6M272.5 899.8V900.6M272.5 906.6V907.4M272.5 909.6h0M272.5 913.1h0M272.5 915.8h0M272.5 919.4V919.9M272.5 926.3h0M272.5 931.6h0M272.5 936.5h0M272.5 944.6h0M272.5 946.6h0M272.5 951.0V952.0M273.5 760.6h0M273.5 778.4h0M273.5 780.6V782.3M273.5 784.0V785.4M273.5 787.4V788.7M273.5 791.8h0M273.5 810.3V810.9M273.5 817.5h0M273.5 819.7h0M273.5 822.6h0M273.5 826.5h0M273.5 833.6V834.0M273.5 840.4h0M273.5 845.5V849.3M273.5 852.8V857.3M273.5 860.3V860.9M273.5 863.1h0M273.5 865.4h0M273.5 867.6h0M273.5 871.5V874.3M273.5 880.2h0M273.5 884.4h0M273.5 890.4h0M273.5 892.9h0M273.5 897.5h0M273.5 900.3V903.9M273.5 907.4h0M273.5 912.4h0M273.5 914.7V915.6M273.5 917.9h0M273.5 920.5h0M273.5 923.7h0M273.5 925.4V927.7M273.5 931.1h0M273.5 933.0h0M274.5 790.8h0M274.5 793.0h0M274.5 795.0h0M274.5 796.9h0M274.5 807.4V808.3M274.5 812.7h0M274.5 819.3V823.4M274.5 829.2V832.5M274.5 835.7h0M274.5 839.9h0M274.5 845.1V846.2M274.5 849.0V851.9M274.5 856.8h0M274.5 859.3V862.3M274.5 864.4V865.6M274.5 868.3h0M274.5 871.6V875.6M274.5 878.7h0M274.5 880.5V881.2M274.5 884.0V887.0M274.5 890.6V892.0M274.5 896.4h0M274.5 905.1h0M274.5 909.8h0M274.5 913.6h0M274.5 916.9V917.3M274.5 922.9h0M274.5 927.5h0M275.5 750.1h0M275.5 760.6h0M275.5 765.1h0M275.5 768.7h0M275.5 776.2V777.9M275.5 782.0h0M275.5 784.1h0M275.5 787.8h0M275.5 790.1V791.4M275.5 798.2V801.1M275.5 803.6V806.0M275.5 810.9h0M275.5 817.3h0M275.5 821.0h0M275.5 824.5h0M275.5 830.6h0M275.5 833.5h0M275.5 835.1V836.6M275.5 838.5V839.4M275.5 841.6V842.4M275.5 845.2V846.0M275.5 849.6V850.3M275.5 852.2h0M275.5 855.6V857.4M275.5 862.6h0M275.5 866.4h0M275.5 868.5h0M275.5 875.9h0M275.5 879.2V879.7M275.5 885.8V890.6M275.5 903.4V904.2M275.5 910.1h0M275.5 916.4h0M275.5 918.4h0M275.5 921.3V922.6M275.5 942.0h0M275.5 946.5h0M276.5 774.8h0M276.5 778.1V779.1M276.5 780.7h0M276.5 784.2V785.7M276.5 789.9h0M276.5 806.1h0M276.5 810.1V812.5M276.5 819.8V820.8M276.5 824.9h0M276.5 826.7h0M276.5 828.9h0M276.5 838.4V840.0M276.5 842.4V844.1M276.5 845.9h0M276.5 851.7h0M276.5 854.0h0M276.5 856.3h0M276.5 858.4h0M276.5 860.3V864.3M276.5 868.2h0M276.5 870.4h0M276.5 873.8V876.7M276.5 880.0V885.7M276.5 889.0V891.2M276.5 897.3h0M276.5 901.7h0M276.5 906.1h0M276.5 907.8V908.6M276.5 913.1h0M276.5 915.3V918.8M276.5 923.1V924.4M276.5 926.2V927.2M276.5 929.2h0M276.5 937.0h0M277.5 807.5h0M277.5 830.0h0M277.5 831.7h0M277.5 834.7h0M277.5 837.5V840.1M277.5 843.2h0M277.5 845.4h0M277.5 848.5h0M277.5 851.5V853.0M277.5 854.9h0M277.5 859.3V859.8M277.5 862.2V863.1M277.5 872.0h0M277.5 875.4V878.3M277.5 880.4V881.9M277.5 884.9h0M277.5 888.9h0M277.5 891.7V892.8M277.5 894.7V897.3M277.5 899.3V900.5M277.5 903.5V904.3M277.5 906.3V909.5M277.5 913.8V919.2M277.5 922.1h0M277.5 928.3h0M277.5 933.9h0M277.5 942.7h0M277.5 948.1h0M277.5 949.8h0M278.5 802.2h0M278.5 805.7h0M278.5 809.5h0M278.5 812.1h0M278.5 814.8h0M278.5 820.6h0M278.5 834.2h0M278.5 835.8h0M278.5 838.5h0M278.5 840.3h0M278.5 851.6V853.5M278.5 855.6V858.6M278.5 861.2h0M278.5 864.5h0M278.5 866.6V869.0M278.5 870.9V871.2M278.5 872.9h0M278.5 875.0h0M278.5 879.1h0M278.5 881.7h0M278.5 888.0h0M278.5 890.3V891.3M278.5 892.9V896.8M278.5 903.5V908.4M278.5 910.5V912.2M278.5 915.3V916.2M278.5 921.1V922.0M278.5 926.4h0M278.5 929.4V930.4M278.5 932.1h0M278.5 943.1h0M278.5 947.4h0M278.5 949.1V949.6M279.5 820.6h0M279.5 827.6h0M279.5 833.3V834.0M279.5 847.7h0M279.5 849.5V849.8M279.5 855.7V857.3M279.5 860.4V861.3M279.5 865.9h0M279.5 869.3V870.6M279.5 874.1V877.3M279.5 879.6h0M279.5 881.3V884.1M279.5 886.5h0M279.5 889.9V893.7M279.5 898.8V900.1M279.5 904.9V905.3M279.5 907.4h0M279.5 910.9V911.2M279.5 913.5V914.7M279.5 916.7h0M279.5 919.5V920.5M279.5 931.4V934.6M279.5 936.3h0M279.5 938.0V938.6M279.5 940.5V941.8M279.5 945.0h0M280.5 815.9h0M280.5 837.4V838.2M280.5 840.9h0M280.5 850.0V851.0M280.5 854.6h0M280.5 857.6h0M280.5 860.0h0M280.5 862.6V864.6M280.5 867.5h0M280.5 869.3h0M280.5 873.1h0M280.5 876.0V877.4M280.5 880.2h0M280.5 885.4h0M280.5 887.2V888.5M280.5 890.6V892.1M280.5 894.0V896.1M280.5 898.3V898.8M280.5 902.1h0M280.5 903.8V904.3M280.5 906.3h0M280.5 908.0V909.6M280.5 914.5V918.1M280.5 922.0h0M280.5 923.9V925.5M280.5 927.3h0M280.5 932.8h0M280.5 934.9V935.6M280.5 938.6h0M280.5 943.5h0M280.5 949.8h0M280.5 951.9V952.5M281.5 821.4h0M281.5 833.5h0M281.5 838.4V839.2M281.5 842.4h0M281.5 845.5h0M281.5 847.5h0M281.5 849.8h0M281.5 851.5V852.5M281.5 855.8h0M281.5 864.9h0M281.5 868.6h0M281.5 870.3V874.1M281.5 876.6V877.0M281.5 881.8h0M281.5 885.7V888.8M281.5 890.9V892.1M281.5 895.5V896.0M281.5 897.9h0M281.5 900.7h0M281.5 904.2h0M281.5 910.5V913.9M281.5 916.8V919.4M281.5 924.2V925.1M281.5 927.7V928.4M281.5 931.7V933.6M281.5 936.0h0M281.5 939.7h0M281.5 943.4h0M281.5 945.7h0M281.5 949.2h0M281.5 951.3h0M282.5 818.6V823.4M282.5 845.8h0M282.5 849.1h0M282.5 851.7V853.0M282.5 857.0V857.6M282.5 860.2h0M282.5 863.6V866.6M282.5 870.7V874.6M282.5 879.2V880.9M282.5 882.8V883.2M282.5 885.0h0M282.5 887.2V891.0M282.5 893.8V898.4M282.5 901.9h0M282.5 904.7h0M282.5 908.7V910.8M282.5 912.9h0M282.5 915.5h0M282.5 917.2V921.5M282.5 923.3V923.7M282.5 926.5V927.4M282.5 930.7h0M282.5 936.0h0M282.5 945.4h0M283.5 761.4h0M283.5 790.7h0M283.5 810.4h0M283.5 815.9h0M283.5 822.2h0M283.5 827.4h0M283.5 829.4h0M283.5 833.9V838.0M283.5 841.0h0M283.5 843.7h0M283.5 848.8h0M283.5 851.2V855.9M283.5 859.6V860.4M283.5 864.9V866.4M283.5 868.8h0M283.5 870.5h0M283.5 876.3V876.8M283.5 880.5V881.8M283.5 883.5h0M283.5 887.8h0M283.5 890.4h0M283.5 892.2h0M283.5 894.5V896.0M283.5 897.7V900.8M283.5 903.7V904.7M283.5 907.6V908.0M283.5 914.3V916.1M283.5 919.2V920.4M283.5 923.1V924.2M283.5 929.6h0M283.5 931.8V933.6M283.5 947.9h0M284.5 751.3h0M284.5 757.2h0M284.5 764.4h0M284.5 766.5h0M284.5 770.5h0M284.5 777.2h0M284.5 781.8h0M284.5 799.8h0M284.5 816.7h0M284.5 819.2V822.9M284.5 825.0h0M284.5 828.6h0M284.5 831.6V834.6M284.5 843.5h0M284.5 845.3V846.9M284.5 848.6V850.0M284.5 854.2V855.9M284.5 860.4V864.1M284.5 866.4h0M284.5 868.5V870.0M284.5 875.1V877.7M284.5 879.7V883.4M284.5 885.1h0M284.5 890.3V891.2M284.5 893.7V896.6M284.5 900.5V901.4M284.5 903.3h0M284.5 906.1V907.5M284.5 914.4V915.7M284.5 929.6h0M284.5 942.0V944.6M285.5 753.1h0M285.5 754.8h0M285.5 772.2V773.7M285.5 788.2h0M285.5 790.2h0M285.5 792.6V793.4M285.5 800.7h0M285.5 803.7h0M285.5 812.8V815.6M285.5 820.0V820.8M285.5 822.5h0M285.5 824.8h0M285.5 831.7h0M285.5 833.9h0M285.5 839.2V844.4M285.5 847.5h0M285.5 852.6h0M285.5 854.3h0M285.5 856.9V857.6M285.5 859.3h0M285.5 862.8V864.9M285.5 867.5V870.1M285.5 872.5h0M285.5 874.7V875.5M285.5 877.4h0M285.5 879.6h0M285.5 884.5h0M285.5 889.2h0M285.5 891.4h0M285.5 893.8V894.7M285.5 896.5h0M285.5 914.2V914.8M285.5 918.2V918.8M285.5 920.4h0M285.5 926.7V927.2M285.5 929.3h0M285.5 934.5h0M285.5 946.7h0M285.5 958.4V958.9M286.5 782.3h0M286.5 798.2h0M286.5 810.0h0M286.5 814.5V815.6M286.5 821.0V824.4M286.5 828.1h0M286.5 834.5h0M286.5 837.2h0M286.5 842.0V843.2M286.5 846.1V849.3M286.5 851.9h0M286.5 854.8h0M286.5 857.1V858.2M286.5 859.9h0M286.5 861.6V862.6M286.5 864.5V867.2M286.5 870.5h0M286.5 872.4h0M286.5 874.6V875.4M286.5 877.1V878.3M286.5 883.4h0M286.5 886.7h0M286.5 888.5V889.7M286.5 891.6h0M286.5 896.4h0M286.5 903.3h0M286.5 907.4h0M286.5 909.7V911.0M286.5 914.8V917.6M286.5 919.4h0M286.5 921.2V922.2M286.5 925.5h0M286.5 932.8h0M286.5 944.3h0M286.5 946.7h0M286.5 948.5h0M286.5 953.9h0M287.5 781.4h0M287.5 784.5V786.0M287.5 788.7h0M287.5 791.9h0M287.5 793.7h0M287.5 795.7h0M287.5 797.9h0M287.5 800.0h0M287.5 803.1h0M287.5 805.0h0M287.5 810.6h0M287.5 817.1V818.1M287.5 820.6h0M287.5 823.7h0M287.5 826.7h0M287.5 830.8h0M287.5 834.3V834.7M287.5 847.1h0M287.5 851.5h0M287.5 853.9V855.9M287.5 857.5h0M287.5 860.5V863.1M287.5 865.5h0M287.5 873.1V874.6M287.5 878.7V880.3M287.5 884.9V885.9M287.5 889.1V889.6M287.5 891.4V894.8M287.5 897.1V898.2M287.5 899.9h0M287.5 904.9h0M287.5 906.6V907.9M287.5 910.1h0M287.5 914.7h0M287.5 917.7h0M287.5 920.6V923.0M287.5 924.8h0M287.5 930.8h0M287.5 933.5h0M287.5 947.5h0M288.5 800.4h0M288.5 803.1V804.3M288.5 806.4h0M288.5 808.1V809.0M288.5 813.0h0M288.5 815.1V817.7M288.5 831.3h0M288.5 838.0V839.0M288.5 842.1h0M288.5 845.2V845.6M288.5 849.3V849.6M288.5 855.2h0M288.5 859.4h0M288.5 861.6V862.0M288.5 863.7h0M288.5 866.1V866.7M288.5 871.4V872.2M288.5 879.1V881.4M288.5 883.8V886.6M288.5 888.7V891.4M288.5 893.3V893.7M288.5 896.1h0M288.5 899.6h0M288.5 901.3h0M288.5 903.8h0M288.5 905.6V907.4M288.5 909.6V913.0M288.5 915.4h0M288.5 917.2h0M288.5 919.7h0M288.5 924.1h0M288.5 925.8h0M288.5 927.8h0M288.5 929.7h0M288.5 931.7h0M288.5 933.9h0M288.5 936.8V937.7M288.5 943.2h0M288.5 945.2h0M288.5 953.3h0M289.5 831.0h0M289.5 838.4h0M289.5 843.4h0M289.5 848.6V849.9M289.5 851.6h0M289.5 855.0h0M289.5 857.8h0M289.5 861.1h0M289.5 865.3h0M289.5 873.2V874.9M289.5 877.2V880.9M289.5 882.6V887.1M289.5 890.1h0M289.5 892.2h0M289.5 896.1V896.6M289.5 901.2V902.6M289.5 906.2V906.8M289.5 910.1V911.4M289.5 913.1V913.9M289.5 916.9V917.8M289.5 920.2h0M289.5 922.2h0M289.5 925.4h0M289.5 927.6h0M289.5 929.8V930.2M289.5 932.2h0M289.5 934.1V937.1M289.5 940.9h0M289.5 946.9V951.4M290.5 823.1h0M290.5 824.7h0M290.5 830.3h0M290.5 834.6h0M290.5 836.3h0M290.5 847.6V849.2M290.5 850.9V851.5M290.5 858.7V861.1M290.5 863.7V865.2M290.5 868.1V872.2M290.5 875.0V875.7M290.5 879.3h0M290.5 881.6V886.5M290.5 890.7V896.1M290.5 898.4V902.6M290.5 906.1V906.9M290.5 918.2h0M290.5 920.1h0M290.5 922.5h0M290.5 926.2h0M290.5 928.2V929.2M290.5 933.6V934.6M290.5 937.2V938.5M290.5 942.9h0M291.5 800.8h0M291.5 802.7h0M291.5 805.0h0M291.5 807.1h0M291.5 809.4h0M291.5 811.2h0M291.5 819.3h0M291.5 835.0h0M291.5 841.8h0M291.5 846.8V850.1M291.5 852.3h0M291.5 853.9V854.3M291.5 859.3V861.8M291.5 865.2V868.5M291.5 873.3h0M291.5 876.5h0M291.5 879.0V879.8M291.5 881.6V882.9M291.5 884.5V888.7M291.5 893.2V898.8M291.5 900.8h0M291.5 903.6h0M291.5 905.2h0M291.5 908.9V911.7M291.5 914.1h0M291.5 917.1h0M291.5 925.4h0M291.5 931.5h0M291.5 936.2h0M291.5 939.0h0M292.5 804.8h0M292.5 820.6h0M292.5 824.4h0M292.5 828.3h0M292.5 834.1h0M292.5 836.3V836.6M292.5 838.4V840.6M292.5 848.4V849.2M292.5 851.2h0M292.5 853.7h0M292.5 856.9h0M292.5 858.7V859.5M292.5 865.4V866.6M292.5 868.4h0M292.5 870.9V877.0M292.5 881.3h0M292.5 885.0V886.4M292.5 888.3h0M292.5 891.3h0M292.5 893.2V894.9M292.5 896.7h0M292.5 898.8V903.0M292.5 905.2h0M292.5 907.4V908.9M292.5 914.9h0M292.5 917.3h0M292.5 922.1V923.6M292.5 925.4h0M292.5 927.9h0M292.5 930.5h0M292.5 933.1h0M293.5 779.2h0M293.5 781.4h0M293.5 796.2h0M293.5 808.9V809.5M293.5 824.6h0M293.5 827.2h0M293.5 833.5h0M293.5 835.3h0M293.5 842.8V845.1M293.5 847.1h0M293.5 850.7h0M293.5 853.0h0M293.5 855.2h0M293.5 859.0h0M293.5 863.4V865.7M293.5 867.7V870.6M293.5 874.3V876.2M293.5 879.3h0M293.5 881.3h0M293.5 883.9V885.0M293.5 887.1V891.1M293.5 892.7V893.9M293.5 897.7h0M293.5 901.6h0M293.5 903.4V905.3M293.5 908.6h0M293.5 917.1V917.8M293.5 922.9h0M293.5 924.7V925.0M293.5 927.1V928.1M293.5 932.6h0M293.5 938.3h0M294.5 776.0h0M294.5 782.0h0M294.5 794.2V796.6M294.5 802.3V802.7M294.5 811.8h0M294.5 814.9h0M294.5 820.4V822.9M294.5 829.8h0M294.5 836.3h0M294.5 839.0h0M294.5 844.9V846.7M294.5 848.8V849.9M294.5 855.6V857.1M294.5 860.1V862.4M294.5 866.9V871.4M294.5 876.6h0M294.5 878.3V882.6M294.5 884.5V885.5M294.5 895.0h0M294.5 897.2V898.4M294.5 904.8V906.2M294.5 910.0h0M294.5 912.1V913.4M294.5 915.6V916.3M294.5 918.6h0M294.5 921.8h0M294.5 923.5h0M294.5 928.2h0M294.5 937.8V940.0M295.5 766.5h0M295.5 787.6h0M295.5 793.4h0M295.5 806.5h0M295.5 810.2V812.6M295.5 814.9h0M295.5 819.2h0M295.5 824.1h0M295.5 828.9h0M295.5 831.7V834.0M295.5 836.0V836.9M295.5 840.1h0M295.5 843.8V845.3M295.5 854.2V855.1M295.5 856.8V857.4M295.5 860.5h0M295.5 863.5V864.1M295.5 865.8h0M295.5 870.7h0M295.5 872.4V874.1M295.5 876.9V882.0M295.5 885.5V888.5M295.5 892.7h0M295.5 895.0V895.4M295.5 898.9V901.2M295.5 905.9V906.5M295.5 914.9h0M295.5 921.5h0M295.5 925.4V926.0M295.5 933.5h0M295.5 942.6h0M296.5 774.4h0M296.5 779.2h0M296.5 795.5h0M296.5 799.2V800.0M296.5 803.2h0M296.5 807.5V808.8M296.5 812.0h0M296.5 814.4V815.8M296.5 820.1V824.2M296.5 830.7h0M296.5 833.7V838.4M296.5 840.7V843.8M296.5 845.6V846.2M296.5 850.1h0M296.5 852.1h0M296.5 862.2h0M296.5 864.5V868.0M296.5 871.9h0M296.5 877.0V878.6M296.5 880.3V880.7M296.5 884.3V885.4M296.5 893.7h0M296.5 901.9V903.5M296.5 906.0h0M296.5 912.0h0M296.5 913.7h0M296.5 915.8h0M296.5 918.6h0M296.5 925.0h0M296.5 936.3h0M296.5 943.4V944.4M296.5 953.1h0M297.5 810.0h0M297.5 813.5V814.4M297.5 817.7h0M297.5 821.9V823.8M297.5 826.3V827.8M297.5 829.5h0M297.5 831.3h0M297.5 833.8V834.1M297.5 838.0V841.6M297.5 843.6h0M297.5 847.9h0M297.5 849.6V849.9M297.5 851.7V852.3M297.5 854.3V859.6M297.5 867.0V870.1M297.5 873.1h0M297.5 875.3h0M297.5 877.7V880.0M297.5 883.1h0M297.5 889.5h0M297.5 891.7h0M297.5 894.3h0M297.5 896.5h0M297.5 901.6h0M297.5 921.0h0M297.5 927.1h0M297.5 932.9h0M297.5 936.5h0M298.5 770.0h0M298.5 777.2h0M298.5 792.8h0M298.5 815.0V816.3M298.5 823.8h0M298.5 834.4V834.8M298.5 837.7h0M298.5 841.1V842.1M298.5 844.2h0M298.5 846.6V849.0M298.5 854.4h0M298.5 857.2V859.5M298.5 861.9V866.0M298.5 876.8V881.5M298.5 886.4V888.5M298.5 893.8V896.4M298.5 898.4h0M298.5 900.2V900.6M298.5 903.0h0M298.5 907.6h0M298.5 909.5h0M298.5 911.5V912.7M298.5 919.6V920.1M298.5 923.2h0M298.5 925.6V926.6M298.5 935.2h0M298.5 938.4h0M298.5 940.6h0M298.5 943.8h0M299.5 788.0h0M299.5 790.1h0M299.5 794.6V797.5M299.5 801.9h0M299.5 806.5h0M299.5 810.9h0M299.5 824.8h0M299.5 842.6V843.8M299.5 846.3h0M299.5 848.4V849.8M299.5 853.5V854.5M299.5 856.6V857.8M299.5 861.6h0M299.5 864.1V864.5M299.5 868.8h0M299.5 874.7h0M299.5 876.7V878.7M299.5 880.6h0M299.5 885.0h0M299.5 886.9h0M299.5 890.1h0M299.5 891.7V893.9M299.5 896.3V899.2M299.5 901.3h0M299.5 904.0V904.5M299.5 908.4V910.2M299.5 912.0h0M299.5 916.6h0M299.5 918.6V919.6M299.5 921.6h0M299.5 927.3h0M299.5 929.3V930.1M299.5 933.6h0M299.5 936.4V937.5M299.5 939.2V940.4M300.5 780.3h0M300.5 782.3h0M300.5 798.5h0M300.5 803.3h0M300.5 806.0h0M300.5 809.5V810.4M300.5 813.0h0M300.5 819.3h0M300.5 822.4h0M300.5 828.0h0M300.5 833.9h0M300.5 835.8V836.2M300.5 841.9h0M300.5 847.5V849.9M300.5 855.7h0M300.5 858.3V859.4M300.5 861.5V862.3M300.5 866.6h0M300.5 868.8h0M300.5 872.7h0M300.5 875.2V875.6M300.5 881.5V882.2M300.5 884.6V886.4M300.5 888.3V888.8M300.5 891.4h0M300.5 893.4h0M300.5 896.8h0M300.5 901.2V901.5M300.5 903.4V903.9M300.5 908.5h0M300.5 910.2h0M300.5 912.3V913.6M300.5 916.1h0M300.5 917.8V918.4M300.5 922.5h0M300.5 927.1V927.4M300.5 929.5h0M300.5 932.9h0M300.5 935.0h0M300.5 939.3h0M300.5 945.7h0M300.5 951.6h0M301.5 792.2h0M301.5 801.7h0M301.5 814.7h0M301.5 816.7h0M301.5 819.3h0M301.5 822.6h0M301.5 827.0h0M301.5 831.1h0M301.5 833.8V835.7M301.5 842.1V843.7M301.5 847.8h0M301.5 849.9V851.6M301.5 853.2V855.3M301.5 858.0h0M301.5 861.9V864.1M301.5 866.9V868.5M301.5 870.3V871.3M301.5 876.2h0M301.5 879.0V882.6M301.5 884.5V885.5M301.5 891.8V894.8M301.5 901.6V904.5M301.5 908.0h0M301.5 911.7h0M301.5 915.1V916.5M301.5 919.0h0M301.5 921.5h0M301.5 928.2h0M301.5 933.2h0M301.5 934.8h0M301.5 938.6h0M301.5 949.8h0M301.5 951.5h0M302.5 819.7h0M302.5 841.4h0M302.5 844.5V848.4M302.5 851.4h0M302.5 853.7V857.1M302.5 865.8h0M302.5 867.5h0M302.5 869.1V869.8M302.5 873.9V874.9M302.5 878.1h0M302.5 881.8V883.3M302.5 885.2h0M302.5 887.3V888.6M302.5 891.5V892.0M302.5 894.7V895.7M302.5 897.4V899.4M302.5 903.3V905.8M302.5 908.0h0M302.5 909.9V911.4M302.5 914.0h0M302.5 917.6h0M302.5 922.4h0M302.5 924.7V926.3M302.5 929.9V931.2M302.5 933.3h0M302.5 936.5V938.3M302.5 941.3h0M302.5 943.7h0M302.5 947.0V948.1M303.5 838.8h0M303.5 840.5V841.4M303.5 848.4V848.8M303.5 857.1h0M303.5 859.6h0M303.5 867.9h0M303.5 872.8h0M303.5 877.3h0M303.5 880.4h0M303.5 882.5V884.6M303.5 886.9h0M303.5 888.8h0M303.5 892.1h0M303.5 895.3h0M303.5 898.3V900.1M303.5 901.9V913.3M303.5 915.5V920.8M303.5 923.2V924.0M303.5 925.8V927.5M303.5 930.1h0M303.5 932.0V932.5M303.5 939.2h0M303.5 944.1V945.2M303.5 948.7V950.2M304.5 831.3h0M304.5 851.0h0M304.5 855.5V857.7M304.5 859.6h0M304.5 863.8h0M304.5 868.0h0M304.5 872.4V873.0M304.5 875.8V876.2M304.5 878.9V881.9M304.5 887.0h0M304.5 889.3h0M304.5 891.8V900.0M304.5 902.6h0M304.5 907.3V908.5M304.5 914.6V916.1M304.5 921.6V924.6M304.5 927.1h0M304.5 929.0h0M304.5 932.5h0M304.5 940.1V946.1M304.5 950.1V951.6M305.5 803.2h0M305.5 819.8h0M305.5 832.2V832.9M305.5 842.7h0M305.5 847.6V848.4M305.5 852.7V854.6M305.5 858.0h0M305.5 860.2h0M305.5 862.1h0M305.5 866.9h0M305.5 869.5V870.8M305.5 874.7V876.1M305.5 881.0h0M305.5 883.1V887.2M305.5 891.8h0M305.5 896.4h0M305.5 902.1V903.2M305.5 905.0V906.1M305.5 907.8V909.1M305.5 912.2h0M305.5 915.3V917.4M305.5 919.5V920.1M305.5 923.0V926.2M305.5 932.2V933.1M305.5 935.3h0M305.5 937.8h0M305.5 946.2h0M305.5 952.0V952.6M306.5 798.4h0M306.5 806.3h0M306.5 814.4h0M306.5 818.4h0M306.5 821.2h0M306.5 823.0h0M306.5 826.0h0M306.5 829.5h0M306.5 834.4h0M306.5 839.0V842.8M306.5 847.5h0M306.5 851.0V854.3M306.5 856.6V859.7M306.5 870.4h0M306.5 874.6h0M306.5 877.8V881.7M306.5 887.0V887.4M306.5 891.6h0M306.5 895.8h0M306.5 899.0h0M306.5 901.5h0M306.5 906.9V907.7M306.5 909.7h0M306.5 912.2h0M306.5 914.3V917.2M306.5 925.9h0M306.5 932.3h0M306.5 936.6h0M306.5 938.9h0M306.5 946.7h0M306.5 951.1h0M306.5 956.4h0M307.5 783.2h0M307.5 796.7h0M307.5 798.5h0M307.5 808.6V810.1M307.5 814.1V815.1M307.5 818.2h0M307.5 820.8V821.3M307.5 823.7h0M307.5 827.4h0M307.5 831.1h0M307.5 841.4V842.2M307.5 845.4h0M307.5 847.9h0M307.5 851.3V852.2M307.5 859.3V859.8M307.5 864.0V865.1M307.5 866.9V867.8M307.5 874.0h0M307.5 876.0h0M307.5 878.3V880.3M307.5 883.3V884.0M307.5 886.1V887.4M307.5 889.6V891.2M307.5 894.1h0M307.5 903.2V903.7M307.5 905.6h0M307.5 911.8h0M307.5 913.8V917.0M307.5 918.6V919.3M307.5 921.5V922.8M307.5 924.9h0M307.5 928.4V929.1M307.5 931.4h0M307.5 937.0V937.4M307.5 939.8h0M307.5 942.0h0M308.5 785.9V786.9M308.5 796.3h0M308.5 801.3h0M308.5 809.2h0M308.5 813.7h0M308.5 819.6h0M308.5 822.2h0M308.5 827.9h0M308.5 829.5h0M308.5 832.3h0M308.5 835.0h0M308.5 837.7h0M308.5 841.8V843.9M308.5 846.2V847.3M308.5 849.4h0M308.5 852.0V853.7M308.5 857.4h0M308.5 860.2V860.9M308.5 864.0h0M308.5 868.4V872.2M308.5 878.2h0M308.5 880.6h0M308.5 882.9V883.7M308.5 887.3V888.4M308.5 890.5V894.3M308.5 898.1h0M308.5 900.1h0M308.5 902.9V903.8M308.5 916.9h0M308.5 920.5h0M308.5 923.7h0M308.5 927.6V928.5M308.5 930.2V931.6M308.5 936.1h0M308.5 939.5h0M308.5 942.0h0M308.5 948.9h0M309.5 774.8h0M309.5 782.0h0M309.5 792.2h0M309.5 804.7h0M309.5 819.2h0M309.5 825.4V826.1M309.5 828.4h0M309.5 830.1h0M309.5 838.3V839.0M309.5 842.9V843.4M309.5 846.1h0M309.5 848.2V850.7M309.5 855.4V857.7M309.5 862.4V864.9M309.5 867.1h0M309.5 868.9h0M309.5 871.4h0M309.5 874.1h0M309.5 877.1h0M309.5 879.9h0M309.5 883.1V883.9M309.5 887.2h0M309.5 889.1V890.2M309.5 900.4h0M309.5 903.8V906.2M309.5 910.3V912.4M309.5 914.2h0M309.5 916.5V917.3M309.5 920.3V922.6M309.5 924.4h0M309.5 927.0V927.5M309.5 931.9h0M309.5 934.9h0M309.5 947.9h0M310.5 783.4h0M310.5 796.1h0M310.5 805.5h0M310.5 811.9h0M310.5 819.8h0M310.5 823.0V823.6M310.5 826.2h0M310.5 829.7V830.1M310.5 839.5h0M310.5 842.5h0M310.5 845.2h0M310.5 848.3V849.6M310.5 852.2V856.0M310.5 859.8h0M310.5 866.8V868.1M310.5 870.3V872.2M310.5 876.9V877.3M310.5 879.2V879.8M310.5 884.0h0M310.5 887.2h0M310.5 890.3V891.1M310.5 893.6h0M310.5 897.5V898.2M310.5 905.9V906.2M310.5 908.4V910.0M310.5 913.2h0M310.5 915.2h0M310.5 926.7V928.0M310.5 933.9V935.1M310.5 937.2V937.9M310.5 940.8h0M310.5 949.6h0M310.5 955.3h0M310.5 958.1h0M311.5 795.5h0M311.5 803.3V804.2M311.5 808.1h0M311.5 817.8h0M311.5 821.8h0M311.5 824.8h0M311.5 829.5V829.9M311.5 831.9V836.1M311.5 838.1V839.5M311.5 841.9h0M311.5 846.7h0M311.5 849.8V852.5M311.5 858.5V859.4M311.5 862.0h0M311.5 866.7h0M311.5 868.7h0M311.5 881.1h0M311.5 883.4V884.1M311.5 886.4V890.8M311.5 892.7h0M311.5 895.1h0M311.5 897.8V898.7M311.5 904.1V904.9M311.5 908.6V909.8M311.5 911.6h0M311.5 915.4h0M311.5 917.4V921.3M311.5 924.7V925.2M311.5 928.8h0M311.5 931.6h0M311.5 935.4V936.8M311.5 938.7h0M312.5 798.0h0M312.5 805.1h0M312.5 810.5V812.8M312.5 815.1V816.6M312.5 820.4V821.9M312.5 826.2h0M312.5 832.2V833.7M312.5 835.7h0M312.5 841.4V842.0M312.5 844.1h0M312.5 846.6V847.1M312.5 849.1V850.1M312.5 851.8h0M312.5 853.4h0M312.5 855.7h0M312.5 866.1h0M312.5 869.1V872.8M312.5 888.1h0M312.5 890.1h0M312.5 891.9V893.8M312.5 896.9V897.6M312.5 901.2h0M312.5 902.9h0M312.5 906.2V907.9M312.5 910.5V912.9M312.5 916.1V917.6M312.5 922.1V925.3M312.5 927.9h0M312.5 930.0V931.3M312.5 934.1h0M312.5 936.2h0M312.5 941.1h0M312.5 943.3h0M312.5 946.3V946.9M313.5 774.1h0M313.5 776.6h0M313.5 794.2h0M313.5 796.0h0M313.5 808.2h0M313.5 818.8V819.2M313.5 829.5h0M313.5 832.9V835.3M313.5 839.8h0M313.5 843.4h0M313.5 846.0h0M313.5 848.9h0M313.5 852.0V852.6M313.5 854.5h0M313.5 857.5h0M313.5 859.1V861.1M313.5 862.7V867.2M313.5 868.8V870.1M313.5 872.1V872.4M313.5 874.8h0M313.5 877.9V878.7M313.5 883.5V883.8M313.5 885.4h0M313.5 887.7h0M313.5 890.3V890.8M313.5 892.9V894.6M313.5 901.8h0M313.5 904.4h0M313.5 906.3h0M313.5 908.0V910.2M313.5 911.9h0M313.5 920.8V921.7M313.5 923.4h0M313.5 926.3h0M313.5 930.2h0M313.5 938.1h0M313.5 941.0h0M314.5 788.4h0M314.5 790.2h0M314.5 794.9h0M314.5 815.4V818.4M314.5 825.0V826.9M314.5 832.3h0M314.5 834.1h0M314.5 838.0V839.0M314.5 846.2h0M314.5 848.6V849.5M314.5 855.2V860.6M314.5 864.2V866.4M314.5 871.5h0M314.5 876.5h0M314.5 878.8h0M314.5 882.1V882.8M314.5 885.5h0M314.5 887.3V888.7M314.5 891.2h0M314.5 894.7V898.0M314.5 903.0V903.8M314.5 915.2V915.6M314.5 920.2h0M314.5 922.9h0M314.5 933.5V935.7M314.5 938.1h0M314.5 940.3h0M314.5 948.8V949.5M314.5 960.7h0M315.5 793.2h0M315.5 798.5h0M315.5 801.9h0M315.5 805.4h0M315.5 818.1h0M315.5 824.6h0M315.5 836.0V836.3M315.5 838.9h0M315.5 840.9V844.7M315.5 848.4h0M315.5 851.2V853.5M315.5 858.7h0M315.5 863.6V867.5M315.5 870.9V876.6M315.5 881.2h0M315.5 883.7h0M315.5 885.4V885.9M315.5 889.3V890.0M315.5 893.4V897.2M315.5 900.5V901.9M315.5 911.3h0M315.5 917.2V917.5M315.5 919.6h0M315.5 921.8V922.6M315.5 925.3h0M315.5 927.5V929.0M315.5 931.1h0M315.5 936.2h0M315.5 956.1h0M316.5 812.6h0M316.5 814.6V815.7M316.5 821.2V821.8M316.5 830.7h0M316.5 840.9h0M316.5 843.1h0M316.5 847.8h0M316.5 849.5h0M316.5 852.6h0M316.5 856.7h0M316.5 859.4h0M316.5 861.2V864.6M316.5 868.5h0M316.5 870.3V872.8M316.5 877.8V878.7M316.5 882.2V885.6M316.5 887.6V888.5M316.5 890.5h0M316.5 892.7V895.6M316.5 899.2h0M316.5 904.5h0M316.5 909.5V910.9M316.5 913.1h0M316.5 915.2V916.4M316.5 922.1V924.0M316.5 927.2h0M316.5 929.5h0M316.5 935.2h0M316.5 940.8V943.9M316.5 947.4h0M316.5 950.4h0M316.5 956.9h0M317.5 813.6h0M317.5 817.0V819.3M317.5 828.3h0M317.5 830.0h0M317.5 837.5h0M317.5 840.6h0M317.5 844.6h0M317.5 847.7h0M317.5 855.4V859.4M317.5 861.4h0M317.5 866.2V867.7M317.5 872.1h0M317.5 873.9h0M317.5 876.8h0M317.5 878.6V881.8M317.5 884.3V887.6M317.5 889.6h0M317.5 891.5V892.3M317.5 894.2V895.8M317.5 897.4V901.7M317.5 904.0h0M317.5 905.8h0M317.5 908.3V910.9M317.5 914.3V915.4M317.5 918.3h0M317.5 919.9h0M317.5 921.5h0M317.5 925.4V927.1M317.5 929.4V930.6M317.5 932.7V933.6M317.5 936.3h0M317.5 937.9h0M317.5 947.9h0M318.5 799.4h0M318.5 813.6h0M318.5 819.4h0M318.5 826.1V829.1M318.5 830.7V832.3M318.5 843.5h0M318.5 853.8h0M318.5 857.0h0M318.5 859.5V862.7M318.5 864.4V866.9M318.5 870.3V871.0M318.5 873.1V875.0M318.5 887.1h0M318.5 891.6V894.1M318.5 897.4V898.7M318.5 902.6V904.0M318.5 906.4V906.7M318.5 910.7h0M318.5 912.4V914.7M318.5 916.4V916.8M318.5 920.5V921.2M318.5 926.6V927.2M318.5 930.8V935.5M318.5 941.0h0M318.5 946.5V948.6M318.5 952.0V953.4M318.5 958.0h0M319.5 806.1h0M319.5 810.0h0M319.5 812.0h0M319.5 815.8h0M319.5 817.7h0M319.5 819.5h0M319.5 825.0h0M319.5 829.2V830.4M319.5 832.4h0M319.5 834.6h0M319.5 836.6h0M319.5 843.2V844.6M319.5 847.2h0M319.5 850.1V850.9M319.5 854.0h0M319.5 855.8h0M319.5 857.7V859.1M319.5 861.0V862.8M319.5 865.9V867.4M319.5 870.8h0M319.5 872.7V873.9M319.5 878.3V879.8M319.5 883.3V884.6M319.5 886.3h0M319.5 890.5h0M319.5 893.0h0M319.5 898.6h0M319.5 901.9V903.3M319.5 907.7V908.9M319.5 912.3V913.0M319.5 915.7V917.9M319.5 924.9h0M319.5 928.6h0M319.5 935.2V936.5M319.5 940.6h0M319.5 949.4h0M320.5 769.1h0M320.5 776.3h0M320.5 779.7h0M320.5 786.7h0M320.5 804.3h0M320.5 810.4h0M320.5 813.9h0M320.5 818.9V819.7M320.5 821.9h0M320.5 824.4h0M320.5 827.2V830.0M320.5 842.3V843.9M320.5 846.7h0M320.5 850.4V852.8M320.5 856.8V858.1M320.5 861.3h0M320.5 864.6V868.1M320.5 870.3h0M320.5 875.0h0M320.5 877.7h0M320.5 881.3V882.7M320.5 898.9V900.3M320.5 904.7V906.6M320.5 911.4V911.8M320.5 915.7V916.9M320.5 918.6h0M320.5 920.9h0M320.5 922.5V923.5M320.5 926.0h0M320.5 946.2h0M321.5 790.3h0M321.5 793.1h0M321.5 798.8h0M321.5 810.8V812.4M321.5 815.1h0M321.5 821.4h0M321.5 824.6h0M321.5 826.5h0M321.5 833.5V833.9M321.5 836.9V837.4M321.5 839.9h0M321.5 841.9h0M321.5 843.7V844.5M321.5 846.7h0M321.5 848.5V850.4M321.5 854.7V857.6M321.5 859.7V860.4M321.5 863.2h0M321.5 865.2V866.3M321.5 869.7h0M321.5 874.6h0M321.5 877.2h0M321.5 880.3V882.4M321.5 887.6V888.8M321.5 894.4V895.2M321.5 897.6V900.1M321.5 902.2V903.7M321.5 906.2V906.6M321.5 908.6V909.6M321.5 919.2h0M321.5 935.4h0M321.5 937.7V938.3M321.5 941.3h0M321.5 943.2h0M321.5 948.1h0M321.5 960.4h0M322.5 784.0h0M322.5 797.2V798.5M322.5 801.0h0M322.5 804.7h0M322.5 810.2h0M322.5 819.7h0M322.5 822.9V824.7M322.5 829.0h0M322.5 835.6V836.8M322.5 840.1V841.6M322.5 843.7V844.5M322.5 848.2V848.7M322.5 853.3h0M322.5 858.7h0M322.5 861.9h0M322.5 865.4h0M322.5 867.8V869.4M322.5 872.8h0M322.5 875.5V876.2M322.5 878.2V879.7M322.5 886.0h0M322.5 890.0V890.5M322.5 895.6h0M322.5 900.4V901.9M322.5 903.9h0M322.5 908.8V909.5M322.5 912.1V915.1M322.5 919.9h0M322.5 924.3h0M322.5 929.4h0M322.5 933.9h0M322.5 937.6h0M322.5 939.6h0M322.5 945.8V947.9M322.5 953.0h0M322.5 954.8h0M322.5 956.9h0M322.5 959.8h0M323.5 783.8h0M323.5 787.6h0M323.5 801.3h0M323.5 802.9h0M323.5 804.8h0M323.5 808.6h0M323.5 831.4h0M323.5 835.7h0M323.5 841.9V842.6M323.5 848.4V849.2M323.5 851.1V852.1M323.5 856.9V858.6M323.5 862.6V864.4M323.5 868.8V869.9M323.5 872.9h0M323.5 877.5V879.1M323.5 881.1h0M323.5 886.2h0M323.5 896.5V897.1M323.5 899.3h0M323.5 903.0h0M323.5 908.2V909.1M323.5 910.8V912.1M323.5 914.1h0M323.5 915.8V921.3M323.5 923.1h0M323.5 925.8V926.3M323.5 929.0h0M323.5 931.1h0M323.5 935.6V937.1M323.5 939.1h0M323.5 942.7h0M323.5 948.0h0M323.5 953.6h0M323.5 958.1h0M324.5 820.8h0M324.5 825.7h0M324.5 843.1V844.0M324.5 847.8h0M324.5 858.5V859.5M324.5 861.6h0M324.5 863.9V869.6M324.5 872.3V873.0M324.5 875.1V877.4M324.5 879.8h0M324.5 882.5V883.0M324.5 884.8V885.9M324.5 888.2V889.9M324.5 892.6V894.5M324.5 897.8V898.6M324.5 901.2h0M324.5 902.9V904.3M324.5 907.0h0M324.5 909.2V913.2M324.5 918.0h0M324.5 921.3V922.5M324.5 925.7V926.6M324.5 930.0V930.5M324.5 932.8V934.1M324.5 936.2h0M324.5 944.8h0M324.5 954.6h0M324.5 956.5h0M324.5 960.5h0M324.5 962.7h0M325.5 817.5h0M325.5 828.4h0M325.5 838.3h0M325.5 845.1V846.8M325.5 852.6h0M325.5 862.0h0M325.5 867.7V869.8M325.5 872.8V877.2M325.5 879.8V881.0M325.5 884.8V887.3M325.5 894.5V894.9M325.5 896.5V900.4M325.5 902.3h0M325.5 904.0V908.4M325.5 913.1V915.4M325.5 919.4V920.8M325.5 924.8V926.7M325.5 928.8h0M325.5 930.5h0M325.5 935.6V936.2M325.5 941.5V942.6M325.5 948.9h0M325.5 960.1h0M325.5 962.4h0M326.5 839.2h0M326.5 842.0h0M326.5 862.5h0M326.5 867.0h0M326.5 878.0V879.5M326.5 881.1V886.2M326.5 888.2h0M326.5 890.2V890.5M326.5 893.2h0M326.5 895.2V895.6M326.5 897.6h0M326.5 900.8h0M326.5 902.7V910.7M326.5 912.6h0M326.5 914.8V917.6M326.5 923.8h0M326.5 926.4V928.0M326.5 931.9h0M326.5 936.2h0M326.5 938.2V939.0M326.5 941.2V943.0M326.5 945.3V948.2M326.5 953.7h0M326.5 958.9V960.0M326.5 962.8V964.1M327.5 858.8h0M327.5 872.8V873.3M327.5 875.4V876.2M327.5 878.2h0M327.5 880.8V881.9M327.5 884.5h0M327.5 886.9V888.6M327.5 892.0V902.0M327.5 903.7V906.4M327.5 909.4V910.3M327.5 912.5V917.3M327.5 922.5V925.1M327.5 928.7V929.4M327.5 934.0V935.2M327.5 939.0V939.7M327.5 942.3V945.2M327.5 947.1V948.3M327.5 950.2h0M327.5 961.0h0M328.5 827.9h0M328.5 829.7h0M328.5 831.4h0M328.5 834.3h0M328.5 838.8h0M328.5 846.9h0M328.5 854.5h0M328.5 856.3h0M328.5 862.5V864.0M328.5 866.2h0M328.5 869.4h0M328.5 872.3h0M328.5 874.3h0M328.5 878.0V880.0M328.5 885.4V888.3M328.5 891.2h0M328.5 894.1V894.7M328.5 896.4V897.0M328.5 899.3V901.1M328.5 902.8V904.4M328.5 909.6h0M328.5 912.1V914.8M328.5 918.4V920.3M328.5 924.2V926.2M328.5 930.2V931.6M328.5 933.2V934.8M328.5 939.4h0M328.5 945.0h0M328.5 947.1h0M328.5 952.9h0M328.5 956.4h0M328.5 960.0h0M328.5 963.6h0M329.5 830.8h0M329.5 834.5h0M329.5 842.8V843.8M329.5 846.9h0M329.5 854.9h0M329.5 859.0V859.7M329.5 861.9V862.9M329.5 868.0V870.7M329.5 873.8h0M329.5 875.6h0M329.5 877.3V877.8M329.5 880.1V883.9M329.5 885.6V889.4M329.5 891.8V894.7M329.5 896.5V899.1M329.5 901.1h0M329.5 908.5V909.7M329.5 912.0h0M329.5 913.9V915.4M329.5 920.5h0M329.5 922.7h0M329.5 925.6V928.5M329.5 931.7h0M329.5 937.0V940.4M329.5 942.0h0M329.5 953.2V953.5M329.5 956.5V957.6M330.5 806.3h0M330.5 818.5V819.6M330.5 823.0V824.5M330.5 827.4V828.4M330.5 848.7h0M330.5 857.1h0M330.5 859.2V860.7M330.5 867.9V869.1M330.5 871.0V871.6M330.5 876.2h0M330.5 879.1V883.4M330.5 889.5h0M330.5 893.5V894.3M330.5 896.9V898.4M330.5 900.2V907.6M330.5 909.4h0M330.5 911.5V914.1M330.5 918.0V918.7M330.5 923.4h0M330.5 926.8V927.9M330.5 931.2h0M330.5 937.0V937.8M330.5 949.4h0M330.5 951.5h0M330.5 964.3h0M331.5 847.2V849.2M331.5 855.8V856.7M331.5 859.8V860.1M331.5 868.3V869.8M331.5 871.8V874.1M331.5 879.1V882.0M331.5 884.2V886.8M331.5 888.4h0M331.5 890.8V891.7M331.5 894.1V895.5M331.5 897.4h0M331.5 899.5h0M331.5 902.7V903.4M331.5 906.8V908.1M331.5 912.8h0M331.5 919.6h0M331.5 921.2h0M331.5 924.3V925.8M331.5 930.6V931.3M331.5 932.9h0M331.5 935.6V943.3M331.5 947.8h0M331.5 951.1h0M331.5 957.5h0M332.5 815.1h0M332.5 824.5h0M332.5 826.4h0M332.5 830.4h0M332.5 847.2V848.3M332.5 851.9h0M332.5 856.0h0M332.5 868.1V869.0M332.5 872.5h0M332.5 874.3V877.9M332.5 881.4V882.8M332.5 885.2V886.4M332.5 890.6h0M332.5 894.1V895.5M332.5 897.5V900.9M332.5 903.3V907.1M332.5 908.8h0M332.5 910.5V911.0M332.5 913.6V915.8M332.5 921.3V922.0M332.5 924.8V926.1M332.5 929.0h0M332.5 931.7h0M332.5 934.0h0M332.5 941.2V943.5M332.5 951.0h0M332.5 952.7V953.0M332.5 957.4V958.0M332.5 965.9h0M333.5 813.5h0M333.5 817.8V818.3M333.5 822.2h0M333.5 829.0h0M333.5 831.6V834.3M333.5 836.8V838.3M333.5 848.4h0M333.5 860.9V862.0M333.5 864.0V867.5M333.5 870.0V875.3M333.5 877.2h0M333.5 879.2V879.8M333.5 883.0V887.4M333.5 889.2h0M333.5 892.8h0M333.5 902.9V906.7M333.5 909.2h0M333.5 912.4h0M333.5 914.3h0M333.5 918.6V920.1M333.5 927.6V927.9M333.5 930.2h0M333.5 932.0h0M333.5 934.0h0M333.5 941.2h0M333.5 947.2V948.2M333.5 949.9h0M333.5 961.9h0M334.5 799.6h0M334.5 806.2h0M334.5 807.8h0M334.5 810.8V811.7M334.5 813.5h0M334.5 815.3V815.7M334.5 818.7h0M334.5 826.6h0M334.5 847.1h0M334.5 848.8V850.1M334.5 854.2V858.3M334.5 864.6h0M334.5 868.3V868.7M334.5 870.5h0M334.5 873.3V874.2M334.5 878.1V880.3M334.5 883.1h0M334.5 886.4V888.7M334.5 891.2V892.3M334.5 894.2V895.6M334.5 898.3V900.0M334.5 902.6h0M334.5 907.2h0M334.5 910.3V910.7M334.5 916.4V916.7M334.5 919.9h0M334.5 922.2h0M334.5 925.8V926.3M334.5 934.9V935.9M334.5 939.3h0M334.5 940.9h0M334.5 943.0h0M334.5 947.8h0M334.5 954.2h0M334.5 957.9h0M335.5 822.2V822.7M335.5 829.6h0M335.5 837.8h0M335.5 843.7h0M335.5 848.1V849.3M335.5 856.0h0M335.5 857.7h0M335.5 865.9V868.2M335.5 871.2h0M335.5 873.4h0M335.5 878.9V879.7M335.5 882.6h0M335.5 885.1h0M335.5 887.8V888.6M335.5 891.6V893.0M335.5 895.8h0M335.5 901.0h0M335.5 903.0V906.0M335.5 908.5V909.9M335.5 913.7V914.9M335.5 917.4h0M335.5 919.4h0M335.5 921.2V923.4M335.5 926.1h0M335.5 929.6h0M335.5 936.1h0M335.5 939.6h0M335.5 941.5h0M335.5 946.4V946.7M335.5 956.0V956.4M335.5 960.0V961.4M336.5 829.8h0M336.5 833.3h0M336.5 836.8h0M336.5 838.5h0M336.5 841.9V845.5M336.5 852.9h0M336.5 858.7h0M336.5 860.8V861.1M336.5 863.3h0M336.5 865.1h0M336.5 870.7V872.5M336.5 875.3V877.2M336.5 880.0h0M336.5 883.2h0M336.5 885.0h0M336.5 887.9h0M336.5 891.0V892.6M336.5 896.8h0M336.5 899.2V904.5M336.5 907.1h0M336.5 908.9h0M336.5 910.6V912.4M336.5 915.5V916.4M336.5 918.4h0M336.5 922.0V923.0M336.5 925.4V926.2M336.5 927.8h0M336.5 929.8h0M336.5 933.2V934.2M336.5 939.2h0M336.5 941.8h0M336.5 946.3V947.2M336.5 953.4h0M336.5 955.2h0M336.5 958.4h0M336.5 962.1h0M337.5 849.0h0M337.5 853.4h0M337.5 858.1h0M337.5 863.1V864.0M337.5 873.4V875.2M337.5 879.1h0M337.5 881.2h0M337.5 883.1h0M337.5 885.6h0M337.5 887.5h0M337.5 891.4h0M337.5 894.2h0M337.5 896.4V897.9M337.5 900.1V901.9M337.5 905.7h0M337.5 908.1h0M337.5 911.3V918.0M337.5 921.2h0M337.5 923.3V924.4M337.5 928.4h0M337.5 930.8V932.4M337.5 934.9V938.6M337.5 941.9h0M337.5 944.0h0M337.5 946.9V950.4M337.5 953.6V954.5M337.5 959.1h0M338.5 842.7h0M338.5 844.7h0M338.5 859.2h0M338.5 867.3V869.8M338.5 877.2V877.8M338.5 879.4h0M338.5 881.5h0M338.5 883.4V887.4M338.5 889.6V891.6M338.5 894.5V897.1M338.5 899.6h0M338.5 905.2h0M338.5 907.8h0M338.5 909.8V919.8M338.5 922.2V927.2M338.5 929.9V931.4M338.5 933.1h0M338.5 936.4V939.3M338.5 943.7h0M338.5 946.6h0M338.5 948.4h0M338.5 952.5h0M338.5 959.8h0M339.5 836.7h0M339.5 841.9V843.4M339.5 846.7V849.4M339.5 851.1h0M339.5 855.4V855.8M339.5 868.0h0M339.5 870.1h0M339.5 873.5h0M339.5 879.9V882.4M339.5 885.6V888.7M339.5 890.6h0M339.5 892.3V893.4M339.5 895.8V896.1M339.5 899.9V902.5M339.5 907.3V914.0M339.5 916.5h0M339.5 918.9V923.5M339.5 926.0V931.1M339.5 932.7h0M339.5 938.5V939.1M339.5 941.9h0M339.5 945.1V945.7M339.5 947.3h0M339.5 949.1h0M339.5 953.4h0M340.5 850.9h0M340.5 855.6h0M340.5 871.6h0M340.5 877.2h0M340.5 879.3h0M340.5 881.7V882.9M340.5 888.6h0M340.5 891.1V892.9M340.5 896.0V899.0M340.5 901.3h0M340.5 907.1V912.3M340.5 914.6V915.3M340.5 917.6V918.8M340.5 920.7h0M340.5 925.1V929.5M340.5 931.2h0M340.5 932.9V935.4M340.5 939.0h0M340.5 942.7h0M340.5 945.1V946.7M340.5 948.8h0M340.5 951.5h0M340.5 955.3h0M340.5 958.2V959.1M341.5 812.6h0M341.5 819.5h0M341.5 830.2h0M341.5 835.6V837.8M341.5 840.3V843.9M341.5 846.8V847.6M341.5 849.8h0M341.5 853.1h0M341.5 861.3h0M341.5 864.2h0M341.5 866.1V867.8M341.5 872.1h0M341.5 873.9V874.7M341.5 880.1h0M341.5 881.8V883.1M341.5 884.8h0M341.5 886.9V887.6M341.5 891.2V895.4M341.5 898.0h0M341.5 903.4V905.7M341.5 908.1V911.6M341.5 914.4h0M341.5 917.0V918.2M341.5 920.0h0M341.5 922.1h0M341.5 925.0V925.5M341.5 928.0h0M341.5 931.8V934.2M341.5 938.7V940.5M341.5 945.7h0M341.5 947.6V949.1M341.5 960.4h0M341.5 962.1V964.4M342.5 805.2h0M342.5 820.0h0M342.5 821.9h0M342.5 824.4V825.4M342.5 829.1h0M342.5 832.8h0M342.5 835.2h0M342.5 836.9V842.6M342.5 848.9h0M342.5 853.6h0M342.5 856.6h0M342.5 858.5V859.4M342.5 864.6h0M342.5 874.2V876.0M342.5 880.3V881.3M342.5 883.0V891.2M342.5 892.8V894.2M342.5 897.2h0M342.5 899.6V903.9M342.5 907.4V909.7M342.5 913.7V918.7M342.5 920.8h0M342.5 925.6h0M342.5 927.4V930.2M342.5 931.9h0M342.5 934.8h0M342.5 936.7h0M342.5 941.9h0M342.5 948.4V949.7M342.5 954.7V955.7M342.5 957.4h0M343.5 825.1h0M343.5 827.5h0M343.5 831.0h0M343.5 845.0h0M343.5 848.5h0M343.5 852.3h0M343.5 856.3h0M343.5 861.4V867.6M343.5 869.7h0M343.5 876.0h0M343.5 881.1h0M343.5 883.2h0M343.5 885.4h0M343.5 887.2V888.5M343.5 891.7h0M343.5 894.7V896.1M343.5 899.1h0M343.5 905.5h0M343.5 908.0V910.5M343.5 912.7V916.3M343.5 920.0V921.8M343.5 923.7V925.7M343.5 927.9V929.4M343.5 936.4V937.8M343.5 941.3h0M343.5 944.3V944.7M343.5 947.6h0M343.5 955.2h0M343.5 962.6h0M344.5 834.7h0M344.5 845.0h0M344.5 852.1h0M344.5 855.5h0M344.5 863.0h0M344.5 872.0V872.7M344.5 880.4h0M344.5 882.7h0M344.5 886.6h0M344.5 888.7h0M344.5 891.8V894.0M344.5 897.5h0M344.5 899.9V900.3M344.5 910.2V912.5M344.5 914.2V916.4M344.5 918.1V919.1M344.5 920.8V925.4M344.5 929.9V936.7M344.5 943.1V945.4M344.5 948.3h0M344.5 950.2h0M344.5 952.0h0M344.5 954.3V955.4M344.5 957.6h0M344.5 961.1h0M345.5 860.9h0M345.5 863.4h0M345.5 870.7h0M345.5 873.1V875.2M345.5 882.1h0M345.5 884.2V884.6M345.5 887.5h0M345.5 890.2V890.8M345.5 895.6h0M345.5 901.5V902.6M345.5 905.4V906.1M345.5 908.4h0M345.5 911.6V913.2M345.5 916.4V923.6M345.5 927.5V941.6M345.5 943.2V944.7M345.5 957.1V960.4M345.5 962.7V963.4M346.5 829.2V831.7M346.5 844.8h0M346.5 847.0h0M346.5 851.2h0M346.5 856.1h0M346.5 861.8h0M346.5 864.2h0M346.5 867.2V869.3M346.5 871.4h0M346.5 873.0V875.9M346.5 881.0V886.4M346.5 888.9h0M346.5 890.7h0M346.5 892.4V893.8M346.5 896.0V897.8M346.5 901.4V901.8M346.5 903.7V905.3M346.5 907.0V911.6M346.5 914.0h0M346.5 918.9V920.5M346.5 923.5h0M346.5 931.0V932.2M346.5 935.4V937.7M346.5 939.6h0M346.5 943.0h0M346.5 952.1V952.6M346.5 962.7h0M347.5 799.3V801.7M347.5 804.5h0M347.5 821.6V822.1M347.5 830.8V831.2M347.5 833.9V834.8M347.5 845.1h0M347.5 850.1h0M347.5 855.0V855.6M347.5 858.4h0M347.5 862.8h0M347.5 864.7V865.9M347.5 871.6V872.7M347.5 874.5V876.2M347.5 877.9V880.1M347.5 883.2V884.5M347.5 888.5V889.0M347.5 891.8h0M347.5 894.4h0M347.5 897.3h0M347.5 900.6V901.4M347.5 903.7h0M347.5 908.3h0M347.5 910.5V913.3M347.5 916.2h0M347.5 918.3V919.7M347.5 925.3V926.0M347.5 928.7V929.2M347.5 930.8V931.7M347.5 937.8h0M347.5 943.5h0M347.5 945.3V946.5M347.5 949.7h0M347.5 960.6h0M347.5 964.1h0M348.5 786.3h0M348.5 793.9h0M348.5 802.4V802.8M348.5 805.5h0M348.5 808.5h0M348.5 827.3V828.3M348.5 833.0h0M348.5 836.3h0M348.5 838.2h0M348.5 840.7h0M348.5 843.7V844.5M348.5 848.4V851.3M348.5 853.9h0M348.5 856.2h0M348.5 858.1V859.5M348.5 864.3h0M348.5 866.0h0M348.5 867.9h0M348.5 870.6h0M348.5 873.1V874.3M348.5 876.0h0M348.5 881.2V882.4M348.5 884.1V885.3M348.5 887.2V888.3M348.5 893.4V895.8M348.5 904.1V904.4M348.5 910.0V913.1M348.5 916.0h0M348.5 917.9h0M348.5 919.5h0M348.5 927.0h0M348.5 930.4h0M348.5 935.7h0M348.5 940.4h0M348.5 944.7h0M348.5 950.6h0M348.5 957.0h0M349.5 758.4h0M349.5 767.4h0M349.5 769.5V770.2M349.5 778.6V779.1M349.5 784.7V786.0M349.5 800.0V801.2M349.5 804.3h0M349.5 811.7V812.3M349.5 814.2V816.2M349.5 819.9h0M349.5 825.4V828.2M349.5 832.6V833.1M349.5 836.1V836.6M349.5 838.6h0M349.5 841.2h0M349.5 844.8V845.2M349.5 847.7h0M349.5 849.7h0M349.5 857.9h0M349.5 860.7V861.4M349.5 863.4h0M349.5 865.1h0M349.5 868.0h0M349.5 869.8V870.8M349.5 872.4V874.0M349.5 875.7V876.3M349.5 884.0V885.1M349.5 887.1V887.8M349.5 895.4V897.7M349.5 905.8h0M349.5 911.1h0M349.5 921.0h0M349.5 923.2h0M349.5 925.3V926.8M349.5 933.0h0M349.5 937.2h0M349.5 939.2h0M349.5 941.3h0M349.5 948.7h0M349.5 955.8h0M350.5 769.3V770.3M350.5 786.1h0M350.5 788.2h0M350.5 797.4h0M350.5 800.0h0M350.5 806.7h0M350.5 809.1h0M350.5 815.0h0M350.5 816.9h0M350.5 820.5V820.8M350.5 822.6h0M350.5 827.1V827.9M350.5 832.2V833.4M350.5 836.6h0M350.5 840.0h0M350.5 843.1h0M350.5 845.9V847.5M350.5 851.0V851.4M350.5 853.7V858.1M350.5 860.4V861.8M350.5 866.6h0M350.5 873.4V875.7M350.5 877.8V878.2M350.5 879.8h0M350.5 881.7h0M350.5 883.9h0M350.5 887.5h0M350.5 889.2h0M350.5 890.9V893.0M350.5 895.5V896.3M350.5 902.3h0M350.5 909.4h0M350.5 927.5h0M350.5 934.8h0M350.5 940.1h0M350.5 943.9h0M350.5 947.9h0M350.5 950.3h0M350.5 952.4V953.6M350.5 964.4V965.1M351.5 800.2h0M351.5 810.9h0M351.5 817.6h0M351.5 819.3h0M351.5 822.6h0M351.5 828.7h0M351.5 832.7h0M351.5 839.9V840.9M351.5 846.1V852.5M351.5 854.5h0M351.5 856.4V857.8M351.5 860.5V861.7M351.5 863.6V867.0M351.5 868.9V870.5M351.5 872.2V875.3M351.5 880.9V882.1M351.5 888.9V889.3M351.5 894.3V894.6M351.5 897.2h0M351.5 901.0V901.8M351.5 904.8h0M351.5 909.8V910.4M351.5 918.3V920.6M351.5 923.0V924.4M351.5 934.8h0M351.5 946.7h0M351.5 948.8h0M352.5 812.1h0M352.5 822.0h0M352.5 824.6h0M352.5 831.4V835.7M352.5 840.1h0M352.5 844.7h0M352.5 847.4V849.2M352.5 851.0h0M352.5 855.3V856.7M352.5 863.0h0M352.5 866.4h0M352.5 868.0h0M352.5 872.0V872.6M352.5 875.6V878.3M352.5 880.7V882.9M352.5 885.0h0M352.5 886.8h0M352.5 888.4h0M352.5 891.1h0M352.5 892.8V894.3M352.5 896.1V898.2M352.5 901.6h0M352.5 903.3h0M352.5 906.1h0M352.5 909.2V910.2M352.5 911.9h0M352.5 914.2h0M352.5 917.2V919.3M352.5 921.1V922.6M352.5 933.2h0M352.5 935.5h0M352.5 939.6h0M352.5 941.2h0M352.5 945.0V945.8M352.5 948.4V948.8M352.5 952.6h0M352.5 955.2h0M352.5 956.8h0M352.5 962.4h0M353.5 832.9V835.6M353.5 838.3h0M353.5 840.1h0M353.5 842.1h0M353.5 845.9V847.4M353.5 851.4V851.8M353.5 858.3h0M353.5 866.6h0M353.5 869.8h0M353.5 872.0h0M353.5 873.9V876.1M353.5 877.8V878.8M353.5 882.2V883.8M353.5 885.4h0M353.5 887.9V888.9M353.5 891.5V892.1M353.5 897.3h0M353.5 899.6V900.3M353.5 908.3V910.0M353.5 911.9V914.3M353.5 917.4V918.5M353.5 920.3h0M353.5 925.5h0M353.5 930.8V932.1M353.5 936.9V937.5M353.5 940.0V941.2M353.5 943.3V944.9M353.5 947.6V947.9M353.5 959.2h0M353.5 961.8V963.3M353.5 965.7h0M354.5 817.8h0M354.5 824.2h0M354.5 826.1h0M354.5 831.3V832.7M354.5 835.5h0M354.5 839.5h0M354.5 845.2h0M354.5 847.5V848.1M354.5 851.9h0M354.5 859.1h0M354.5 861.5V863.3M354.5 865.5h0M354.5 867.8V868.8M354.5 871.6h0M354.5 874.0h0M354.5 877.4h0M354.5 879.2V880.4M354.5 882.1V883.4M354.5 886.5V888.6M354.5 890.8V892.9M354.5 895.8V897.8M354.5 904.1V907.9M354.5 910.2V910.8M354.5 913.8V915.8M354.5 917.5h0M354.5 921.7h0M354.5 923.5h0M354.5 927.4h0M354.5 929.9h0M354.5 934.5h0M354.5 936.1h0M354.5 939.0h0M354.5 947.6h0M354.5 949.8h0M354.5 956.7V957.4M354.5 961.1h0M355.5 807.5h0M355.5 810.0h0M355.5 812.8h0M355.5 820.4h0M355.5 826.0V827.6M355.5 835.3h0M355.5 837.0h0M355.5 839.1h0M355.5 848.5h0M355.5 858.7h0M355.5 861.5V865.2M355.5 868.4h0M355.5 871.6h0M355.5 873.4h0M355.5 877.6V878.5M355.5 881.4h0M355.5 883.9h0M355.5 886.3V890.3M355.5 894.5V899.3M355.5 901.9h0M355.5 905.4V905.7M355.5 908.4h0M355.5 910.1V914.5M355.5 921.6h0M355.5 923.6V925.9M355.5 927.9V936.1M355.5 942.8V943.7M355.5 947.5h0M355.5 950.8V951.4M355.5 961.4h0M356.5 823.0h0M356.5 843.9h0M356.5 850.2h0M356.5 856.7h0M356.5 870.6V871.8M356.5 875.8h0M356.5 881.1V881.8M356.5 884.1V885.3M356.5 887.3h0M356.5 895.2h0M356.5 897.0V901.2M356.5 903.8V904.3M356.5 907.3V920.2M356.5 924.9V928.2M356.5 930.0V933.9M356.5 936.0V937.5M356.5 942.7V943.2M356.5 947.7h0M356.5 949.4V951.1M356.5 953.0V953.5M356.5 956.9h0M356.5 959.7V960.4M357.5 839.1V839.6M357.5 842.0h0M357.5 851.2h0M357.5 861.9h0M357.5 864.9h0M357.5 867.6V868.9M357.5 873.6h0M357.5 875.2V876.4M357.5 878.4V881.2M357.5 883.6h0M357.5 888.7V890.8M357.5 892.9V898.0M357.5 900.1V904.1M357.5 909.2V912.4M357.5 914.7V918.0M357.5 926.1V929.2M357.5 933.1h0M357.5 936.9h0M357.5 942.1h0M357.5 947.9h0M357.5 956.4V957.0M357.5 959.0h0M358.5 836.0h0M358.5 848.2h0M358.5 853.9V858.6M358.5 860.6h0M358.5 862.5h0M358.5 869.1V870.0M358.5 879.4V884.1M358.5 886.8V887.7M358.5 893.0V898.1M358.5 899.8V901.0M358.5 904.2V910.5M358.5 912.1V913.5M358.5 919.4h0M358.5 922.8V925.5M358.5 929.4V929.8M358.5 933.7V936.2M358.5 939.7V943.5M358.5 953.1h0M359.5 832.9h0M359.5 845.1h0M359.5 848.7h0M359.5 853.0h0M359.5 864.6V865.4M359.5 871.7V872.0M359.5 874.1h0M359.5 877.1V880.8M359.5 883.1h0M359.5 887.1V889.8M359.5 892.8V894.4M359.5 897.7V901.8M359.5 905.1V908.1M359.5 911.9V916.6M359.5 918.5h0M359.5 920.9V922.5M359.5 924.7V925.5M359.5 927.5h0M359.5 929.1h0M359.5 931.3V931.8M359.5 934.4V935.8M359.5 941.7V943.9M359.5 946.7V947.0M359.5 948.7h0M359.5 959.4h0M360.5 849.7h0M360.5 856.0V858.2M360.5 861.7h0M360.5 864.5h0M360.5 867.0h0M360.5 876.4V876.9M360.5 880.6h0M360.5 882.5h0M360.5 889.5h0M360.5 892.4V893.5M360.5 897.1V903.1M360.5 904.9V910.5M360.5 912.6h0M360.5 916.8V918.0M360.5 921.4h0M360.5 924.4h0M360.5 927.5V931.7M360.5 933.4V939.0M360.5 940.9h0M360.5 943.7V946.5M360.5 948.4h0M360.5 954.7h0M360.5 957.9V960.2M360.5 962.2h0M361.5 850.0h0M361.5 851.7V854.2M361.5 858.7h0M361.5 860.4V863.0M361.5 879.9h0M361.5 888.0V889.4M361.5 891.4h0M361.5 893.8V898.6M361.5 900.9V903.9M361.5 906.5h0M361.5 908.7h0M361.5 910.3V912.9M361.5 916.3V919.0M361.5 920.8V923.3M361.5 925.0h0M361.5 928.6h0M361.5 934.8h0M361.5 937.6V943.2M361.5 948.0V948.6M361.5 950.7h0M361.5 954.6V960.0M362.5 841.3h0M362.5 856.2V857.7M362.5 861.0h0M362.5 862.6h0M362.5 870.0h0M362.5 873.7V876.9M362.5 880.2V882.1M362.5 884.0V886.7M362.5 891.1h0M362.5 894.0V896.2M362.5 898.4h0M362.5 900.6V903.3M362.5 906.5V912.1M362.5 914.1V917.6M362.5 919.9V921.5M362.5 924.5V926.2M362.5 928.1V931.5M362.5 933.2V934.7M362.5 938.8h0M362.5 942.9h0M362.5 949.1h0M362.5 950.7h0M362.5 953.8h0M363.5 816.1h0M363.5 829.8h0M363.5 832.0h0M363.5 838.7h0M363.5 841.4V842.5M363.5 847.9h0M363.5 850.9h0M363.5 853.4V854.1M363.5 856.5h0M363.5 861.3V863.3M363.5 866.4V870.0M363.5 871.8V878.3M363.5 880.9V882.1M363.5 884.8h0M363.5 886.5V887.4M363.5 894.1V896.9M363.5 898.5h0M363.5 902.4V903.7M363.5 911.3V911.9M363.5 915.5h0M363.5 920.0V920.3M363.5 922.4h0M363.5 929.6V930.2M363.5 932.3h0M363.5 934.8h0M363.5 937.5h0M363.5 939.6h0M363.5 941.3h0M364.5 798.1V799.4M364.5 805.0V805.5M364.5 809.2h0M364.5 816.0h0M364.5 820.3h0M364.5 824.5V825.8M364.5 828.8V835.2M364.5 838.1V840.8M364.5 842.9V844.0M364.5 846.3V848.9M364.5 854.2h0M364.5 857.0h0M364.5 861.1V862.9M364.5 870.9h0M364.5 874.8V876.3M364.5 882.5h0M364.5 885.6h0M364.5 888.1V893.7M364.5 896.3h0M364.5 902.1h0M364.5 907.2h0M364.5 916.7h0M364.5 920.3V921.7M364.5 926.0V928.0M364.5 938.4h0M365.5 748.0h0M365.5 754.7h0M365.5 759.9h0M365.5 764.4h0M365.5 772.1h0M365.5 783.4h0M365.5 786.9V787.9M365.5 790.7V791.1M365.5 795.6V797.3M365.5 799.2V799.6M365.5 803.5V804.6M365.5 806.6V809.2M365.5 814.7V818.8M365.5 820.9V822.3M365.5 825.3V826.8M365.5 829.4h0M365.5 833.1V834.6M365.5 836.5h0M365.5 838.4V839.3M365.5 841.0h0M365.5 844.4h0M365.5 852.5h0M365.5 854.6h0M365.5 863.6h0M365.5 866.4h0M365.5 868.4h0M365.5 872.7h0M365.5 875.2h0M365.5 877.3h0M365.5 880.8h0M365.5 883.4h0M365.5 887.1V888.0M365.5 897.8h0M365.5 901.0h0M365.5 911.8V912.8M365.5 916.3h0M365.5 921.0h0M365.5 931.9h0M365.5 934.9h0M366.5 740.1h0M366.5 742.3V743.2M366.5 753.8h0M366.5 758.9h0M366.5 765.2h0M366.5 767.4h0M366.5 772.9h0M366.5 775.0V776.4M366.5 779.7V780.0M366.5 784.0h0M366.5 789.1h0M366.5 792.4h0M366.5 794.0V795.3M366.5 799.7V800.8M366.5 805.0V808.5M366.5 810.7h0M366.5 813.2V816.0M366.5 822.0h0M366.5 827.1V828.0M366.5 830.0h0M366.5 831.9V835.8M366.5 841.2V844.5M366.5 847.0h0M366.5 849.7h0M366.5 851.8V853.0M366.5 864.7h0M366.5 869.2h0M366.5 875.4h0M366.5 881.4h0M366.5 900.0h0M366.5 906.5V908.0M367.5 716.3h0M367.5 732.0V732.8M367.5 735.0h0M367.5 737.8h0M367.5 739.8h0M367.5 751.2h0M367.5 754.2h0M367.5 763.6h0M367.5 768.8V770.1M367.5 772.7h0M367.5 775.2h0M367.5 779.1V779.8M367.5 781.5h0M367.5 783.7h0M367.5 788.2h0M367.5 790.1h0M367.5 791.7V796.0M367.5 798.1V799.4M367.5 801.8V802.7M367.5 804.8V805.9M367.5 809.1V809.8M367.5 814.6h0M367.5 816.5h0M367.5 820.4h0M367.5 823.4V824.8M367.5 830.9h0M367.5 834.6V836.0M367.5 838.2V838.7M367.5 843.1V845.0M367.5 858.2h0M367.5 860.5h0M367.5 871.9h0M367.5 877.9h0M367.5 879.6h0M367.5 884.5V886.8M367.5 891.4h0M367.5 896.3h0M367.5 901.8h0M367.5 911.1h0M367.5 923.3h0M367.5 928.7h0M368.5 714.5h0M368.5 717.1h0M368.5 725.7h0M368.5 731.8V733.8M368.5 742.5h0M368.5 745.2h0M368.5 750.4h0M368.5 757.4h0M368.5 759.9h0M368.5 763.3h0M368.5 765.0h0M368.5 766.9V771.8M368.5 774.3V774.7M368.5 777.2V779.0M368.5 780.6V781.3M368.5 785.6h0M368.5 792.3h0M368.5 797.7V798.1M368.5 800.5V801.7M368.5 807.3h0M368.5 812.4h0M368.5 824.7V825.7M368.5 832.2V833.2M368.5 836.5V836.9M368.5 840.3h0M368.5 846.5V847.6M368.5 857.7V858.5M368.5 866.5h0M368.5 868.6h0M368.5 876.7h0M368.5 879.3V879.8M368.5 889.2h0M368.5 890.9h0M368.5 896.0h0M368.5 898.6V899.2M368.5 906.4h0M368.5 912.1h0M368.5 923.1h0M368.5 926.0h0M369.5 713.5h0M369.5 718.8h0M369.5 739.1h0M369.5 745.5h0M369.5 748.4h0M369.5 751.1h0M369.5 758.1V762.6M369.5 767.8V769.3M369.5 771.0V774.8M369.5 777.3h0M369.5 781.1V782.1M369.5 784.0h0M369.5 788.1h0M369.5 789.7V790.1M369.5 792.2h0M369.5 797.3V802.0M369.5 805.8V806.6M369.5 808.7V810.5M369.5 813.0V813.4M369.5 826.3h0M369.5 829.2h0M369.5 831.7h0M369.5 834.9V836.5M369.5 840.1V841.5M369.5 846.4V847.5M369.5 850.5h0M369.5 853.7V854.7M369.5 865.7h0M369.5 879.1h0M369.5 890.3h0M369.5 892.9V893.3M369.5 895.6V896.7M369.5 918.2h0M369.5 919.9h0M369.5 923.1h0M370.5 727.0V727.7M370.5 748.3V749.0M370.5 752.2h0M370.5 758.8h0M370.5 762.1h0M370.5 765.7h0M370.5 768.6h0M370.5 771.2h0M370.5 772.9h0M370.5 776.9h0M370.5 794.3V794.6M370.5 799.3V800.3M370.5 808.2V812.7M370.5 815.1h0M370.5 827.0V828.2M370.5 829.9V830.4M370.5 838.3h0M370.5 841.4V842.4M370.5 844.1V847.6M370.5 849.3V852.4M370.5 854.4h0M370.5 857.0h0M370.5 869.6h0M370.5 871.7h0M370.5 879.4h0M370.5 884.5h0M370.5 888.3h0M370.5 898.5h0M370.5 900.1h0M370.5 904.8h0M370.5 908.4h0M370.5 917.0h0M370.5 919.9h0M371.5 755.0h0M371.5 765.0h0M371.5 772.2h0M371.5 773.8h0M371.5 778.4h0M371.5 786.6V786.9M371.5 789.2h0M371.5 794.4h0M371.5 796.4V798.5M371.5 802.0h0M371.5 809.7V810.0M371.5 812.4V813.5M371.5 815.4V817.3M371.5 820.0h0M371.5 823.2V824.3M371.5 830.1V830.8M371.5 836.0h0M371.5 839.7V844.0M371.5 846.4h0M371.5 848.8V851.9M371.5 857.4h0M371.5 862.1V864.5M371.5 867.5h0M371.5 873.7V874.2M371.5 878.3V881.3M371.5 883.8h0M371.5 895.6h0M371.5 903.3V903.7M371.5 907.5h0M371.5 916.8V917.7M371.5 920.8V921.1M371.5 926.1h0M371.5 934.5h0M372.5 764.7h0M372.5 778.8V781.4M372.5 785.9h0M372.5 799.2V799.8M372.5 809.5h0M372.5 812.5h0M372.5 816.6V817.5M372.5 820.4V824.4M372.5 827.3h0M372.5 831.6V832.3M372.5 836.0V837.0M372.5 839.2V839.9M372.5 841.7V848.6M372.5 855.5V857.4M372.5 861.1V861.6M372.5 863.8V864.8M372.5 871.9V872.9M372.5 876.5h0M372.5 882.5V883.7M372.5 885.6h0M372.5 889.0V890.8M372.5 893.1h0M372.5 894.8V895.9M372.5 898.2h0M372.5 900.2V901.6M372.5 909.8h0M372.5 911.9h0M372.5 913.8h0M372.5 923.8V925.1M373.5 775.2h0M373.5 796.5h0M373.5 799.7V802.8M373.5 804.8V805.4M373.5 810.8h0M373.5 816.4h0M373.5 821.7V824.7M373.5 827.8h0M373.5 832.4V836.5M373.5 838.8V839.3M373.5 841.6V847.6M373.5 849.4V852.4M373.5 854.3V858.4M373.5 861.3V862.6M373.5 873.5V877.1M373.5 883.3h0M373.5 892.3h0M373.5 894.8h0M373.5 896.5h0M373.5 899.0h0M373.5 909.8h0M373.5 913.9h0M373.5 919.3h0M373.5 928.8h0M374.5 792.0V793.4M374.5 799.8V801.0M374.5 804.0h0M374.5 823.4V826.1M374.5 831.0h0M374.5 835.4h0M374.5 837.4V841.5M374.5 843.7V847.0M374.5 848.8V855.5M374.5 857.4V858.0M374.5 860.0V861.1M374.5 862.9h0M374.5 864.9h0M374.5 867.0h0M374.5 872.6h0M374.5 875.4h0M374.5 877.2h0M374.5 880.1V880.7M374.5 895.3h0M374.5 902.5h0M374.5 904.4V905.5M374.5 908.6V909.4M374.5 914.8h0M374.5 928.5h0M374.5 931.8h0M374.5 935.2h0M374.5 937.7h0M375.5 803.4h0M375.5 812.5V813.1M375.5 818.0h0M375.5 821.0V822.1M375.5 834.2h0M375.5 835.9V837.5M375.5 840.5V841.0M375.5 842.8V846.5M375.5 848.3V852.4M375.5 855.5V859.6M375.5 861.5V862.8M375.5 864.9V867.1M375.5 871.4V871.8M375.5 877.8h0M375.5 889.3V890.5M375.5 895.8h0M375.5 902.8V903.7M375.5 909.3h0M375.5 915.3h0M375.5 920.2h0M375.5 930.5V931.4M375.5 937.0h0M375.5 941.4h0M375.5 943.0h0M376.5 826.0V827.5M376.5 835.1h0M376.5 836.9h0M376.5 839.6V842.0M376.5 847.3h0M376.5 856.6h0M376.5 858.3V859.5M376.5 862.7h0M376.5 865.0V867.4M376.5 871.0V875.2M376.5 878.7V881.0M376.5 883.3h0M376.5 885.2h0M376.5 888.9V889.6M376.5 894.1V897.9M376.5 899.6h0M376.5 902.2h0M376.5 905.4V906.4M376.5 911.3h0M376.5 913.5V916.5M376.5 926.5V929.2M376.5 931.9V934.7M376.5 942.6V943.5M377.5 837.0h0M377.5 842.2h0M377.5 854.2h0M377.5 864.1V865.3M377.5 867.5h0M377.5 873.2h0M377.5 876.2V876.6M377.5 879.6h0M377.5 882.8h0M377.5 900.4h0M377.5 905.7h0M377.5 919.3h0M377.5 929.2h0M377.5 937.0h0M377.5 940.9h0M377.5 943.2V945.6M377.5 962.9h0M377.5 964.9h0M131.5 855.0h0M131.3 869.0h0M130.7 877.7h0M131.0 885.2h0M131.4 891.9h0M130.6 898.2h0M131.7 904.1h0M131.3 909.6h0M246.1 705.0h0M245.7 719.0h0M246.7 727.7h0M245.8 735.1h0M246.3 741.9h0M246.1 748.1h0M245.2 754.0h0M246.0 759.5h0M245.8 764.9h0M246.0 770.0h0M284.3 710.0h0M284.3 724.0h0M284.9 732.7h0M283.2 740.2h0M283.1 746.9h0M285.2 753.2h0M283.4 759.1h0M283.4 764.6h0M370.3 599.3h0M370.3 615.3h0M368.3 640.3h0M368.3 657.0h0M368.3 663.8h0M370.7 663.8h0M367.6 674.5h0M370.7 675.0h0M368.3 679.0h0M369.3 690.5h0M370.7 695.6h0M370.3 702.0h0M368.7 710.0h0M370.7 710.0h0M376.5 716.0h0M366.6 716.0h0M370.7 720.0h0M374.4 726.0h0M376.5 734.5h0M368.0 722.0h0M369.0 729.0h0M367.0 733.0h0M371.0 736.0h0M369.5 741.0h0M366.0 744.0h0M372.5 747.0h0M368.5 751.0h0M375.0 753.0h0M365.5 757.0h0M370.5 760.0h0M373.5 765.0h0M367.5 768.0h0M364.8 772.0h0M371.5 775.0h0M376.0 778.0h0M369.0 781.0h0M350.6 719.0h0M350.9 721.0h0M350.4 731.4h0M351.5 748.0h0M351.2 760.0h0M351.6 763.0h0M354.3 767.0h0M350.2 771.0h0M347.4 778.5h0M155.7 1001.8h0M167.1 994.0h0M176.6 994.6h0M196.3 999.9h0M207.5 1001.8h0M222.3 974.3h0M235.7 971.3h0M253.4 964.8h0M262.7 969.3h0M289.7 965.4h0M304.6 968.4h0M319.8 973.3h0M326.3 978.2h0M332.2 979.6h0M352.3 974.3h0M355.3 965.4h0M1084.5 1021.6V1023.0M1085.5 1021.6V1023.1M1086.5 1021.4V1022.9M1087.5 1020.7V1022.8M1088.5 1020.4V1022.8M1089.5 1019.9V1022.9M1090.5 1019.7V1022.6M1091.5 1019.3V1023.2M1092.5 1018.4V1023.5M1093.5 1018.1V1023.4M1094.5 1017.5V1022.8M1095.5 1017.8V1023.0M1096.5 1017.8V1023.4M1097.5 1017.8V1023.5M1098.5 1018.4V1023.2M1099.5 1018.8V1023.7M1100.5 1018.8V1023.3M1101.5 1019.3V1023.5M1102.5 1018.9V1023.2M1103.5 1018.8V1023.4M1104.5 1018.6V1023.3M1105.5 1018.3V1022.6M1106.5 1017.7V1022.7M1107.5 1017.8V1022.4M1108.5 1017.3V1022.9M1109.5 1018.5V1022.7M1110.5 1018.2V1022.9M1111.5 1017.9V1023.4M1112.5 1017.6V1022.6M1113.5 1017.7V1022.9M1114.5 1018.1V1024.0M1115.5 1018.7V1024.5M1116.5 1018.6V1024.4M1117.5 1019.0V1023.7M1118.5 1020.0V1023.3M1119.5 1019.7V1023.5M1120.5 1019.4V1023.2M1121.5 1018.8V1022.9M1122.5 1019.0V1024.0M1123.5 1018.6V1023.8M1124.5 1018.7V1023.9M1125.5 1019.4V1023.3M1126.5 1019.3V1022.8M1127.5 1019.3V1022.9M1128.5 1019.6V1023.5M1129.5 1019.7V1023.3M1130.5 1019.7V1023.6M1131.5 1020.2V1023.3M1132.5 1020.8V1023.5M1133.5 1020.5V1023.7M1134.5 1020.9V1023.2M1135.5 1020.7V1023.2M1136.5 1021.1V1023.5M1137.5 1020.2V1023.5M1138.5 1020.3V1023.1M1139.5 1020.2V1023.6M1140.5 1019.1V1023.4M1141.5 1018.7V1023.4M1142.5 1019.6V1023.1M1143.5 1019.6V1023.0M1144.5 1018.2V1022.4M1145.5 1018.4V1023.1M1146.5 1017.8V1023.0M1147.5 1017.7V1022.6M1148.5 1018.2V1022.3M1149.5 1017.7V1023.7M1150.5 1017.5V1023.6M1151.5 1017.3V1021.7M1152.5 1016.4V1022.5M1153.5 1015.1V1023.8M1154.5 1015.0V1022.9M1155.5 1014.4V1023.0M1156.5 1014.6V1024.3M1157.5 1016.8V1022.8M1158.5 1017.0V1021.8M1159.5 1017.2V1022.9M1160.5 1017.1V1023.3M1161.5 1016.7V1023.1M1162.5 1016.2V1023.3M1163.5 1015.5V1022.3M1164.5 1014.9V1022.8M1165.5 1013.5V1023.1M1166.5 1015.9V1024.6M1167.5 1017.6V1024.1M1168.5 1020.0V1023.7M1169.5 1020.5V1023.8M1170.5 1020.7V1023.6M1171.5 1020.5V1023.6M1172.5 1020.3V1023.7M1173.5 1020.6V1024.5M1174.5 1020.8V1024.7M1175.5 1020.4V1023.6M1176.5 1020.3V1023.8M1177.5 1019.8V1024.0M1178.5 1019.8V1024.2M1179.5 1019.9V1024.2M1180.5 1019.1V1023.6M1181.5 1018.5V1023.6M1182.5 1018.7V1023.0M1183.5 1018.1V1023.0M1184.5 1017.7V1022.6M1185.5 1016.9V1023.3M1186.5 1016.8V1023.7M1187.5 1017.0V1023.9M1188.5 1017.6V1022.8M1189.5 1018.2V1022.9M1190.5 1018.6V1023.0M1191.5 1018.8V1022.8M1192.5 1019.2V1022.7M1193.5 1018.8V1022.6M1194.5 1019.8V1022.7M1195.5 1018.9V1022.6M1196.5 1018.2V1022.5M1197.5 1017.5V1022.5M1198.5 1017.2V1022.3M1199.5 1016.5V1022.5M1200.5 1015.7V1022.9M1201.5 1015.1V1022.5M1202.5 1015.1V1023.8M1203.5 1015.4V1023.8M1204.5 1016.3V1023.3M1205.5 1017.0V1023.0M1206.5 1018.0V1023.2M1207.5 1016.3V1024.5M1208.5 1014.7V1022.5M1209.5 1014.4V1023.8M1210.5 1013.5V1021.7M1210.5 1023.4h0M1211.5 1013.1V1022.7M1211.5 1025.1h0M1212.5 1013.4V1022.8M1213.5 1012.1V1023.9M1214.5 1011.7h0M1214.5 1014.2V1023.4M1215.5 1013.3h0M1215.5 1015.0V1023.6M1216.5 1013.5V1023.6M1217.5 1013.1V1021.7M1218.5 1011.3V1022.7M1219.5 1011.6V1023.1M1220.5 1013.0V1023.4M1221.5 1012.9V1022.5M1222.5 1011.3V1022.5M1223.5 1010.8V1020.5M1223.5 1022.3V1023.5M1224.5 1011.7V1022.7M1225.5 1011.7V1022.9M1226.5 1011.6V1021.7M1227.5 1009.6V1022.0M1228.5 1010.4V1023.0M1229.5 1009.8V1022.5M1230.5 1009.1V1023.0M1231.5 1008.0V1023.0M1232.5 1009.0V1010.1M1232.5 1012.1V1021.1M1233.5 1011.9h0M1233.5 1013.7V1021.8M1234.5 1013.3V1022.4M1235.5 1013.0h0M1235.5 1014.6V1020.7M1236.5 1012.1V1021.5M1237.5 1010.4V1021.5M1238.5 1003.5h0M1238.5 1008.4V1021.6M1239.5 1006.0V1021.8M1240.5 985.8h0M1240.5 989.9h0M1240.5 993.3h0M1240.5 996.3V997.4M1240.5 1000.3V1007.2M1240.5 1009.1h0M1240.5 1011.0V1018.2M1240.5 1019.9h0M1241.5 977.0h0M1241.5 984.5h0M1241.5 986.2V986.6M1241.5 988.4V992.6M1241.5 994.6V1002.5M1241.5 1004.1V1018.5M1241.5 1020.6h0M1242.5 977.5h0M1242.5 986.1h0M1242.5 987.7V988.4M1242.5 990.9h0M1242.5 992.7V1003.0M1242.5 1005.4V1016.2M1242.5 1018.4V1019.3M1243.5 974.1h0M1243.5 978.3V982.8M1243.5 985.1h0M1243.5 989.3V990.2M1243.5 992.1V1000.6M1243.5 1003.2V1016.8M1243.5 1018.6V1020.0M1243.5 1023.3h0M1244.5 978.0h0M1244.5 992.2h0M1244.5 994.1V1003.2M1244.5 1005.1V1017.1M1244.5 1019.2V1019.7M1245.5 994.9h0M1245.5 996.5V1001.4M1245.5 1003.2V1005.8M1245.5 1007.7V1018.6M1245.5 1020.6V1021.1M1245.5 1023.8h0M1246.5 997.8V1019.1M1246.5 1021.2h0M1247.5 1006.2V1021.6M1248.5 1006.1h0M1248.5 1008.0V1021.4M1249.5 1006.2V1021.3M1250.5 1009.9V1022.8M1251.5 1011.9V1023.3M1252.5 1014.2V1023.4M1253.5 1013.3V1023.0M1254.5 1013.4V1021.2M1254.5 1023.3h0M1255.5 1015.8V1023.0M1256.5 1016.5V1022.7M1257.5 1015.5V1021.9M1258.5 1014.2V1022.4M1259.5 1014.2V1022.3M1260.5 1013.1V1021.4M1261.5 1012.7V1021.2M1262.5 1012.5V1021.3M1263.5 1013.6V1020.4M1264.5 1015.8V1021.9M1265.5 1014.0V1021.9M1266.5 1013.9V1020.5M1267.5 1014.5V1021.9M1268.5 1013.4V1022.0M1269.5 1013.2V1022.7M1270.5 1013.6V1022.7M1271.5 1013.1V1022.1M1272.5 1012.8V1021.8M1273.5 1012.6V1021.6M1274.5 1012.9V1021.6M1275.5 1012.1V1020.6M1276.5 1012.1h0M1276.5 1013.7V1021.3M1277.5 1012.7V1021.6M1278.5 1013.5V1021.3M1279.5 1013.6V1021.2M1280.5 1012.7V1020.8M1281.5 1011.9h0M1281.5 1013.5V1021.8M1282.5 1015.0V1021.6M1283.5 1011.7V1021.2M1284.5 1012.3V1021.3M1285.5 1007.5V1020.9M1286.5 1007.3h0M1286.5 1009.6V1021.8M1287.5 1010.7V1019.8M1288.5 1009.8V1021.2M1289.5 1009.7h0M1289.5 1012.0V1022.6M1290.5 1011.7V1023.0M1291.5 1011.3V1022.2M1292.5 1009.9V1011.3M1292.5 1013.0V1020.5M1292.5 1023.0h0M1293.5 1011.0V1020.2M1294.5 1010.1V1020.9M1295.5 1009.3V1020.1M1296.5 1008.7h0M1296.5 1010.5V1018.1M1296.5 1019.8V1020.5M1297.5 1011.6V1021.2M1298.5 1011.2V1021.8M1299.5 1009.1V1020.9M1299.5 1022.8h0M1300.5 1005.2V1019.7M1301.5 1000.7h0M1301.5 1005.0V1007.5M1301.5 1009.3V1010.1M1301.5 1011.8V1019.1M1302.5 1011.2V1019.4M1303.5 1012.9V1020.8M1304.5 1011.0h0M1304.5 1012.7V1021.4M1305.5 1009.1V1020.7M1306.5 1001.8V1002.7M1306.5 1004.3V1021.8M1307.5 1003.8V1006.1M1307.5 1008.1V1021.1M1308.5 1004.4V1020.4M1309.5 998.7h0M1309.5 1001.6h0M1309.5 1003.7h0M1309.5 1006.4V1020.3M1310.5 1009.7h0M1310.5 1011.7V1020.7M1311.5 1011.1V1023.8M1312.5 1007.0V1008.3M1312.5 1010.3V1023.9M1313.5 1008.2V1024.0M1314.5 1007.5V1009.3M1314.5 1011.2V1021.8M1315.5 1008.8V1021.7M1316.5 1010.5V1021.9M1317.5 1009.9V1022.7M1318.5 1008.7V1022.3M1319.5 1012.6V1022.4M1320.5 1013.5V1021.2M1321.5 1011.3V1020.9M1322.5 1010.6V1019.3M1323.5 1010.9V1019.8M1324.5 1011.5V1021.9M1325.5 1010.0h0M1325.5 1011.6V1019.9M1325.5 1022.2h0M1326.5 1009.2V1022.1M1327.5 1012.9V1022.2M1328.5 1012.1V1022.0M1329.5 1012.3V1021.4M1330.5 1011.4V1020.2M1331.5 1011.9V1020.1M1332.5 1012.4V1021.0M1333.5 1012.5V1021.1M1334.5 1011.9V1020.4M1335.5 1012.1V1021.1M1336.5 1012.1V1020.7M1337.5 1011.6V1020.3M1338.5 1012.1V1020.2M1339.5 1012.1V1019.7M1340.5 1013.5V1020.7M1341.5 1013.7V1020.5M1341.5 1022.5V1022.8M1342.5 1012.9V1020.3M1342.5 1022.4h0M1343.5 1011.7V1020.8M1344.5 1011.9V1020.8M1345.5 1012.7V1020.3M1346.5 1013.3V1021.0M1347.5 1011.4V1020.9M1348.5 1007.9V1020.9M1349.5 1004.8V1011.9M1349.5 1013.5V1020.4M1350.5 1007.6V1019.8M1351.5 1010.2V1022.0M1352.5 1011.1V1022.1M1353.5 1011.2V1020.5M1354.5 1005.9V1020.0M1355.5 993.7h0M1355.5 996.2V999.6M1355.5 1001.3V1003.4M1355.5 1005.0V1019.0M1356.5 992.3h0M1356.5 994.3V1003.6M1356.5 1005.8V1016.7M1357.5 986.8V987.2M1357.5 989.5h0M1357.5 993.8V996.9M1357.5 999.0V1000.3M1357.5 1002.3V1018.2M1358.5 996.4V998.9M1358.5 1000.5V1018.1M1359.5 994.5h0M1359.5 997.9h0M1359.5 999.8V1017.1M1360.5 998.6h0M1360.5 1000.7V1001.1M1360.5 1004.1V1005.4M1360.5 1007.0h0M1360.5 1009.1V1017.8M1361.5 998.3h0M1361.5 1000.6V1017.7M1362.5 987.3h0M1362.5 989.3V992.4M1362.5 994.6V1005.2M1362.5 1007.2V1015.4M1362.5 1017.1h0M1363.5 986.4h0M1363.5 992.0V996.7M1363.5 998.8V1003.4M1363.5 1005.2V1012.6M1363.5 1016.1h0M1363.5 1018.1V1020.1M1364.5 984.1h0M1364.5 986.4h0M1364.5 989.5h0M1364.5 991.7h0M1364.5 993.5V1016.2M1364.5 1017.9V1019.3M1364.5 1021.8h0M1365.5 997.2V1013.8M1365.5 1018.2h0M1366.5 997.8V1015.0M1367.5 998.0V1010.9M1367.5 1013.3V1013.7M1368.5 993.1V1013.3M1369.5 986.3h0M1369.5 988.6h0M1369.5 991.1V1003.3M1369.5 1005.1V1013.8M1370.5 988.7V989.5M1370.5 993.3V993.7M1370.5 995.8V1015.0M1371.5 992.1h0M1371.5 996.5h0M1371.5 998.8V1015.2M1372.5 1000.5V1001.1M1372.5 1002.9V1016.4M1373.5 999.4V999.8M1373.5 1001.9V1015.3M1374.5 996.6h0M1374.5 1001.2h0M1374.5 1003.2V1014.8M1375.5 996.1h0M1375.5 997.9V1002.4M1375.5 1004.3V1015.3M1376.5 996.7V997.4M1376.5 999.9V1014.6M1376.5 1016.7h0M1377.5 993.0h0M1377.5 998.2V1013.0M1377.5 1015.5h0M1377.5 1017.2h0M1378.5 994.7V1014.2M1378.5 1016.1h0M1379.5 991.0h0M1379.5 993.8V998.9M1379.5 1000.7V1014.5M1380.5 992.6h0M1380.5 994.2V1012.8M1380.5 1014.5V1015.1M1381.5 988.4h0M1381.5 991.4h0M1381.5 993.5V1012.9M1381.5 1016.4h0M1382.5 991.0V994.8M1382.5 996.6V1014.4M1383.5 991.4V992.0M1383.5 994.1V1009.0M1383.5 1011.9h0M1383.5 1013.8h0M1383.5 1015.9h0M1384.5 986.7h0M1384.5 990.7V992.3M1384.5 994.3V1014.9M1384.5 1016.7V1017.0M1385.5 991.5V1013.2M1385.5 1018.2h0M1386.5 993.1V993.5M1386.5 995.1h0M1386.5 997.5V1016.2M1387.5 992.5h0M1387.5 996.3V1014.0M1387.5 1015.6V1016.5M1388.5 991.7V993.1M1388.5 995.9V997.2M1388.5 999.2V1015.8M1389.5 990.6V994.0M1389.5 997.0V1013.2M1390.5 991.6V1013.5M1390.5 1017.0h0M1391.5 986.4h0M1391.5 990.1h0M1391.5 992.2V1004.7M1391.5 1006.8V1012.5M1391.5 1014.3h0M1392.5 982.2h0M1392.5 984.1V985.5M1392.5 987.4V991.6M1392.5 993.6V1009.6M1392.5 1012.3h0M1392.5 1014.1h0M1393.5 983.5V984.0M1393.5 986.4h0M1393.5 988.3V1010.4M1393.5 1014.1h0M1394.5 978.7h0M1394.5 981.4V983.7M1394.5 985.6h0M1394.5 987.7V1007.4M1394.5 1010.5h0M1394.5 1015.0h0M1395.5 972.3h0M1395.5 975.1h0M1395.5 978.9V979.8M1395.5 982.3h0M1395.5 984.5V985.0M1395.5 986.7h0M1395.5 989.4V991.7M1395.5 993.4V1008.1M1395.5 1010.1h0M1395.5 1013.0h0M1396.5 977.6h0M1396.5 981.3h0M1396.5 984.9V987.1M1396.5 989.1V990.2M1396.5 993.2V994.8M1396.5 996.5V1012.9M1396.5 1014.6h0M1397.5 990.1V995.9M1397.5 998.1V1001.8M1397.5 1004.9V1013.4M1397.5 1015.0h0M1398.5 985.7V988.1M1398.5 993.1h0M1398.5 996.4V1015.0M1399.5 989.7V991.7M1399.5 994.2V1011.6M1399.5 1015.7h0M1400.5 975.4h0M1400.5 980.2h0M1400.5 982.0h0M1400.5 984.6h0M1400.5 987.3V990.9M1400.5 995.1V1010.3M1400.5 1012.8V1013.1M1401.5 979.1h0M1401.5 981.9h0M1401.5 983.6h0M1401.5 987.8V1012.6M1402.5 966.5h0M1402.5 970.7h0M1402.5 978.4h0M1402.5 983.6h0M1402.5 990.5V1004.1M1402.5 1006.3V1007.3M1402.5 1010.7V1014.0M1403.5 961.9h0M1403.5 966.8h0M1403.5 968.9h0M1403.5 971.3V972.2M1403.5 974.8V977.2M1403.5 979.0h0M1403.5 981.2V981.7M1403.5 985.4V998.8M1403.5 1000.6V1003.3M1403.5 1006.6h0M1403.5 1008.7h0M1404.5 961.8h0M1404.5 970.3V971.0M1404.5 974.1V975.2M1404.5 977.4V979.3M1404.5 980.9V982.0M1404.5 984.0V1001.8M1404.5 1004.9V1008.6M1405.5 959.7h0M1405.5 975.0V975.3M1405.5 977.6h0M1405.5 981.9h0M1405.5 984.1V986.9M1405.5 988.5V1004.3M1405.5 1006.6V1008.7M1405.5 1013.6h0M1406.5 990.2V1004.6M1406.5 1007.0h0M1406.5 1008.7h0M1406.5 1012.1V1013.4M1407.5 974.6h0M1407.5 977.0h0M1407.5 979.2h0M1407.5 982.8h0M1407.5 985.1V987.3M1407.5 988.9V998.1M1407.5 1000.0V1010.5M1408.5 966.4h0M1408.5 970.1h0M1408.5 972.3h0M1408.5 976.5h0M1408.5 979.4h0M1408.5 981.6V982.3M1408.5 985.5h0M1408.5 987.7V992.7M1408.5 998.0V1001.8M1408.5 1003.5V1012.6M1408.5 1014.2V1014.9M1409.5 975.4h0M1409.5 983.5h0M1409.5 985.6h0M1409.5 988.6h0M1409.5 992.5h0M1409.5 996.4V1013.8M1410.5 993.0V994.9M1410.5 997.3V1011.4M1410.5 1013.8V1014.7M1411.5 991.3h0M1411.5 994.7V1007.2M1411.5 1008.9V1014.6M1412.5 996.3h0M1412.5 998.1V1015.4M1413.5 991.9V992.5M1413.5 994.8V1014.0M1414.5 984.4h0M1414.5 988.1h0M1414.5 993.9V1013.1M1415.5 990.8V991.7M1415.5 993.4h0M1415.5 995.0V1013.2M1415.5 1015.2h0M1415.5 1019.3h0M1416.5 988.4V990.5M1416.5 992.2V995.9M1416.5 997.7V1012.6M1416.5 1014.3V1015.6M1416.5 1019.0V1019.4M1417.5 985.9V987.4M1417.5 990.3h0M1417.5 993.0V1015.2M1417.5 1017.7V1020.5M1418.5 986.9h0M1418.5 989.7V990.7M1418.5 992.7V993.4M1418.5 995.5V1016.6M1418.5 1018.4h0M1419.5 987.8h0M1419.5 991.4h0M1419.5 994.5h0M1419.5 996.2V1013.6M1419.5 1015.3V1015.8M1419.5 1017.7h0M1420.5 989.0h0M1420.5 991.9V994.0M1420.5 996.4V1016.8M1421.5 992.6h0M1421.5 994.6V996.6M1421.5 998.4h0M1421.5 1000.2V1016.2M1422.5 987.2h0M1422.5 989.4h0M1422.5 994.1h0M1422.5 995.7V1015.6M1423.5 988.2h0M1423.5 990.2V992.6M1423.5 994.5V995.8M1423.5 997.6h0M1423.5 999.3V1011.0M1423.5 1012.7h0M1424.5 986.7V987.8M1424.5 989.9h0M1424.5 992.4V994.7M1424.5 996.8V1009.9M1425.5 984.9h0M1425.5 987.2V990.3M1425.5 993.8V1012.7M1426.5 989.5V991.5M1426.5 993.2V1009.9M1426.5 1012.1V1012.6M1427.5 986.4h0M1427.5 988.5V1008.0M1427.5 1009.7V1011.7M1427.5 1013.6h0M1428.5 981.8h0M1428.5 984.4h0M1428.5 986.5h0M1428.5 988.6V1009.1M1429.5 984.1V985.5M1429.5 988.4V1011.3M1430.5 988.2V989.6M1430.5 991.5V1006.5M1430.5 1008.5V1011.3M1430.5 1012.9h0M1431.5 980.8h0M1431.5 982.5V983.7M1431.5 988.1V1008.3M1431.5 1010.0V1011.4M1431.5 1013.1h0M1432.5 984.9h0M1432.5 986.7V1008.0M1432.5 1009.7V1011.4M1432.5 1013.3h0M1433.5 983.0h0M1433.5 988.0h0M1433.5 991.4V991.9M1433.5 993.8V1011.2M1433.5 1014.8h0M1434.5 986.2h0M1434.5 988.3V992.8M1434.5 995.7V1010.6M1434.5 1015.1h0M1435.5 989.5h0M1435.5 991.7V1012.3M1436.5 987.4V989.1M1436.5 992.4V1011.5M1436.5 1014.0h0M1437.5 980.5h0M1437.5 986.4V987.1M1437.5 990.2V998.5M1437.5 1000.7V1011.9M1437.5 1014.8h0M1438.5 962.4V962.8M1438.5 964.6h0M1438.5 967.4h0M1438.5 972.4h0M1438.5 976.4V997.7M1438.5 999.4V1000.8M1438.5 1006.1V1008.4M1439.5 957.2h0M1439.5 963.4h0M1439.5 965.1h0M1439.5 969.3h0M1439.5 970.9V971.7M1439.5 973.7h0M1439.5 976.1V994.2M1439.5 996.4V1003.1M1440.5 964.3V964.7M1440.5 969.7V973.0M1440.5 974.6V978.2M1440.5 980.2h0M1440.5 982.5V1002.0M1440.5 1004.2V1005.8M1441.5 974.3h0M1441.5 981.5h0M1441.5 983.6V996.2M1441.5 998.2V1009.3M1442.5 978.7h0M1442.5 989.3V996.7M1442.5 998.6V1003.1M1442.5 1004.8V1010.9M1443.5 972.5h0M1443.5 977.7V984.4M1443.5 987.7V1011.9M1444.5 975.9h0M1444.5 978.5h0M1444.5 980.6V981.4M1444.5 984.4V986.6M1444.5 988.7V993.0M1444.5 995.4V997.1M1444.5 998.7V1010.3M1444.5 1012.3V1013.8M1445.5 974.0h0M1445.5 978.4h0M1445.5 980.8V985.2M1445.5 986.9V987.7M1445.5 990.2V1005.0M1445.5 1007.0h0M1445.5 1009.7h0M1445.5 1011.4V1014.3M1446.5 966.6h0M1446.5 968.9h0M1446.5 971.5h0M1446.5 973.5V974.4M1446.5 976.7h0M1446.5 978.7V1004.2M1446.5 1009.8h0M1447.5 968.8h0M1447.5 972.8h0M1447.5 978.0h0M1447.5 981.4V981.7M1447.5 983.4V998.5M1447.5 1000.2V1002.1M1447.5 1004.3V1004.9M1447.5 1008.4V1009.1M1448.5 972.5h0M1448.5 974.2h0M1448.5 976.6V977.4M1448.5 979.2h0M1448.5 981.3V1004.1M1449.5 975.6V976.2M1449.5 978.7V979.2M1449.5 981.5V1002.3M1449.5 1006.5h0M1450.5 974.7h0M1450.5 977.2V979.2M1450.5 981.0V982.8M1450.5 984.4V996.2M1450.5 998.4V1002.9M1450.5 1005.1h0M1450.5 1008.2V1008.9M1451.5 966.3h0M1451.5 972.9V973.4M1451.5 975.1V986.7M1451.5 988.3h0M1451.5 990.2V999.6M1451.5 1002.0V1003.0M1451.5 1005.4h0M1452.5 960.5h0M1452.5 965.3h0M1452.5 967.4V968.9M1452.5 972.3V974.4M1452.5 978.6V980.4M1452.5 982.3V985.1M1452.5 986.9V1001.3M1452.5 1004.2h0M1452.5 1008.5V1009.3M1453.5 965.1h0M1453.5 970.0V971.3M1453.5 975.3h0M1453.5 979.4h0M1453.5 981.1V1007.9M1454.5 966.8h0M1454.5 970.6h0M1454.5 973.2V976.5M1454.5 978.6V981.4M1454.5 983.0V984.4M1454.5 986.3V1001.0M1454.5 1003.4h0M1454.5 1005.1h0M1455.5 970.9h0M1455.5 977.6V978.7M1455.5 980.3V983.7M1455.5 985.4V1003.9M1455.5 1009.7h0M1456.5 975.0h0M1456.5 976.9V977.3M1456.5 980.4h0M1456.5 982.2h0M1456.5 984.1h0M1456.5 986.4h0M1456.5 988.4V1004.0M1456.5 1005.9V1007.1M1457.5 974.0h0M1457.5 977.0h0M1457.5 978.9V979.5M1457.5 982.3V983.8M1457.5 986.1V1003.7M1457.5 1007.7h0M1458.5 969.0V970.6M1458.5 975.3h0M1458.5 977.2h0M1458.5 979.4V982.3M1458.5 985.1V1003.1M1458.5 1005.8V1010.3M1459.5 953.3h0M1459.5 965.2h0M1459.5 968.4h0M1459.5 971.5h0M1459.5 973.9V977.7M1459.5 979.5V985.9M1459.5 987.9V999.0M1459.5 1001.7V1003.5M1459.5 1005.4h0M1460.5 953.1h0M1460.5 956.4h0M1460.5 958.4h0M1460.5 961.4V965.1M1460.5 968.1h0M1460.5 972.8V973.1M1460.5 975.2h0M1460.5 977.6h0M1460.5 980.1V983.1M1460.5 984.9V1003.2M1460.5 1007.7V1009.3M1461.5 958.5V960.5M1461.5 964.3V968.6M1461.5 970.7V973.6M1461.5 976.4V977.4M1461.5 980.1V1000.0M1461.5 1002.3h0M1462.5 964.7h0M1462.5 972.9V989.4M1462.5 992.3V995.6M1462.5 997.6V999.5M1462.5 1004.8h0M377.4 1023.4h0" stroke="#1f77b4" stroke-width="5.5" stroke-linecap="round" fill="none"/><path d="M117.2 993.0C117.7 990.6 119.4 980.6 120.2 978.5C121.0 976.3 121.4 980.5 121.9 980.2C122.5 979.9 123.0 975.5 123.7 976.8C124.3 978.0 125.0 988.1 125.7 987.8C126.4 987.6 127.0 980.2 127.9 975.1C128.8 969.9 130.1 958.6 131.0 957.1C131.8 955.7 132.4 964.8 133.0 966.5C133.7 968.2 134.0 964.1 134.7 967.4C135.5 970.6 136.6 983.7 137.3 986.1C138.0 988.6 138.4 981.9 139.0 981.9C139.6 981.9 140.1 988.0 141.1 986.1C142.1 984.3 144.0 972.1 145.0 970.8C145.9 969.5 146.1 980.0 146.7 978.5C147.3 976.9 147.7 963.0 148.4 961.4C149.1 959.8 150.2 967.8 151.0 969.1C151.7 970.4 151.8 967.9 152.7 969.1C153.5 970.2 155.1 974.3 156.1 975.9C157.1 977.5 157.8 980.0 158.6 978.5C159.5 976.9 160.1 971.8 161.2 966.5C162.2 961.3 164.0 948.2 164.9 946.9C165.9 945.6 166.5 957.7 167.2 958.8C167.8 960.0 168.3 953.6 168.9 953.7C169.4 953.9 170.0 961.0 170.6 959.7C171.1 958.4 171.6 946.6 172.3 946.0C172.9 945.5 173.6 957.0 174.5 956.3C175.4 955.6 176.9 942.5 177.9 941.8C179.0 941.1 180.1 950.7 180.8 952.0C181.6 953.3 182.0 947.9 182.5 949.5C183.0 951.0 183.2 961.5 183.7 961.4C184.3 961.3 185.3 951.0 185.9 948.6C186.6 946.2 187.0 944.9 187.6 946.9C188.3 948.9 189.2 960.4 189.9 960.5C190.5 960.7 190.9 946.3 191.6 947.7C192.3 949.2 192.9 967.1 194.0 969.1C195.0 971.1 196.7 964.8 197.9 959.7C199.1 954.6 200.2 936.5 201.3 938.4C202.4 940.2 203.4 968.8 204.7 970.8C206.0 972.8 207.9 952.2 209.0 950.3C210.0 948.5 210.3 960.1 211.0 959.7C211.7 959.3 212.6 949.7 213.2 947.7C213.9 945.8 214.2 950.3 214.9 947.7C215.7 945.2 216.6 937.5 217.5 932.4C218.4 927.3 219.7 917.0 220.6 917.0C221.4 917.0 221.4 939.4 222.6 932.4C223.8 925.4 226.6 883.5 227.7 875.2C228.9 867.0 228.6 877.4 229.5 882.9C230.3 888.4 231.9 903.5 232.9 908.5C233.9 913.5 234.6 915.0 235.4 912.8C236.3 910.5 237.3 900.8 238.0 894.8C238.7 888.9 239.1 875.5 239.7 876.9C240.3 878.4 240.9 910.3 241.7 903.4C242.6 896.4 244.0 839.1 244.8 835.1C245.6 831.1 245.7 873.7 246.6 879.5C247.5 885.3 249.1 872.7 250.0 870.1C250.9 867.5 251.1 861.7 251.7 864.1C252.3 866.5 253.0 883.3 253.8 884.6C254.5 885.9 255.2 872.1 256.0 871.8C256.7 871.5 257.3 879.1 258.2 882.9C259.1 886.7 260.7 893.6 261.6 894.8C262.5 896.1 262.8 895.0 263.7 890.6C264.5 886.2 265.1 867.5 266.6 868.4C268.0 869.2 270.8 899.4 272.2 895.7C273.6 892.0 274.2 846.2 275.1 846.2C275.9 846.2 276.7 889.3 277.3 895.7C277.9 902.1 278.0 882.8 278.7 884.6C279.3 886.5 279.9 911.9 281.1 906.8C282.2 901.7 284.2 855.0 285.5 853.9C286.8 852.8 288.0 895.1 288.9 900.0C289.8 904.8 290.3 885.2 291.0 882.9C291.6 880.6 291.7 891.7 292.7 886.3C293.6 880.9 295.4 850.2 296.6 850.5C297.7 850.8 298.7 883.2 299.5 888.0C300.3 892.9 300.5 875.9 301.2 879.5C301.9 883.0 302.8 910.3 303.8 909.4C304.7 908.4 305.9 879.8 307.2 873.5C308.4 867.3 310.3 872.2 311.4 871.8C312.6 871.4 313.0 866.8 314.0 871.0C315.0 875.1 316.3 897.4 317.4 896.6C318.5 895.7 319.6 869.2 320.5 865.8C321.3 862.4 321.6 869.2 322.5 876.1C323.4 882.9 325.1 901.2 325.9 906.8C326.8 912.3 327.0 911.8 327.6 909.4C328.3 906.9 329.2 892.3 329.9 892.3C330.6 892.3 331.2 910.8 331.9 909.4C332.6 907.9 333.3 883.2 334.1 883.8C335.0 884.3 336.3 908.5 337.0 912.8C337.8 917.0 338.2 909.1 338.7 909.4C339.3 909.6 339.8 916.2 340.4 914.5C341.1 912.8 341.8 899.3 342.7 899.1C343.5 899.0 344.3 921.3 345.6 913.6C346.8 905.9 349.2 855.0 350.3 853.0C351.5 851.0 351.8 895.0 352.4 901.7C353.0 908.4 353.5 891.3 354.1 893.1C354.7 895.0 355.3 910.9 356.1 912.8C356.9 914.6 357.9 903.0 358.9 904.2C359.8 905.5 360.8 930.0 361.8 920.4C362.7 910.9 364.0 863.8 364.7 847.1C365.4 830.3 365.5 827.9 366.0 819.8C366.6 811.7 367.4 799.6 368.1 798.4C368.8 797.3 369.5 804.3 370.3 812.9C371.2 821.6 372.3 840.5 373.2 850.5C374.1 860.4 375.5 869.0 375.9 872.7" stroke="#ff7f0e" stroke-width="2.45" stroke-linejoin="round" fill="none"/><path d="M375.9 872.7L377.1 949.5L377.6 1000.0L378.0 1032.5L378.7 1017.5L379.5 1025.0L380.3 1020.8L381.2 1022.4L382.5 1022.0" stroke="#ff7f0e" stroke-width="2.08" stroke-linejoin="round" stroke-linecap="butt" fill="none"/><path d="M382.0 1022.0L1085.0 1022.0" stroke="#ff7f0e" stroke-width="2.12" stroke-linejoin="round" stroke-linecap="butt" fill="none"/><path d="M1084.5 1022.2C1085.6 1022.2 1089.3 1022.2 1091.3 1021.8C1093.3 1021.5 1094.9 1020.2 1096.7 1020.1C1098.6 1019.9 1100.2 1021.3 1102.2 1021.1C1104.1 1021.0 1106.9 1019.0 1108.3 1019.1C1109.7 1019.2 1109.8 1021.8 1110.6 1021.8C1111.4 1021.8 1112.2 1019.2 1113.0 1019.1C1113.9 1019.0 1113.7 1021.1 1115.8 1021.4C1117.8 1021.8 1121.9 1021.0 1125.3 1021.1C1128.7 1021.3 1132.7 1022.5 1136.1 1022.5C1139.5 1022.5 1142.5 1021.8 1145.7 1021.1C1148.8 1020.5 1152.7 1018.8 1155.2 1018.7C1157.7 1018.6 1159.0 1020.5 1160.6 1020.5C1162.2 1020.5 1163.3 1018.4 1164.7 1018.7C1166.0 1019.0 1166.9 1021.7 1168.8 1022.2C1170.6 1022.7 1173.7 1021.7 1175.5 1021.8C1177.4 1021.9 1178.0 1023.0 1179.6 1022.8C1181.2 1022.5 1182.6 1020.7 1185.1 1020.5C1187.5 1020.2 1191.8 1021.5 1194.6 1021.1C1197.3 1020.8 1199.4 1018.5 1201.4 1018.4C1203.3 1018.3 1204.8 1020.8 1206.1 1020.5C1207.5 1020.1 1208.0 1016.5 1209.5 1016.4C1211.0 1016.3 1213.6 1019.7 1214.9 1019.8C1216.3 1019.9 1216.5 1017.3 1217.7 1017.1C1218.8 1016.8 1220.6 1018.2 1221.7 1018.2C1222.9 1018.2 1223.3 1016.9 1224.5 1017.1C1225.6 1017.2 1227.4 1019.2 1228.5 1019.1C1229.7 1019.0 1229.9 1016.4 1231.2 1016.4C1232.6 1016.4 1235.3 1018.7 1236.7 1019.1C1238.0 1019.6 1238.5 1021.6 1239.4 1019.1C1240.4 1016.6 1241.3 1005.4 1242.4 1004.2C1243.5 1002.9 1244.9 1009.1 1246.2 1011.6C1247.5 1014.1 1249.1 1018.2 1250.3 1019.1C1251.4 1020.0 1252.2 1017.0 1253.3 1017.1C1254.3 1017.2 1255.2 1019.4 1256.4 1019.8C1257.6 1020.1 1259.4 1019.8 1260.5 1019.1C1261.5 1018.4 1262.0 1015.4 1262.8 1015.4C1263.5 1015.5 1263.7 1019.0 1265.0 1019.3C1266.3 1019.6 1269.2 1017.3 1270.6 1017.2C1272.0 1017.1 1272.4 1018.8 1273.4 1018.6C1274.5 1018.4 1275.4 1015.7 1277.0 1015.8C1278.5 1015.9 1281.1 1019.4 1282.6 1019.3C1284.1 1019.2 1284.7 1015.1 1286.1 1015.1C1287.5 1015.1 1289.5 1019.5 1291.0 1019.3C1292.5 1019.1 1294.1 1014.3 1295.2 1013.7C1296.4 1013.1 1297.2 1015.5 1298.0 1015.8C1298.9 1016.0 1298.9 1014.6 1300.2 1015.1C1301.4 1015.5 1304.5 1018.8 1305.8 1018.6C1307.1 1018.4 1307.0 1013.9 1307.9 1013.7C1308.8 1013.4 1310.2 1016.5 1311.4 1017.2C1312.6 1017.9 1314.1 1017.4 1314.9 1017.9C1315.7 1018.4 1315.7 1020.4 1316.3 1020.0C1316.9 1019.6 1317.7 1016.1 1318.4 1015.8C1319.1 1015.4 1319.6 1018.0 1320.5 1017.9C1321.5 1017.8 1323.0 1015.0 1324.1 1015.1C1325.1 1015.2 1325.7 1018.5 1326.9 1018.6C1328.0 1018.7 1329.8 1015.9 1331.1 1015.8C1332.4 1015.7 1333.6 1017.9 1334.6 1017.9C1335.7 1017.9 1336.4 1015.9 1337.4 1015.8C1338.5 1015.7 1339.3 1016.7 1340.9 1017.2C1342.6 1017.7 1345.4 1019.1 1347.3 1018.6C1349.1 1018.1 1351.0 1014.4 1352.2 1014.1C1353.4 1013.7 1353.5 1017.5 1354.3 1016.5C1355.1 1015.5 1356.1 1008.3 1357.1 1008.0C1358.2 1007.8 1359.7 1015.3 1360.6 1015.1C1361.6 1014.8 1361.9 1009.0 1362.7 1006.6C1363.6 1004.3 1364.6 1001.0 1365.5 1001.0C1366.5 1001.0 1367.3 1005.4 1368.4 1006.6C1369.4 1007.9 1370.9 1008.2 1371.9 1008.8C1372.8 1009.3 1373.0 1010.6 1374.0 1010.2C1374.9 1009.7 1376.6 1006.5 1377.5 1005.9C1378.4 1005.4 1378.8 1007.2 1379.6 1006.6C1380.4 1006.1 1381.5 1002.9 1382.4 1002.4C1383.4 1002.0 1384.2 1003.1 1385.2 1003.8C1386.3 1004.5 1387.2 1008.0 1388.8 1006.6C1390.3 1005.3 1392.9 995.2 1394.4 995.8C1395.9 996.4 1396.8 1009.6 1397.9 1010.2C1398.9 1010.7 1400.0 1000.9 1400.7 998.9C1401.4 996.9 1401.5 1000.0 1402.1 998.2C1402.7 996.4 1403.4 988.6 1404.2 988.4C1405.0 988.1 1406.2 993.4 1407.0 996.8C1407.9 1000.2 1408.6 1007.6 1409.1 1008.8C1409.7 1009.9 1410.0 1004.1 1410.5 1003.8C1411.1 1003.6 1411.6 1007.0 1412.7 1007.3C1413.7 1007.7 1415.6 1005.8 1416.9 1005.9C1418.2 1006.1 1419.2 1008.3 1420.4 1008.0C1421.6 1007.8 1422.7 1006.2 1423.9 1004.5C1425.1 1002.9 1426.4 998.8 1427.4 998.2C1428.5 997.6 1429.4 1000.8 1430.2 1001.0C1431.1 1001.3 1431.5 999.5 1432.3 999.6C1433.2 999.7 1434.3 1000.9 1435.2 1001.7C1436.0 1002.5 1436.6 1007.7 1437.3 1004.5C1437.9 1001.4 1438.3 982.4 1439.1 982.7C1439.9 983.1 1441.1 1004.4 1442.2 1006.6C1443.3 1008.9 1444.5 998.8 1445.7 996.1C1446.9 993.4 1448.0 991.1 1449.2 990.5C1450.4 989.9 1451.4 991.5 1452.7 992.6C1454.0 993.6 1455.4 998.3 1457.0 996.8C1458.5 995.3 1461.1 985.7 1461.9 983.4" stroke="#ff7f0e" stroke-width="2.3" stroke-linejoin="round" fill="none"/></g>
<path d="M116.5 1054.5v4.9M284.5 1054.5v4.9M452.5 1054.5v4.9M621.5 1054.5v4.9M789.5 1054.5v4.9M957.5 1054.5v4.9M1125.5 1054.5v4.9M1293.5 1054.5v4.9M116.5 1024.5h-4.9M116.5 938.5h-4.9M116.5 852.5h-4.9M116.5 766.5h-4.9M116.5 681.5h-4.9M116.5 595.5h-4.9" stroke="#000" stroke-width="1.11" fill="none"/>
<rect x="116.5" y="577.5" width="1346.0" height="477.0" fill="none" stroke="#000" stroke-width="1.11"/>
<text x="105.3" y="1031.8" font-size="20.83" text-anchor="end" textLength="55.35" lengthAdjust="spacingAndGlyphs">0.00</text>
<text x="105.3" y="946.06" font-size="20.83" text-anchor="end" textLength="55.35" lengthAdjust="spacingAndGlyphs">0.05</text>
<text x="105.3" y="860.32" font-size="20.83" text-anchor="end" textLength="55.35" lengthAdjust="spacingAndGlyphs">0.10</text>
<text x="105.3" y="774.58" font-size="20.83" text-anchor="end" textLength="55.35" lengthAdjust="spacingAndGlyphs">0.15</text>
<text x="105.3" y="688.84" font-size="20.83" text-anchor="end" textLength="55.35" lengthAdjust="spacingAndGlyphs">0.20</text>
<text x="105.3" y="603.1" font-size="20.83" text-anchor="end" textLength="55.35" lengthAdjust="spacingAndGlyphs">0.25</text>
<text transform="translate(112.90 1077.6) rotate(-30)" font-size="20.83" text-anchor="end" textLength="110.78" lengthAdjust="spacingAndGlyphs">06-08 00</text>
<text transform="translate(280.90 1077.6) rotate(-30)" font-size="20.83" text-anchor="end" textLength="110.78" lengthAdjust="spacingAndGlyphs">06-08 03</text>
<text transform="translate(448.90 1077.6) rotate(-30)" font-size="20.83" text-anchor="end" textLength="110.78" lengthAdjust="spacingAndGlyphs">06-08 06</text>
<text transform="translate(617.90 1077.6) rotate(-30)" font-size="20.83" text-anchor="end" textLength="110.78" lengthAdjust="spacingAndGlyphs">06-08 09</text>
<text transform="translate(785.90 1077.6) rotate(-30)" font-size="20.83" text-anchor="end" textLength="110.78" lengthAdjust="spacingAndGlyphs">06-08 12</text>
<text transform="translate(953.90 1077.6) rotate(-30)" font-size="20.83" text-anchor="end" textLength="110.78" lengthAdjust="spacingAndGlyphs">06-08 15</text>
<text transform="translate(1121.90 1077.6) rotate(-30)" font-size="20.83" text-anchor="end" textLength="110.78" lengthAdjust="spacingAndGlyphs">06-08 18</text>
<text transform="translate(1289.90 1077.6) rotate(-30)" font-size="20.83" text-anchor="end" textLength="110.78" lengthAdjust="spacingAndGlyphs">06-08 21</text>
<text x="115.2" y="30" font-size="26.6" text-anchor="start" textLength="42.65" lengthAdjust="spacingAndGlyphs">(a)</text>
<text x="114.6" y="569.1" font-size="26.6" text-anchor="start" textLength="43.75" lengthAdjust="spacingAndGlyphs">(b)</text>
<text x="632.9" y="30.1" font-size="26.6" text-anchor="start" textLength="302.89" lengthAdjust="spacingAndGlyphs">10.0 MHz N0000033</text>
<text x="789.2" y="1157.8" font-size="20.83" text-anchor="middle" textLength="50.59" lengthAdjust="spacingAndGlyphs">UTC</text>
<text transform="translate(62.6 277.6) rotate(-90)" font-size="20.83" text-anchor="middle" textLength="228.38" lengthAdjust="spacingAndGlyphs">Doppler Shift [Hz]</text>
<text transform="translate(40 815.8) rotate(-90)" font-size="20.83" text-anchor="middle" textLength="211.58" lengthAdjust="spacingAndGlyphs">Peak Voltage [V]</text>
<rect x="1047.4" y="48.6" width="406" height="79.6" rx="3" ry="3" fill="#fff" fill-opacity="0.8" stroke="#ccc" stroke-opacity="0.8" stroke-width="1.4"/>
<circle cx="1073.5" cy="63.3" r="2.75" fill="#1f77b4"/>
<path d="M1053.4 101.7H1091.6" stroke="#ff7f0e" stroke-width="2.08"/>
<text x="1105.8" y="68.4" font-size="17" text-anchor="start" textLength="100.87" lengthAdjust="spacingAndGlyphs">Raw Data</text>
<text x="1105.8" y="95.7" font-size="17" text-anchor="start" textLength="271.43" lengthAdjust="spacingAndGlyphs">Butterworth Filtered Data</text>
<text x="1105.8" y="117.2" font-size="17" text-anchor="start" textLength="340.69" lengthAdjust="spacingAndGlyphs">(N=6, Tc=3.3333 min, Type: low)</text>
<rect x="1047.4" y="587.7" width="406" height="79.6" rx="3" ry="3" fill="#fff" fill-opacity="0.8" stroke="#ccc" stroke-opacity="0.8" stroke-width="1.4"/>
<circle cx="1073.5" cy="602.4000000000001" r="2.75" fill="#1f77b4"/>
<path d="M1053.4 640.8000000000001H1091.6" stroke="#ff7f0e" stroke-width="2.08"/>
<text x="1105.8" y="607.5" font-size="17" text-anchor="start" textLength="100.87" lengthAdjust="spacingAndGlyphs">Raw Data</text>
<text x="1105.8" y="634.8" font-size="17" text-anchor="start" textLength="271.43" lengthAdjust="spacingAndGlyphs">Butterworth Filtered Data</text>
<text x="1105.8" y="656.3" font-size="17" text-anchor="start" textLength="340.69" lengthAdjust="spacingAndGlyphs">(N=6, Tc=3.3333 min, Type: low)</text>
</svg></body></html>
